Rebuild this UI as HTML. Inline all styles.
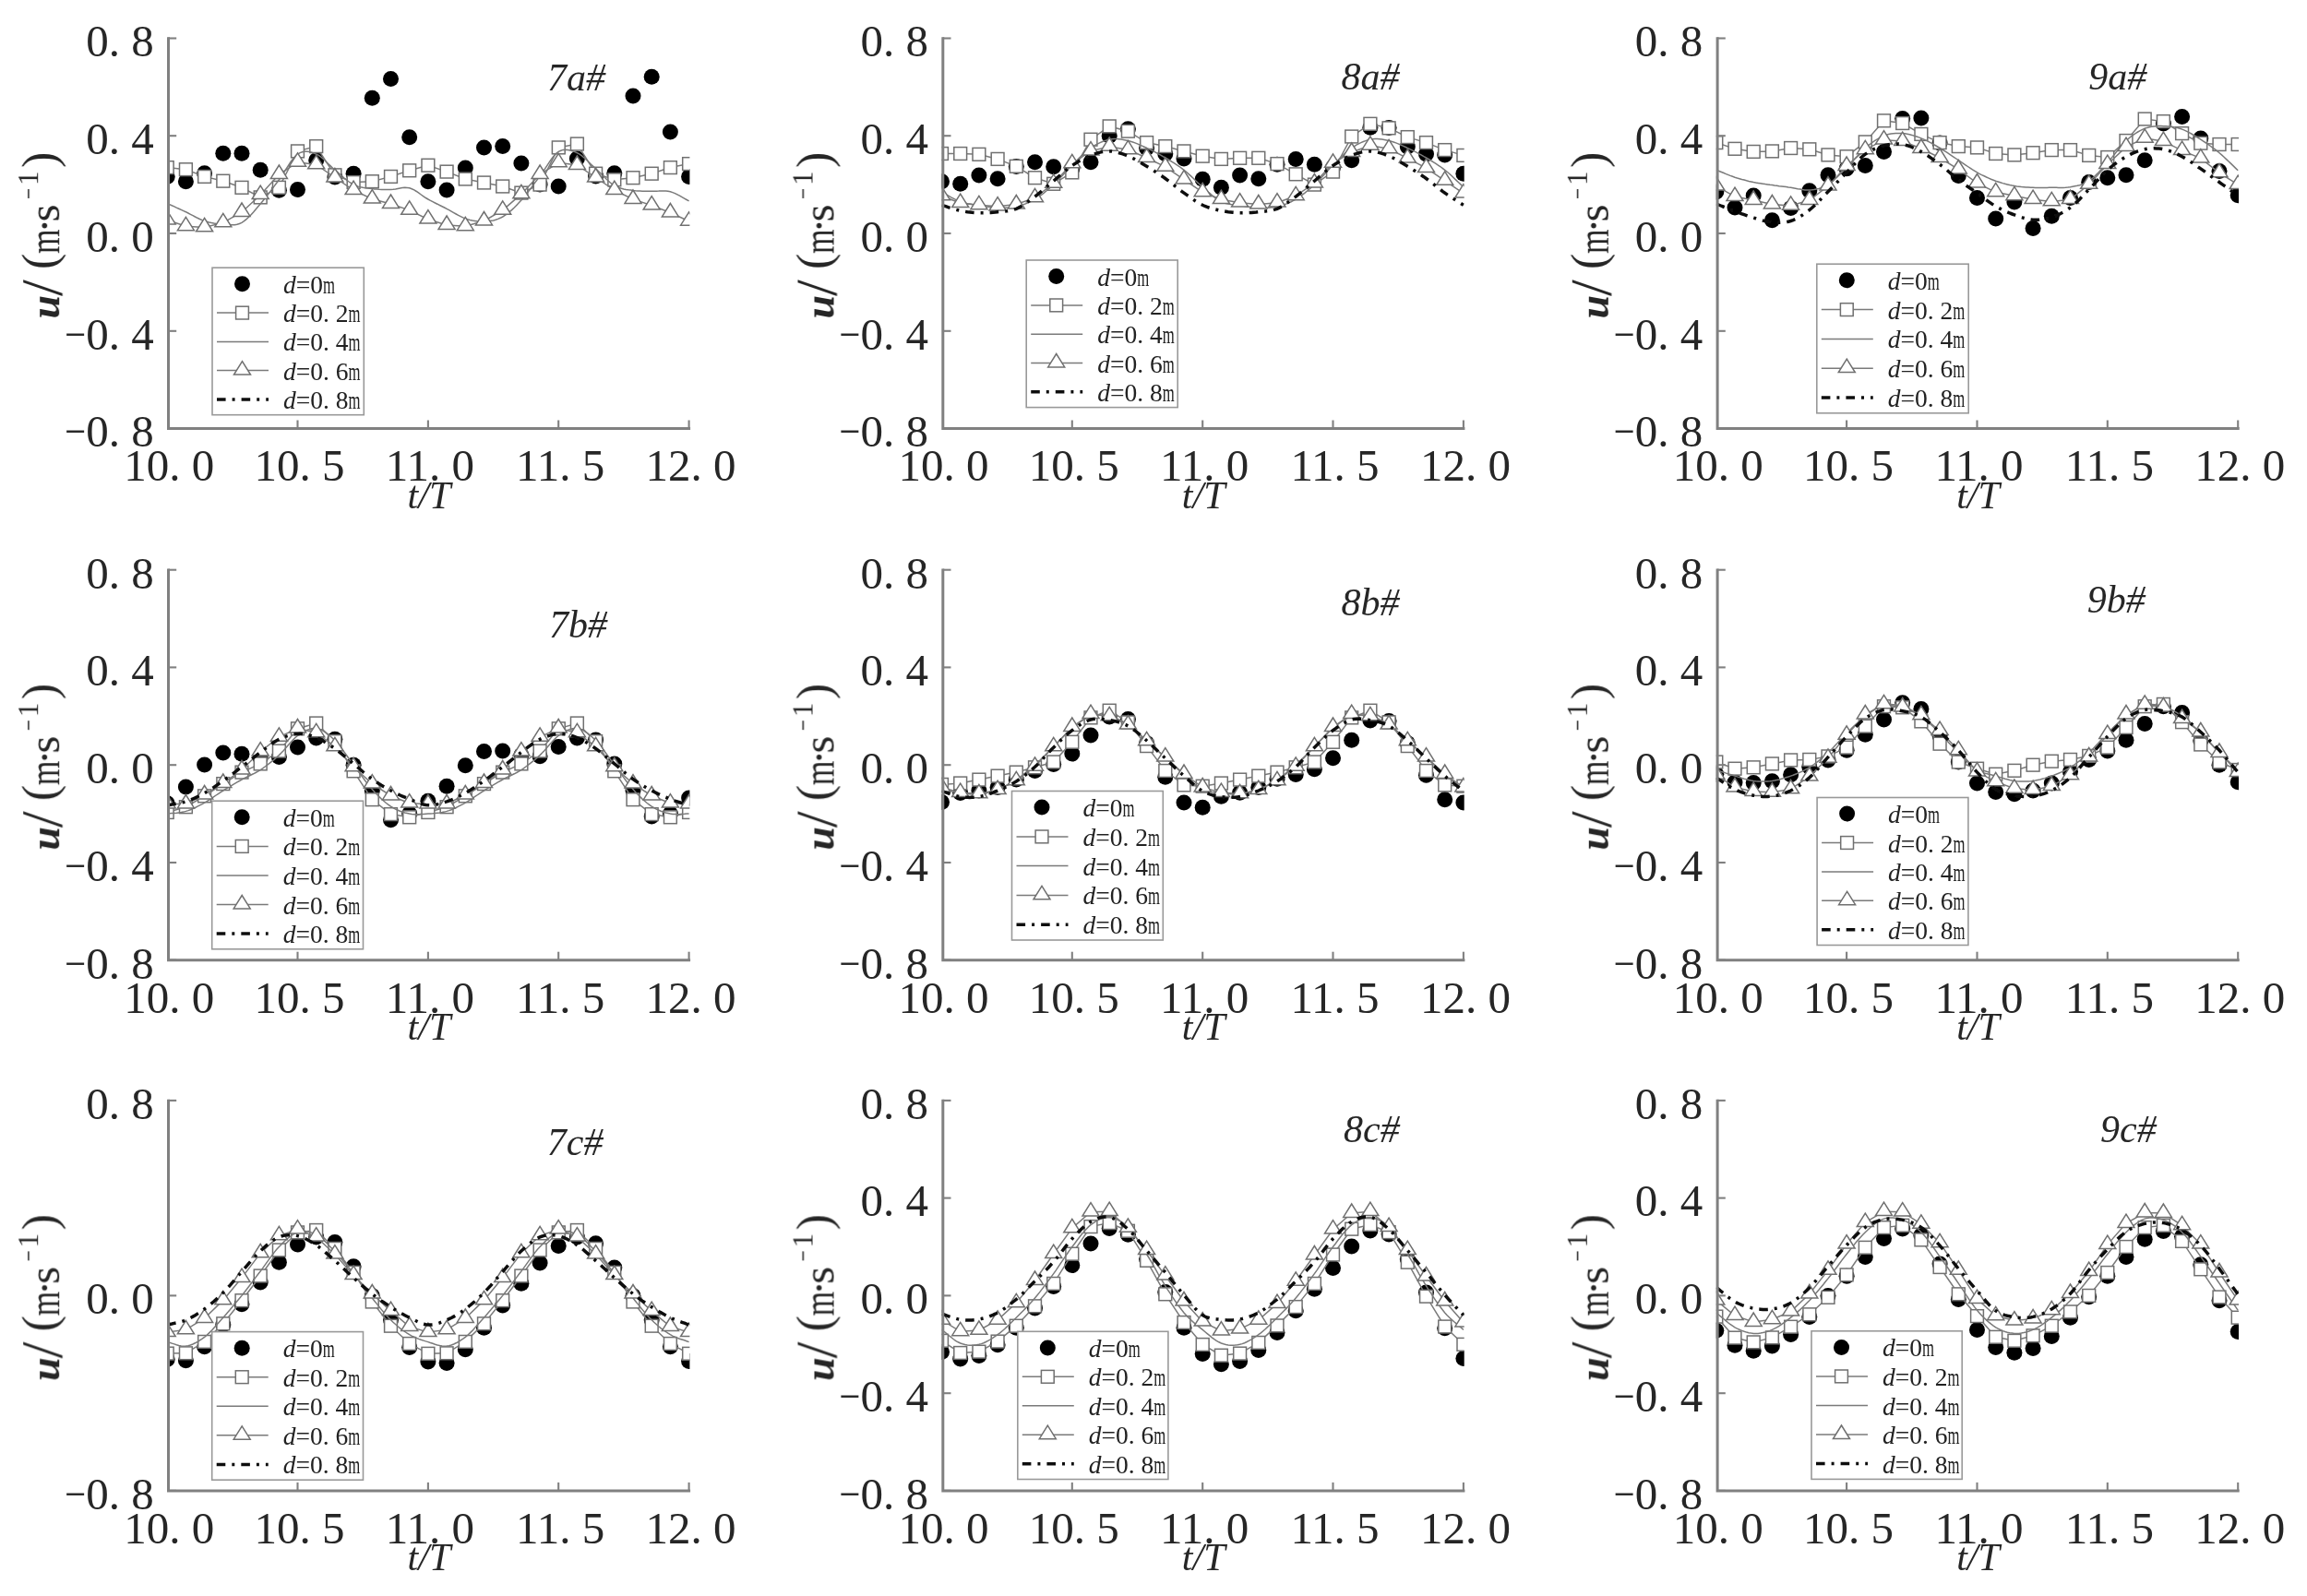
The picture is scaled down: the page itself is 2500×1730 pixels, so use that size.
<!DOCTYPE html>
<html><head><meta charset="utf-8"><title>u - t/T</title><style>
html,body{margin:0;padding:0;background:#fff}
svg{display:block}
text{font-family:"Liberation Serif",serif;fill:#272727}
.tk{font-size:49px}
.it{font-size:42px;font-style:italic}
.yl{font-size:49px}
.sup{font-size:30px}
.lg{font-size:27.5px;fill:#222}
.lm{font-size:21px}
</style></head>
<body><svg width="2500" height="1730" viewBox="0 0 2500 1730">
<defs><filter id="soft" filterUnits="userSpaceOnUse" x="0" y="0" width="2500" height="1730"><feGaussianBlur stdDeviation="0.7"/></filter></defs>
<rect width="2500" height="1730" fill="#fff"/>
<g filter="url(#soft)">
<g id="p7a"><clipPath id="clip7a"><rect x="181.2" y="31.5" width="566.2" height="433.0"/></clipPath>
<g clip-path="url(#clip7a)">
<circle cx="181.2" cy="191.4" r="8.5" fill="#000"/>
<circle cx="201.4" cy="196.7" r="8.5" fill="#000"/>
<circle cx="221.6" cy="187.7" r="8.5" fill="#000"/>
<circle cx="241.8" cy="166.3" r="8.5" fill="#000"/>
<circle cx="262.0" cy="166.3" r="8.5" fill="#000"/>
<circle cx="282.2" cy="184.3" r="8.5" fill="#000"/>
<circle cx="302.4" cy="206.2" r="8.5" fill="#000"/>
<circle cx="322.5" cy="205.4" r="8.5" fill="#000"/>
<circle cx="342.7" cy="173.7" r="8.5" fill="#000"/>
<circle cx="362.9" cy="191.9" r="8.5" fill="#000"/>
<circle cx="383.1" cy="188.2" r="8.5" fill="#000"/>
<circle cx="403.3" cy="106.3" r="8.5" fill="#000"/>
<circle cx="423.5" cy="85.6" r="8.5" fill="#000"/>
<circle cx="443.7" cy="148.8" r="8.5" fill="#000"/>
<circle cx="463.9" cy="196.7" r="8.5" fill="#000"/>
<circle cx="484.1" cy="205.9" r="8.5" fill="#000"/>
<circle cx="504.3" cy="181.9" r="8.5" fill="#000"/>
<circle cx="524.5" cy="159.9" r="8.5" fill="#000"/>
<circle cx="544.7" cy="158.6" r="8.5" fill="#000"/>
<circle cx="564.9" cy="177.1" r="8.5" fill="#000"/>
<circle cx="585.1" cy="199.9" r="8.5" fill="#000"/>
<circle cx="605.2" cy="202.0" r="8.5" fill="#000"/>
<circle cx="625.4" cy="172.1" r="8.5" fill="#000"/>
<circle cx="645.6" cy="190.9" r="8.5" fill="#000"/>
<circle cx="665.8" cy="187.7" r="8.5" fill="#000"/>
<circle cx="686.0" cy="103.9" r="8.5" fill="#000"/>
<circle cx="706.2" cy="83.3" r="8.5" fill="#000"/>
<circle cx="726.4" cy="143.0" r="8.5" fill="#000"/>
<circle cx="746.6" cy="191.4" r="8.5" fill="#000"/>
<polyline points="181.2,181.6 201.4,183.7 221.6,191.4 241.8,196.2 262.0,203.3 282.2,213.9 302.4,203.3 322.5,163.9 342.7,158.6 362.9,189.8 383.1,197.5 403.3,196.7 423.5,191.4 443.7,184.8 463.9,179.2 484.1,186.1 504.3,194.0 524.5,198.0 544.7,202.0 564.9,209.1 585.1,200.1 605.2,159.9 625.4,156.0 645.6,188.2 665.8,194.8 686.0,192.7 706.2,188.2 726.4,181.6 746.6,177.6" fill="none" stroke="#7a7a7a" stroke-width="1.5"/>
<rect x="174.3" y="174.7" width="13.8" height="13.8" fill="#fff" stroke="#707070" stroke-width="1.5"/>
<rect x="194.5" y="176.8" width="13.8" height="13.8" fill="#fff" stroke="#707070" stroke-width="1.5"/>
<rect x="214.7" y="184.5" width="13.8" height="13.8" fill="#fff" stroke="#707070" stroke-width="1.5"/>
<rect x="234.9" y="189.3" width="13.8" height="13.8" fill="#fff" stroke="#707070" stroke-width="1.5"/>
<rect x="255.1" y="196.4" width="13.8" height="13.8" fill="#fff" stroke="#707070" stroke-width="1.5"/>
<rect x="275.3" y="207.0" width="13.8" height="13.8" fill="#fff" stroke="#707070" stroke-width="1.5"/>
<rect x="295.5" y="196.4" width="13.8" height="13.8" fill="#fff" stroke="#707070" stroke-width="1.5"/>
<rect x="315.6" y="157.0" width="13.8" height="13.8" fill="#fff" stroke="#707070" stroke-width="1.5"/>
<rect x="335.8" y="151.7" width="13.8" height="13.8" fill="#fff" stroke="#707070" stroke-width="1.5"/>
<rect x="356.0" y="182.9" width="13.8" height="13.8" fill="#fff" stroke="#707070" stroke-width="1.5"/>
<rect x="376.2" y="190.6" width="13.8" height="13.8" fill="#fff" stroke="#707070" stroke-width="1.5"/>
<rect x="396.4" y="189.8" width="13.8" height="13.8" fill="#fff" stroke="#707070" stroke-width="1.5"/>
<rect x="416.6" y="184.5" width="13.8" height="13.8" fill="#fff" stroke="#707070" stroke-width="1.5"/>
<rect x="436.8" y="177.9" width="13.8" height="13.8" fill="#fff" stroke="#707070" stroke-width="1.5"/>
<rect x="457.0" y="172.3" width="13.8" height="13.8" fill="#fff" stroke="#707070" stroke-width="1.5"/>
<rect x="477.2" y="179.2" width="13.8" height="13.8" fill="#fff" stroke="#707070" stroke-width="1.5"/>
<rect x="497.4" y="187.1" width="13.8" height="13.8" fill="#fff" stroke="#707070" stroke-width="1.5"/>
<rect x="517.6" y="191.1" width="13.8" height="13.8" fill="#fff" stroke="#707070" stroke-width="1.5"/>
<rect x="537.8" y="195.1" width="13.8" height="13.8" fill="#fff" stroke="#707070" stroke-width="1.5"/>
<rect x="558.0" y="202.2" width="13.8" height="13.8" fill="#fff" stroke="#707070" stroke-width="1.5"/>
<rect x="578.2" y="193.2" width="13.8" height="13.8" fill="#fff" stroke="#707070" stroke-width="1.5"/>
<rect x="598.4" y="153.0" width="13.8" height="13.8" fill="#fff" stroke="#707070" stroke-width="1.5"/>
<rect x="618.5" y="149.1" width="13.8" height="13.8" fill="#fff" stroke="#707070" stroke-width="1.5"/>
<rect x="638.7" y="181.3" width="13.8" height="13.8" fill="#fff" stroke="#707070" stroke-width="1.5"/>
<rect x="658.9" y="187.9" width="13.8" height="13.8" fill="#fff" stroke="#707070" stroke-width="1.5"/>
<rect x="679.1" y="185.8" width="13.8" height="13.8" fill="#fff" stroke="#707070" stroke-width="1.5"/>
<rect x="699.3" y="181.3" width="13.8" height="13.8" fill="#fff" stroke="#707070" stroke-width="1.5"/>
<rect x="719.5" y="174.7" width="13.8" height="13.8" fill="#fff" stroke="#707070" stroke-width="1.5"/>
<rect x="739.7" y="170.7" width="13.8" height="13.8" fill="#fff" stroke="#707070" stroke-width="1.5"/>
<polyline points="181.2,220.5 183.7,221.6 186.2,222.8 188.8,223.9 191.3,225.1 193.8,226.2 196.3,227.4 198.9,228.6 201.4,229.7 203.9,231.0 206.4,232.3 209.0,233.6 211.5,235.0 214.0,236.3 216.5,237.5 219.1,238.6 221.6,239.5 224.1,240.3 226.6,241.0 229.2,241.6 231.7,242.1 234.2,242.5 236.7,242.8 239.3,243.1 241.8,243.2 244.3,243.4 246.8,243.6 249.4,243.7 251.9,243.8 254.4,243.7 256.9,243.3 259.4,242.5 262.0,241.4 264.5,239.7 267.0,237.7 269.5,235.3 272.1,232.7 274.6,229.9 277.1,226.9 279.6,224.0 282.2,221.0 284.7,218.0 287.2,214.9 289.7,211.7 292.3,208.4 294.8,205.0 297.3,201.6 299.8,198.2 302.4,194.8 304.9,191.2 307.4,187.4 309.9,183.3 312.5,179.3 315.0,175.5 317.5,172.1 320.0,169.2 322.5,167.1 325.1,165.6 327.6,164.7 330.1,164.3 332.6,164.3 335.2,164.6 337.7,165.2 340.2,166.1 342.7,167.1 345.3,168.4 347.8,170.2 350.3,172.3 352.8,174.7 355.4,177.2 357.9,179.6 360.4,182.1 362.9,184.3 365.5,186.4 368.0,188.6 370.5,190.8 373.0,193.0 375.6,195.1 378.1,197.0 380.6,198.7 383.1,200.1 385.7,201.3 388.2,202.1 390.7,202.8 393.2,203.3 395.7,203.7 398.3,204.0 400.8,204.3 403.3,204.6 405.8,204.9 408.4,205.1 410.9,205.3 413.4,205.4 415.9,205.4 418.5,205.5 421.0,205.4 423.5,205.4 426.0,205.2 428.6,204.9 431.1,204.4 433.6,203.9 436.1,203.5 438.7,203.3 441.2,203.4 443.7,203.8 446.2,204.7 448.8,205.9 451.3,207.5 453.8,209.2 456.3,211.0 458.9,212.8 461.4,214.5 463.9,216.0 466.4,217.4 468.9,218.7 471.5,220.0 474.0,221.2 476.5,222.5 479.0,223.7 481.6,225.0 484.1,226.3 486.6,227.7 489.1,229.1 491.7,230.6 494.2,232.0 496.7,233.4 499.2,234.7 501.8,235.9 504.3,236.9 506.8,237.7 509.3,238.4 511.9,239.0 514.4,239.4 516.9,239.8 519.4,240.0 522.0,240.1 524.5,240.0 527.0,239.9 529.5,239.7 532.1,239.3 534.6,238.9 537.1,238.2 539.6,237.4 542.1,236.3 544.7,235.0 547.2,233.4 549.7,231.6 552.2,229.6 554.8,227.4 557.3,225.0 559.8,222.4 562.3,219.8 564.9,217.0 567.4,214.2 569.9,211.1 572.4,207.8 575.0,204.5 577.5,201.1 580.0,197.6 582.5,194.2 585.1,190.9 587.6,187.4 590.1,183.6 592.6,179.8 595.2,175.9 597.7,172.3 600.2,169.1 602.7,166.4 605.2,164.4 607.8,163.2 610.3,162.4 612.8,162.2 615.3,162.4 617.9,162.9 620.4,163.7 622.9,164.6 625.4,165.7 628.0,167.1 630.5,168.9 633.0,171.0 635.5,173.3 638.1,175.7 640.6,178.2 643.1,180.6 645.6,182.9 648.2,185.3 650.7,187.7 653.2,190.3 655.7,192.8 658.3,195.2 660.8,197.5 663.3,199.5 665.8,201.2 668.4,202.5 670.9,203.5 673.4,204.3 675.9,204.9 678.4,205.4 681.0,205.8 683.5,206.1 686.0,206.5 688.5,206.8 691.1,207.0 693.6,207.1 696.1,207.2 698.6,207.2 701.2,207.2 703.7,207.2 706.2,207.3 708.7,207.3 711.3,207.2 713.8,207.1 716.3,206.9 718.8,206.9 721.4,207.0 723.9,207.3 726.4,207.8 728.9,208.6 731.5,209.6 734.0,210.9 736.5,212.2 739.0,213.6 741.6,215.1 744.1,216.5 746.6,217.8" fill="none" stroke="#7a7a7a" stroke-width="1.5"/>
<polyline points="181.2,238.5 201.4,245.3 221.6,246.4 241.8,241.4 262.0,230.0 282.2,211.2 302.4,189.0 322.5,175.8 342.7,178.4 362.9,192.5 383.1,206.2 403.3,215.7 423.5,221.0 443.7,227.9 463.9,237.7 484.1,244.0 504.3,245.3 524.5,239.5 544.7,227.9 564.9,210.4 585.1,189.0 605.2,176.3 625.4,179.0 645.6,192.5 665.8,206.2 686.0,216.0 706.2,222.6 726.4,230.5 746.6,239.8" fill="none" stroke="#7a7a7a" stroke-width="1.5"/>
<polygon points="181.2,228.5 172.2,242.9 190.2,242.9" fill="#fff" stroke="#707070" stroke-width="1.5"/>
<polygon points="201.4,235.3 192.4,249.7 210.4,249.7" fill="#fff" stroke="#707070" stroke-width="1.5"/>
<polygon points="221.6,236.4 212.6,250.8 230.6,250.8" fill="#fff" stroke="#707070" stroke-width="1.5"/>
<polygon points="241.8,231.4 232.8,245.8 250.8,245.8" fill="#fff" stroke="#707070" stroke-width="1.5"/>
<polygon points="262.0,220.0 253.0,234.4 271.0,234.4" fill="#fff" stroke="#707070" stroke-width="1.5"/>
<polygon points="282.2,201.2 273.2,215.6 291.2,215.6" fill="#fff" stroke="#707070" stroke-width="1.5"/>
<polygon points="302.4,179.0 293.4,193.4 311.4,193.4" fill="#fff" stroke="#707070" stroke-width="1.5"/>
<polygon points="322.5,165.8 313.5,180.2 331.5,180.2" fill="#fff" stroke="#707070" stroke-width="1.5"/>
<polygon points="342.7,168.4 333.7,182.8 351.7,182.8" fill="#fff" stroke="#707070" stroke-width="1.5"/>
<polygon points="362.9,182.5 353.9,196.9 371.9,196.9" fill="#fff" stroke="#707070" stroke-width="1.5"/>
<polygon points="383.1,196.2 374.1,210.6 392.1,210.6" fill="#fff" stroke="#707070" stroke-width="1.5"/>
<polygon points="403.3,205.7 394.3,220.1 412.3,220.1" fill="#fff" stroke="#707070" stroke-width="1.5"/>
<polygon points="423.5,211.0 414.5,225.4 432.5,225.4" fill="#fff" stroke="#707070" stroke-width="1.5"/>
<polygon points="443.7,217.9 434.7,232.3 452.7,232.3" fill="#fff" stroke="#707070" stroke-width="1.5"/>
<polygon points="463.9,227.7 454.9,242.1 472.9,242.1" fill="#fff" stroke="#707070" stroke-width="1.5"/>
<polygon points="484.1,234.0 475.1,248.4 493.1,248.4" fill="#fff" stroke="#707070" stroke-width="1.5"/>
<polygon points="504.3,235.3 495.3,249.7 513.3,249.7" fill="#fff" stroke="#707070" stroke-width="1.5"/>
<polygon points="524.5,229.5 515.5,243.9 533.5,243.9" fill="#fff" stroke="#707070" stroke-width="1.5"/>
<polygon points="544.7,217.9 535.7,232.3 553.7,232.3" fill="#fff" stroke="#707070" stroke-width="1.5"/>
<polygon points="564.9,200.4 555.9,214.8 573.9,214.8" fill="#fff" stroke="#707070" stroke-width="1.5"/>
<polygon points="585.1,179.0 576.1,193.4 594.1,193.4" fill="#fff" stroke="#707070" stroke-width="1.5"/>
<polygon points="605.2,166.3 596.2,180.7 614.2,180.7" fill="#fff" stroke="#707070" stroke-width="1.5"/>
<polygon points="625.4,169.0 616.4,183.4 634.4,183.4" fill="#fff" stroke="#707070" stroke-width="1.5"/>
<polygon points="645.6,182.5 636.6,196.9 654.6,196.9" fill="#fff" stroke="#707070" stroke-width="1.5"/>
<polygon points="665.8,196.2 656.8,210.6 674.8,210.6" fill="#fff" stroke="#707070" stroke-width="1.5"/>
<polygon points="686.0,206.0 677.0,220.4 695.0,220.4" fill="#fff" stroke="#707070" stroke-width="1.5"/>
<polygon points="706.2,212.6 697.2,227.0 715.2,227.0" fill="#fff" stroke="#707070" stroke-width="1.5"/>
<polygon points="726.4,220.5 717.4,234.9 735.4,234.9" fill="#fff" stroke="#707070" stroke-width="1.5"/>
<polygon points="746.6,229.8 737.6,244.2 755.6,244.2" fill="#fff" stroke="#707070" stroke-width="1.5"/>
</g>
<path d="M182.5,40.3 V464.5 H748.1" fill="none" stroke="#808080" stroke-width="3"/>
<line x1="182.2" y1="41.5" x2="191.2" y2="41.5" stroke="#808080" stroke-width="2.1"/>
<text class="tk" x="166.7" y="61.3" text-anchor="end">0. 8</text>
<line x1="182.2" y1="147.2" x2="191.2" y2="147.2" stroke="#808080" stroke-width="2.1"/>
<text class="tk" x="166.7" y="167.0" text-anchor="end">0. 4</text>
<line x1="182.2" y1="253.0" x2="191.2" y2="253.0" stroke="#808080" stroke-width="2.1"/>
<text class="tk" x="166.7" y="272.8" text-anchor="end">0. 0</text>
<line x1="182.2" y1="358.8" x2="191.2" y2="358.8" stroke="#808080" stroke-width="2.1"/>
<text class="tk" x="166.7" y="378.6" text-anchor="end"><tspan textLength="23" lengthAdjust="spacingAndGlyphs">−</tspan>0. 4</text>
<line x1="182.2" y1="464.5" x2="191.2" y2="464.5" stroke="#808080" stroke-width="2.1"/>
<text class="tk" x="166.7" y="484.3" text-anchor="end"><tspan textLength="23" lengthAdjust="spacingAndGlyphs">−</tspan>0. 8</text>
<text class="tk" x="183.2" y="521.3" text-anchor="middle">10. 0</text>
<line x1="322.5" y1="464.5" x2="322.5" y2="455.5" stroke="#808080" stroke-width="2.1"/>
<text class="tk" x="324.5" y="521.3" text-anchor="middle">10. 5</text>
<line x1="463.9" y1="464.5" x2="463.9" y2="455.5" stroke="#808080" stroke-width="2.1"/>
<text class="tk" x="465.9" y="521.3" text-anchor="middle">11. 0</text>
<line x1="605.2" y1="464.5" x2="605.2" y2="455.5" stroke="#808080" stroke-width="2.1"/>
<text class="tk" x="607.2" y="521.3" text-anchor="middle">11. 5</text>
<line x1="746.6" y1="464.5" x2="746.6" y2="455.5" stroke="#808080" stroke-width="2.1"/>
<text class="tk" x="748.6" y="521.3" text-anchor="middle">12. 0</text>
<text class="it" x="464.9" y="550.5" text-anchor="middle">t/T</text>
<text class="yl" transform="translate(64.2,345.0) rotate(-90)"><tspan x="-0.5" y="0" font-style="italic" font-weight="bold" font-size="46">u</tspan><tspan x="24" y="3" font-size="64">/</tspan><tspan x="53" y="-4" font-size="52">(</tspan><tspan x="70" y="0" textLength="26.5" lengthAdjust="spacingAndGlyphs">m</tspan><tspan x="92.2" y="0">·</tspan><tspan x="104.5" y="0">s</tspan><tspan x="129" y="-23" font-size="31" textLength="12" lengthAdjust="spacingAndGlyphs">−</tspan><tspan x="144" y="-23" font-size="31">1</tspan><tspan x="163" y="-4" font-size="52">)</tspan></text>
<text class="it" x="593.0" y="98.0">7a#</text>
<rect x="230.0" y="290.2" width="164.3" height="159.5" fill="#fff" stroke="#999" stroke-width="1.6"/>
<circle cx="262.5" cy="307.8" r="8.5" fill="#000"/>
<text class="lg" x="307.0" y="317.8"><tspan font-style="italic">d</tspan>=0<tspan textLength="13" lengthAdjust="spacingAndGlyphs">m</tspan></text>
<line x1="235.0" y1="339.1" x2="291.0" y2="339.1" stroke="#7a7a7a" stroke-width="1.5"/>
<rect x="255.6" y="332.2" width="13.8" height="13.8" fill="#fff" stroke="#707070" stroke-width="1.5"/>
<text class="lg" x="307.0" y="349.1"><tspan font-style="italic">d</tspan>=0. 2<tspan textLength="13" lengthAdjust="spacingAndGlyphs">m</tspan></text>
<line x1="235.0" y1="370.4" x2="291.0" y2="370.4" stroke="#7a7a7a" stroke-width="1.5"/>
<text class="lg" x="307.0" y="380.4"><tspan font-style="italic">d</tspan>=0. 4<tspan textLength="13" lengthAdjust="spacingAndGlyphs">m</tspan></text>
<line x1="235.0" y1="401.6" x2="291.0" y2="401.6" stroke="#7a7a7a" stroke-width="1.5"/>
<polygon points="262.5,391.6 253.5,406.0 271.5,406.0" fill="#fff" stroke="#707070" stroke-width="1.5"/>
<text class="lg" x="307.0" y="411.6"><tspan font-style="italic">d</tspan>=0. 6<tspan textLength="13" lengthAdjust="spacingAndGlyphs">m</tspan></text>
<line x1="235.0" y1="432.9" x2="291.0" y2="432.9" stroke="#111" stroke-width="3.5" stroke-dasharray="9.6 7 3 7"/>
<text class="lg" x="307.0" y="442.9"><tspan font-style="italic">d</tspan>=0. 8<tspan textLength="13" lengthAdjust="spacingAndGlyphs">m</tspan></text></g>
<g id="p8a"><clipPath id="clip8a"><rect x="1020.5" y="31.5" width="566.2" height="433.0"/></clipPath>
<g clip-path="url(#clip8a)">
<circle cx="1020.5" cy="196.7" r="8.5" fill="#000"/>
<circle cx="1040.7" cy="199.3" r="8.5" fill="#000"/>
<circle cx="1060.9" cy="190.1" r="8.5" fill="#000"/>
<circle cx="1081.1" cy="193.8" r="8.5" fill="#000"/>
<circle cx="1101.3" cy="180.6" r="8.5" fill="#000"/>
<circle cx="1121.5" cy="175.8" r="8.5" fill="#000"/>
<circle cx="1141.7" cy="180.8" r="8.5" fill="#000"/>
<circle cx="1161.8" cy="182.9" r="8.5" fill="#000"/>
<circle cx="1182.0" cy="175.8" r="8.5" fill="#000"/>
<circle cx="1202.2" cy="147.2" r="8.5" fill="#000"/>
<circle cx="1222.4" cy="139.8" r="8.5" fill="#000"/>
<circle cx="1242.6" cy="160.5" r="8.5" fill="#000"/>
<circle cx="1262.8" cy="166.8" r="8.5" fill="#000"/>
<circle cx="1283.0" cy="172.1" r="8.5" fill="#000"/>
<circle cx="1303.2" cy="194.3" r="8.5" fill="#000"/>
<circle cx="1323.4" cy="203.3" r="8.5" fill="#000"/>
<circle cx="1343.6" cy="190.1" r="8.5" fill="#000"/>
<circle cx="1363.8" cy="193.8" r="8.5" fill="#000"/>
<circle cx="1384.0" cy="178.2" r="8.5" fill="#000"/>
<circle cx="1404.2" cy="172.4" r="8.5" fill="#000"/>
<circle cx="1424.4" cy="178.2" r="8.5" fill="#000"/>
<circle cx="1444.5" cy="181.6" r="8.5" fill="#000"/>
<circle cx="1464.7" cy="173.7" r="8.5" fill="#000"/>
<circle cx="1484.9" cy="138.3" r="8.5" fill="#000"/>
<circle cx="1505.1" cy="138.5" r="8.5" fill="#000"/>
<circle cx="1525.3" cy="159.1" r="8.5" fill="#000"/>
<circle cx="1545.5" cy="167.1" r="8.5" fill="#000"/>
<circle cx="1565.7" cy="168.1" r="8.5" fill="#000"/>
<circle cx="1585.9" cy="188.2" r="8.5" fill="#000"/>
<polyline points="1020.5,166.5 1040.7,166.5 1060.9,167.3 1081.1,172.4 1101.3,180.3 1121.5,192.7 1141.7,199.3 1161.8,186.9 1182.0,151.2 1202.2,136.9 1222.4,142.2 1242.6,154.6 1262.8,158.6 1283.0,163.9 1303.2,169.2 1323.4,172.4 1343.6,171.3 1363.8,171.3 1384.0,177.6 1404.2,188.8 1424.4,200.1 1444.5,186.1 1464.7,148.0 1484.9,134.3 1505.1,138.8 1525.3,148.6 1545.5,154.6 1565.7,162.6 1585.9,168.4" fill="none" stroke="#7a7a7a" stroke-width="1.5"/>
<rect x="1013.6" y="159.6" width="13.8" height="13.8" fill="#fff" stroke="#707070" stroke-width="1.5"/>
<rect x="1033.8" y="159.6" width="13.8" height="13.8" fill="#fff" stroke="#707070" stroke-width="1.5"/>
<rect x="1054.0" y="160.4" width="13.8" height="13.8" fill="#fff" stroke="#707070" stroke-width="1.5"/>
<rect x="1074.2" y="165.5" width="13.8" height="13.8" fill="#fff" stroke="#707070" stroke-width="1.5"/>
<rect x="1094.4" y="173.4" width="13.8" height="13.8" fill="#fff" stroke="#707070" stroke-width="1.5"/>
<rect x="1114.6" y="185.8" width="13.8" height="13.8" fill="#fff" stroke="#707070" stroke-width="1.5"/>
<rect x="1134.8" y="192.4" width="13.8" height="13.8" fill="#fff" stroke="#707070" stroke-width="1.5"/>
<rect x="1154.9" y="180.0" width="13.8" height="13.8" fill="#fff" stroke="#707070" stroke-width="1.5"/>
<rect x="1175.1" y="144.3" width="13.8" height="13.8" fill="#fff" stroke="#707070" stroke-width="1.5"/>
<rect x="1195.3" y="130.0" width="13.8" height="13.8" fill="#fff" stroke="#707070" stroke-width="1.5"/>
<rect x="1215.5" y="135.3" width="13.8" height="13.8" fill="#fff" stroke="#707070" stroke-width="1.5"/>
<rect x="1235.7" y="147.7" width="13.8" height="13.8" fill="#fff" stroke="#707070" stroke-width="1.5"/>
<rect x="1255.9" y="151.7" width="13.8" height="13.8" fill="#fff" stroke="#707070" stroke-width="1.5"/>
<rect x="1276.1" y="157.0" width="13.8" height="13.8" fill="#fff" stroke="#707070" stroke-width="1.5"/>
<rect x="1296.3" y="162.3" width="13.8" height="13.8" fill="#fff" stroke="#707070" stroke-width="1.5"/>
<rect x="1316.5" y="165.5" width="13.8" height="13.8" fill="#fff" stroke="#707070" stroke-width="1.5"/>
<rect x="1336.7" y="164.4" width="13.8" height="13.8" fill="#fff" stroke="#707070" stroke-width="1.5"/>
<rect x="1356.9" y="164.4" width="13.8" height="13.8" fill="#fff" stroke="#707070" stroke-width="1.5"/>
<rect x="1377.1" y="170.7" width="13.8" height="13.8" fill="#fff" stroke="#707070" stroke-width="1.5"/>
<rect x="1397.3" y="181.9" width="13.8" height="13.8" fill="#fff" stroke="#707070" stroke-width="1.5"/>
<rect x="1417.5" y="193.2" width="13.8" height="13.8" fill="#fff" stroke="#707070" stroke-width="1.5"/>
<rect x="1437.6" y="179.2" width="13.8" height="13.8" fill="#fff" stroke="#707070" stroke-width="1.5"/>
<rect x="1457.8" y="141.1" width="13.8" height="13.8" fill="#fff" stroke="#707070" stroke-width="1.5"/>
<rect x="1478.0" y="127.4" width="13.8" height="13.8" fill="#fff" stroke="#707070" stroke-width="1.5"/>
<rect x="1498.2" y="131.9" width="13.8" height="13.8" fill="#fff" stroke="#707070" stroke-width="1.5"/>
<rect x="1518.4" y="141.7" width="13.8" height="13.8" fill="#fff" stroke="#707070" stroke-width="1.5"/>
<rect x="1538.6" y="147.7" width="13.8" height="13.8" fill="#fff" stroke="#707070" stroke-width="1.5"/>
<rect x="1558.8" y="155.7" width="13.8" height="13.8" fill="#fff" stroke="#707070" stroke-width="1.5"/>
<rect x="1579.0" y="161.5" width="13.8" height="13.8" fill="#fff" stroke="#707070" stroke-width="1.5"/>
<polyline points="1020.5,208.1 1023.0,209.4 1025.5,210.9 1028.1,212.3 1030.6,213.8 1033.1,215.1 1035.6,216.4 1038.2,217.6 1040.7,218.6 1043.2,219.4 1045.7,220.1 1048.3,220.7 1050.8,221.1 1053.3,221.5 1055.8,221.9 1058.4,222.2 1060.9,222.6 1063.4,223.0 1065.9,223.4 1068.5,223.9 1071.0,224.2 1073.5,224.6 1076.0,224.9 1078.6,225.1 1081.1,225.2 1083.6,225.3 1086.1,225.3 1088.7,225.3 1091.2,225.2 1093.7,225.1 1096.2,224.8 1098.7,224.4 1101.3,223.9 1103.8,223.3 1106.3,222.6 1108.8,221.8 1111.4,220.9 1113.9,219.8 1116.4,218.7 1118.9,217.4 1121.5,216.0 1124.0,214.4 1126.5,212.7 1129.0,210.8 1131.6,208.9 1134.1,206.8 1136.6,204.6 1139.1,202.4 1141.7,200.1 1144.2,197.7 1146.7,195.1 1149.2,192.5 1151.8,189.7 1154.3,186.9 1156.8,184.2 1159.3,181.5 1161.8,179.0 1164.4,176.5 1166.9,173.9 1169.4,171.4 1171.9,169.0 1174.5,166.6 1177.0,164.4 1179.5,162.3 1182.0,160.5 1184.6,158.8 1187.1,157.2 1189.6,155.8 1192.1,154.6 1194.7,153.5 1197.2,152.6 1199.7,151.8 1202.2,151.2 1204.8,150.8 1207.3,150.6 1209.8,150.6 1212.3,150.8 1214.9,151.1 1217.4,151.5 1219.9,152.0 1222.4,152.5 1225.0,153.2 1227.5,154.0 1230.0,154.9 1232.5,155.9 1235.0,157.0 1237.6,158.1 1240.1,159.3 1242.6,160.5 1245.1,161.6 1247.7,162.9 1250.2,164.1 1252.7,165.4 1255.2,166.8 1257.8,168.1 1260.3,169.6 1262.8,171.0 1265.3,172.5 1267.9,174.0 1270.4,175.6 1272.9,177.2 1275.4,178.8 1278.0,180.5 1280.5,182.3 1283.0,184.3 1285.5,186.3 1288.1,188.6 1290.6,190.9 1293.1,193.3 1295.6,195.8 1298.2,198.2 1300.7,200.5 1303.2,202.8 1305.7,205.0 1308.2,207.2 1310.8,209.4 1313.3,211.6 1315.8,213.7 1318.3,215.6 1320.9,217.2 1323.4,218.6 1325.9,219.7 1328.4,220.5 1331.0,221.0 1333.5,221.4 1336.0,221.7 1338.5,222.0 1341.1,222.2 1343.6,222.6 1346.1,223.0 1348.6,223.4 1351.2,223.9 1353.7,224.2 1356.2,224.6 1358.7,224.9 1361.3,225.1 1363.8,225.2 1366.3,225.3 1368.8,225.3 1371.4,225.3 1373.9,225.2 1376.4,225.1 1378.9,224.8 1381.4,224.4 1384.0,223.9 1386.5,223.3 1389.0,222.6 1391.5,221.8 1394.1,220.9 1396.6,219.8 1399.1,218.7 1401.6,217.4 1404.2,216.0 1406.7,214.4 1409.2,212.7 1411.7,210.8 1414.3,208.9 1416.8,206.8 1419.3,204.6 1421.8,202.4 1424.4,200.1 1426.9,197.7 1429.4,195.1 1431.9,192.5 1434.5,189.7 1437.0,186.9 1439.5,184.2 1442.0,181.5 1444.5,179.0 1447.1,176.5 1449.6,173.9 1452.1,171.4 1454.6,169.0 1457.2,166.6 1459.7,164.4 1462.2,162.3 1464.7,160.5 1467.3,158.8 1469.8,157.2 1472.3,155.8 1474.8,154.6 1477.4,153.5 1479.9,152.6 1482.4,151.8 1484.9,151.2 1487.5,150.8 1490.0,150.6 1492.5,150.6 1495.0,150.8 1497.6,151.1 1500.1,151.5 1502.6,152.0 1505.1,152.5 1507.7,153.2 1510.2,154.0 1512.7,154.9 1515.2,155.9 1517.7,157.0 1520.3,158.1 1522.8,159.3 1525.3,160.5 1527.8,161.6 1530.4,162.9 1532.9,164.1 1535.4,165.4 1537.9,166.8 1540.5,168.1 1543.0,169.6 1545.5,171.0 1548.0,172.5 1550.6,174.0 1553.1,175.6 1555.6,177.2 1558.1,178.8 1560.7,180.5 1563.2,182.3 1565.7,184.3 1568.2,186.3 1570.8,188.5 1573.3,190.8 1575.8,193.2 1578.3,195.6 1580.9,198.0 1583.4,200.4 1585.9,202.8" fill="none" stroke="#7a7a7a" stroke-width="1.5"/>
<polyline points="1020.5,212.3 1040.7,220.2 1060.9,222.3 1081.1,223.7 1101.3,221.5 1121.5,214.4 1141.7,198.8 1161.8,177.4 1182.0,163.6 1202.2,158.9 1222.4,162.3 1242.6,171.0 1262.8,180.8 1283.0,194.6 1303.2,208.3 1323.4,216.2 1343.6,219.7 1363.8,221.5 1384.0,219.7 1404.2,212.3 1424.4,198.5 1444.5,176.9 1464.7,165.0 1484.9,157.8 1505.1,161.3 1525.3,171.6 1545.5,182.1 1565.7,195.9 1585.9,209.6" fill="none" stroke="#7a7a7a" stroke-width="1.5"/>
<polygon points="1020.5,202.3 1011.5,216.7 1029.5,216.7" fill="#fff" stroke="#707070" stroke-width="1.5"/>
<polygon points="1040.7,210.2 1031.7,224.6 1049.7,224.6" fill="#fff" stroke="#707070" stroke-width="1.5"/>
<polygon points="1060.9,212.3 1051.9,226.7 1069.9,226.7" fill="#fff" stroke="#707070" stroke-width="1.5"/>
<polygon points="1081.1,213.7 1072.1,228.1 1090.1,228.1" fill="#fff" stroke="#707070" stroke-width="1.5"/>
<polygon points="1101.3,211.5 1092.3,225.9 1110.3,225.9" fill="#fff" stroke="#707070" stroke-width="1.5"/>
<polygon points="1121.5,204.4 1112.5,218.8 1130.5,218.8" fill="#fff" stroke="#707070" stroke-width="1.5"/>
<polygon points="1141.7,188.8 1132.7,203.2 1150.7,203.2" fill="#fff" stroke="#707070" stroke-width="1.5"/>
<polygon points="1161.8,167.4 1152.8,181.8 1170.8,181.8" fill="#fff" stroke="#707070" stroke-width="1.5"/>
<polygon points="1182.0,153.6 1173.0,168.0 1191.0,168.0" fill="#fff" stroke="#707070" stroke-width="1.5"/>
<polygon points="1202.2,148.9 1193.2,163.3 1211.2,163.3" fill="#fff" stroke="#707070" stroke-width="1.5"/>
<polygon points="1222.4,152.3 1213.4,166.7 1231.4,166.7" fill="#fff" stroke="#707070" stroke-width="1.5"/>
<polygon points="1242.6,161.0 1233.6,175.4 1251.6,175.4" fill="#fff" stroke="#707070" stroke-width="1.5"/>
<polygon points="1262.8,170.8 1253.8,185.2 1271.8,185.2" fill="#fff" stroke="#707070" stroke-width="1.5"/>
<polygon points="1283.0,184.6 1274.0,199.0 1292.0,199.0" fill="#fff" stroke="#707070" stroke-width="1.5"/>
<polygon points="1303.2,198.3 1294.2,212.7 1312.2,212.7" fill="#fff" stroke="#707070" stroke-width="1.5"/>
<polygon points="1323.4,206.2 1314.4,220.6 1332.4,220.6" fill="#fff" stroke="#707070" stroke-width="1.5"/>
<polygon points="1343.6,209.7 1334.6,224.1 1352.6,224.1" fill="#fff" stroke="#707070" stroke-width="1.5"/>
<polygon points="1363.8,211.5 1354.8,225.9 1372.8,225.9" fill="#fff" stroke="#707070" stroke-width="1.5"/>
<polygon points="1384.0,209.7 1375.0,224.1 1393.0,224.1" fill="#fff" stroke="#707070" stroke-width="1.5"/>
<polygon points="1404.2,202.3 1395.2,216.7 1413.2,216.7" fill="#fff" stroke="#707070" stroke-width="1.5"/>
<polygon points="1424.4,188.5 1415.4,202.9 1433.4,202.9" fill="#fff" stroke="#707070" stroke-width="1.5"/>
<polygon points="1444.5,166.9 1435.5,181.3 1453.5,181.3" fill="#fff" stroke="#707070" stroke-width="1.5"/>
<polygon points="1464.7,155.0 1455.7,169.4 1473.7,169.4" fill="#fff" stroke="#707070" stroke-width="1.5"/>
<polygon points="1484.9,147.8 1475.9,162.2 1493.9,162.2" fill="#fff" stroke="#707070" stroke-width="1.5"/>
<polygon points="1505.1,151.3 1496.1,165.7 1514.1,165.7" fill="#fff" stroke="#707070" stroke-width="1.5"/>
<polygon points="1525.3,161.6 1516.3,176.0 1534.3,176.0" fill="#fff" stroke="#707070" stroke-width="1.5"/>
<polygon points="1545.5,172.1 1536.5,186.5 1554.5,186.5" fill="#fff" stroke="#707070" stroke-width="1.5"/>
<polygon points="1565.7,185.9 1556.7,200.3 1574.7,200.3" fill="#fff" stroke="#707070" stroke-width="1.5"/>
<polygon points="1585.9,199.6 1576.9,214.0 1594.9,214.0" fill="#fff" stroke="#707070" stroke-width="1.5"/>
<polyline points="1020.5,222.3 1023.0,223.1 1025.5,223.9 1028.1,224.8 1030.6,225.6 1033.1,226.4 1035.6,227.2 1038.2,227.8 1040.7,228.4 1043.2,228.9 1045.7,229.3 1048.3,229.7 1050.8,230.0 1053.3,230.3 1055.8,230.5 1058.4,230.7 1060.9,230.8 1063.4,230.8 1065.9,230.8 1068.5,230.8 1071.0,230.6 1073.5,230.5 1076.0,230.2 1078.6,230.0 1081.1,229.7 1083.6,229.5 1086.1,229.3 1088.7,229.0 1091.2,228.8 1093.7,228.4 1096.2,227.9 1098.7,227.2 1101.3,226.3 1103.8,225.1 1106.3,223.8 1108.8,222.2 1111.4,220.5 1113.9,218.7 1116.4,216.9 1118.9,215.0 1121.5,213.1 1124.0,211.1 1126.5,209.1 1129.0,207.0 1131.6,204.8 1134.1,202.6 1136.6,200.5 1139.1,198.3 1141.7,196.2 1144.2,194.0 1146.7,191.8 1149.2,189.6 1151.8,187.5 1154.3,185.3 1156.8,183.3 1159.3,181.3 1161.8,179.5 1164.4,177.8 1166.9,176.2 1169.4,174.6 1171.9,173.2 1174.5,171.8 1177.0,170.6 1179.5,169.4 1182.0,168.4 1184.6,167.4 1187.1,166.6 1189.6,165.8 1192.1,165.1 1194.7,164.6 1197.2,164.2 1199.7,163.9 1202.2,163.9 1204.8,164.1 1207.3,164.4 1209.8,164.9 1212.3,165.6 1214.9,166.3 1217.4,167.2 1219.9,168.2 1222.4,169.2 1225.0,170.3 1227.5,171.5 1230.0,172.8 1232.5,174.2 1235.0,175.7 1237.6,177.2 1240.1,178.8 1242.6,180.3 1245.1,181.8 1247.7,183.4 1250.2,185.0 1252.7,186.6 1255.2,188.3 1257.8,190.0 1260.3,191.7 1262.8,193.5 1265.3,195.4 1267.9,197.3 1270.4,199.3 1272.9,201.3 1275.4,203.3 1278.0,205.3 1280.5,207.3 1283.0,209.1 1285.5,210.9 1288.1,212.7 1290.6,214.6 1293.1,216.3 1295.6,218.0 1298.2,219.6 1300.7,221.0 1303.2,222.3 1305.7,223.5 1308.2,224.4 1310.8,225.3 1313.3,226.0 1315.8,226.7 1318.3,227.3 1320.9,227.9 1323.4,228.4 1325.9,228.9 1328.4,229.3 1331.0,229.7 1333.5,230.0 1336.0,230.3 1338.5,230.5 1341.1,230.7 1343.6,230.8 1346.1,230.8 1348.6,230.8 1351.2,230.8 1353.7,230.6 1356.2,230.5 1358.7,230.2 1361.3,230.0 1363.8,229.7 1366.3,229.5 1368.8,229.3 1371.4,229.0 1373.9,228.8 1376.4,228.4 1378.9,227.9 1381.4,227.2 1384.0,226.3 1386.5,225.1 1389.0,223.8 1391.5,222.2 1394.1,220.5 1396.6,218.7 1399.1,216.9 1401.6,215.0 1404.2,213.1 1406.7,211.1 1409.2,209.1 1411.7,207.0 1414.3,204.8 1416.8,202.6 1419.3,200.5 1421.8,198.3 1424.4,196.2 1426.9,194.0 1429.4,191.8 1431.9,189.6 1434.5,187.5 1437.0,185.3 1439.5,183.3 1442.0,181.3 1444.5,179.5 1447.1,177.8 1449.6,176.2 1452.1,174.6 1454.6,173.2 1457.2,171.8 1459.7,170.6 1462.2,169.4 1464.7,168.4 1467.3,167.4 1469.8,166.6 1472.3,165.8 1474.8,165.1 1477.4,164.6 1479.9,164.2 1482.4,163.9 1484.9,163.9 1487.5,164.1 1490.0,164.4 1492.5,164.9 1495.0,165.6 1497.6,166.3 1500.1,167.2 1502.6,168.2 1505.1,169.2 1507.7,170.3 1510.2,171.5 1512.7,172.8 1515.2,174.2 1517.7,175.7 1520.3,177.2 1522.8,178.8 1525.3,180.3 1527.8,181.8 1530.4,183.4 1532.9,185.0 1535.4,186.6 1537.9,188.3 1540.5,190.0 1543.0,191.7 1545.5,193.5 1548.0,195.4 1550.6,197.3 1553.1,199.3 1555.6,201.3 1558.1,203.3 1560.7,205.3 1563.2,207.3 1565.7,209.1 1568.2,210.9 1570.8,212.6 1573.3,214.2 1575.8,215.9 1578.3,217.5 1580.9,219.1 1583.4,220.7 1585.9,222.3" fill="none" stroke="#111" stroke-width="3.5" stroke-dasharray="9.6 7 3 7"/>
</g>
<path d="M1021.8,40.3 V464.5 H1587.4" fill="none" stroke="#808080" stroke-width="3"/>
<line x1="1021.5" y1="41.5" x2="1030.5" y2="41.5" stroke="#808080" stroke-width="2.1"/>
<text class="tk" x="1006.0" y="61.3" text-anchor="end">0. 8</text>
<line x1="1021.5" y1="147.2" x2="1030.5" y2="147.2" stroke="#808080" stroke-width="2.1"/>
<text class="tk" x="1006.0" y="167.0" text-anchor="end">0. 4</text>
<line x1="1021.5" y1="253.0" x2="1030.5" y2="253.0" stroke="#808080" stroke-width="2.1"/>
<text class="tk" x="1006.0" y="272.8" text-anchor="end">0. 0</text>
<line x1="1021.5" y1="358.8" x2="1030.5" y2="358.8" stroke="#808080" stroke-width="2.1"/>
<text class="tk" x="1006.0" y="378.6" text-anchor="end"><tspan textLength="23" lengthAdjust="spacingAndGlyphs">−</tspan>0. 4</text>
<line x1="1021.5" y1="464.5" x2="1030.5" y2="464.5" stroke="#808080" stroke-width="2.1"/>
<text class="tk" x="1006.0" y="484.3" text-anchor="end"><tspan textLength="23" lengthAdjust="spacingAndGlyphs">−</tspan>0. 8</text>
<text class="tk" x="1022.5" y="521.3" text-anchor="middle">10. 0</text>
<line x1="1161.8" y1="464.5" x2="1161.8" y2="455.5" stroke="#808080" stroke-width="2.1"/>
<text class="tk" x="1163.8" y="521.3" text-anchor="middle">10. 5</text>
<line x1="1303.2" y1="464.5" x2="1303.2" y2="455.5" stroke="#808080" stroke-width="2.1"/>
<text class="tk" x="1305.2" y="521.3" text-anchor="middle">11. 0</text>
<line x1="1444.5" y1="464.5" x2="1444.5" y2="455.5" stroke="#808080" stroke-width="2.1"/>
<text class="tk" x="1446.5" y="521.3" text-anchor="middle">11. 5</text>
<line x1="1585.9" y1="464.5" x2="1585.9" y2="455.5" stroke="#808080" stroke-width="2.1"/>
<text class="tk" x="1587.9" y="521.3" text-anchor="middle">12. 0</text>
<text class="it" x="1304.2" y="550.5" text-anchor="middle">t/T</text>
<text class="yl" transform="translate(903.5,345.0) rotate(-90)"><tspan x="-0.5" y="0" font-style="italic" font-weight="bold" font-size="46">u</tspan><tspan x="24" y="3" font-size="64">/</tspan><tspan x="53" y="-4" font-size="52">(</tspan><tspan x="70" y="0" textLength="26.5" lengthAdjust="spacingAndGlyphs">m</tspan><tspan x="92.2" y="0">·</tspan><tspan x="104.5" y="0">s</tspan><tspan x="129" y="-23" font-size="31" textLength="12" lengthAdjust="spacingAndGlyphs">−</tspan><tspan x="144" y="-23" font-size="31">1</tspan><tspan x="163" y="-4" font-size="52">)</tspan></text>
<text class="it" x="1453.5" y="97.0">8a#</text>
<rect x="1112.2" y="282.0" width="164.0" height="159.6" fill="#fff" stroke="#999" stroke-width="1.6"/>
<circle cx="1144.7" cy="299.6" r="8.5" fill="#000"/>
<text class="lg" x="1189.2" y="309.6"><tspan font-style="italic">d</tspan>=0<tspan textLength="13" lengthAdjust="spacingAndGlyphs">m</tspan></text>
<line x1="1117.2" y1="330.9" x2="1173.2" y2="330.9" stroke="#7a7a7a" stroke-width="1.5"/>
<rect x="1137.8" y="324.0" width="13.8" height="13.8" fill="#fff" stroke="#707070" stroke-width="1.5"/>
<text class="lg" x="1189.2" y="340.9"><tspan font-style="italic">d</tspan>=0. 2<tspan textLength="13" lengthAdjust="spacingAndGlyphs">m</tspan></text>
<line x1="1117.2" y1="362.2" x2="1173.2" y2="362.2" stroke="#7a7a7a" stroke-width="1.5"/>
<text class="lg" x="1189.2" y="372.2"><tspan font-style="italic">d</tspan>=0. 4<tspan textLength="13" lengthAdjust="spacingAndGlyphs">m</tspan></text>
<line x1="1117.2" y1="393.5" x2="1173.2" y2="393.5" stroke="#7a7a7a" stroke-width="1.5"/>
<polygon points="1144.7,383.5 1135.7,397.9 1153.7,397.9" fill="#fff" stroke="#707070" stroke-width="1.5"/>
<text class="lg" x="1189.2" y="403.5"><tspan font-style="italic">d</tspan>=0. 6<tspan textLength="13" lengthAdjust="spacingAndGlyphs">m</tspan></text>
<line x1="1117.2" y1="424.8" x2="1173.2" y2="424.8" stroke="#111" stroke-width="3.5" stroke-dasharray="9.6 7 3 7"/>
<text class="lg" x="1189.2" y="434.8"><tspan font-style="italic">d</tspan>=0. 8<tspan textLength="13" lengthAdjust="spacingAndGlyphs">m</tspan></text></g>
<g id="p9a"><clipPath id="clip9a"><rect x="1859.8" y="31.5" width="566.2" height="433.0"/></clipPath>
<g clip-path="url(#clip9a)">
<circle cx="1859.8" cy="208.1" r="8.5" fill="#000"/>
<circle cx="1880.0" cy="225.0" r="8.5" fill="#000"/>
<circle cx="1900.2" cy="212.0" r="8.5" fill="#000"/>
<circle cx="1920.4" cy="238.7" r="8.5" fill="#000"/>
<circle cx="1940.6" cy="225.5" r="8.5" fill="#000"/>
<circle cx="1960.8" cy="206.7" r="8.5" fill="#000"/>
<circle cx="1981.0" cy="189.8" r="8.5" fill="#000"/>
<circle cx="2001.1" cy="182.7" r="8.5" fill="#000"/>
<circle cx="2021.3" cy="179.5" r="8.5" fill="#000"/>
<circle cx="2041.5" cy="164.4" r="8.5" fill="#000"/>
<circle cx="2061.7" cy="128.5" r="8.5" fill="#000"/>
<circle cx="2081.9" cy="127.9" r="8.5" fill="#000"/>
<circle cx="2102.1" cy="154.9" r="8.5" fill="#000"/>
<circle cx="2122.3" cy="190.6" r="8.5" fill="#000"/>
<circle cx="2142.5" cy="214.4" r="8.5" fill="#000"/>
<circle cx="2162.7" cy="236.9" r="8.5" fill="#000"/>
<circle cx="2182.9" cy="218.9" r="8.5" fill="#000"/>
<circle cx="2203.1" cy="247.4" r="8.5" fill="#000"/>
<circle cx="2223.3" cy="234.2" r="8.5" fill="#000"/>
<circle cx="2243.5" cy="214.4" r="8.5" fill="#000"/>
<circle cx="2263.7" cy="197.5" r="8.5" fill="#000"/>
<circle cx="2283.8" cy="192.7" r="8.5" fill="#000"/>
<circle cx="2304.0" cy="189.8" r="8.5" fill="#000"/>
<circle cx="2324.2" cy="173.7" r="8.5" fill="#000"/>
<circle cx="2344.4" cy="134.0" r="8.5" fill="#000"/>
<circle cx="2364.6" cy="126.6" r="8.5" fill="#000"/>
<circle cx="2384.8" cy="150.1" r="8.5" fill="#000"/>
<circle cx="2405.0" cy="185.6" r="8.5" fill="#000"/>
<circle cx="2425.2" cy="211.8" r="8.5" fill="#000"/>
<polyline points="1859.8,154.6 1880.0,161.3 1900.2,164.4 1920.4,163.9 1940.6,160.5 1960.8,161.8 1981.0,167.9 2001.1,169.7 2021.3,153.9 2041.5,130.8 2061.7,133.5 2081.9,145.4 2102.1,154.6 2122.3,158.6 2142.5,159.9 2162.7,166.5 2182.9,167.9 2203.1,165.7 2223.3,162.6 2243.5,162.6 2263.7,168.4 2283.8,170.5 2304.0,152.5 2324.2,129.0 2344.4,131.6 2364.6,144.6 2384.8,155.2 2405.0,156.5 2425.2,156.5" fill="none" stroke="#7a7a7a" stroke-width="1.5"/>
<rect x="1852.9" y="147.7" width="13.8" height="13.8" fill="#fff" stroke="#707070" stroke-width="1.5"/>
<rect x="1873.1" y="154.4" width="13.8" height="13.8" fill="#fff" stroke="#707070" stroke-width="1.5"/>
<rect x="1893.3" y="157.5" width="13.8" height="13.8" fill="#fff" stroke="#707070" stroke-width="1.5"/>
<rect x="1913.5" y="157.0" width="13.8" height="13.8" fill="#fff" stroke="#707070" stroke-width="1.5"/>
<rect x="1933.7" y="153.6" width="13.8" height="13.8" fill="#fff" stroke="#707070" stroke-width="1.5"/>
<rect x="1953.9" y="154.9" width="13.8" height="13.8" fill="#fff" stroke="#707070" stroke-width="1.5"/>
<rect x="1974.1" y="161.0" width="13.8" height="13.8" fill="#fff" stroke="#707070" stroke-width="1.5"/>
<rect x="1994.2" y="162.8" width="13.8" height="13.8" fill="#fff" stroke="#707070" stroke-width="1.5"/>
<rect x="2014.4" y="147.0" width="13.8" height="13.8" fill="#fff" stroke="#707070" stroke-width="1.5"/>
<rect x="2034.6" y="123.9" width="13.8" height="13.8" fill="#fff" stroke="#707070" stroke-width="1.5"/>
<rect x="2054.8" y="126.6" width="13.8" height="13.8" fill="#fff" stroke="#707070" stroke-width="1.5"/>
<rect x="2075.0" y="138.5" width="13.8" height="13.8" fill="#fff" stroke="#707070" stroke-width="1.5"/>
<rect x="2095.2" y="147.7" width="13.8" height="13.8" fill="#fff" stroke="#707070" stroke-width="1.5"/>
<rect x="2115.4" y="151.7" width="13.8" height="13.8" fill="#fff" stroke="#707070" stroke-width="1.5"/>
<rect x="2135.6" y="153.0" width="13.8" height="13.8" fill="#fff" stroke="#707070" stroke-width="1.5"/>
<rect x="2155.8" y="159.6" width="13.8" height="13.8" fill="#fff" stroke="#707070" stroke-width="1.5"/>
<rect x="2176.0" y="161.0" width="13.8" height="13.8" fill="#fff" stroke="#707070" stroke-width="1.5"/>
<rect x="2196.2" y="158.8" width="13.8" height="13.8" fill="#fff" stroke="#707070" stroke-width="1.5"/>
<rect x="2216.4" y="155.7" width="13.8" height="13.8" fill="#fff" stroke="#707070" stroke-width="1.5"/>
<rect x="2236.6" y="155.7" width="13.8" height="13.8" fill="#fff" stroke="#707070" stroke-width="1.5"/>
<rect x="2256.8" y="161.5" width="13.8" height="13.8" fill="#fff" stroke="#707070" stroke-width="1.5"/>
<rect x="2276.9" y="163.6" width="13.8" height="13.8" fill="#fff" stroke="#707070" stroke-width="1.5"/>
<rect x="2297.1" y="145.6" width="13.8" height="13.8" fill="#fff" stroke="#707070" stroke-width="1.5"/>
<rect x="2317.3" y="122.1" width="13.8" height="13.8" fill="#fff" stroke="#707070" stroke-width="1.5"/>
<rect x="2337.5" y="124.7" width="13.8" height="13.8" fill="#fff" stroke="#707070" stroke-width="1.5"/>
<rect x="2357.7" y="137.7" width="13.8" height="13.8" fill="#fff" stroke="#707070" stroke-width="1.5"/>
<rect x="2377.9" y="148.3" width="13.8" height="13.8" fill="#fff" stroke="#707070" stroke-width="1.5"/>
<rect x="2398.1" y="149.6" width="13.8" height="13.8" fill="#fff" stroke="#707070" stroke-width="1.5"/>
<rect x="2418.3" y="149.6" width="13.8" height="13.8" fill="#fff" stroke="#707070" stroke-width="1.5"/>
<polyline points="1859.8,184.3 1862.3,185.3 1864.8,186.3 1867.4,187.3 1869.9,188.4 1872.4,189.4 1874.9,190.4 1877.5,191.3 1880.0,192.2 1882.5,193.0 1885.0,193.7 1887.6,194.5 1890.1,195.1 1892.6,195.8 1895.1,196.4 1897.7,196.9 1900.2,197.5 1902.7,198.0 1905.2,198.4 1907.8,198.8 1910.3,199.2 1912.8,199.6 1915.3,199.9 1917.9,200.3 1920.4,200.6 1922.9,201.0 1925.4,201.3 1928.0,201.7 1930.5,202.0 1933.0,202.3 1935.5,202.6 1938.0,203.0 1940.6,203.3 1943.1,203.7 1945.6,204.2 1948.1,204.7 1950.7,205.1 1953.2,205.6 1955.7,205.9 1958.2,206.0 1960.8,205.9 1963.3,205.7 1965.8,205.4 1968.3,204.9 1970.9,204.4 1973.4,203.6 1975.9,202.7 1978.4,201.5 1981.0,200.1 1983.5,198.4 1986.0,196.4 1988.5,194.2 1991.1,191.8 1993.6,189.3 1996.1,186.7 1998.6,184.1 2001.1,181.6 2003.7,179.0 2006.2,176.3 2008.7,173.5 2011.2,170.7 2013.8,167.9 2016.3,165.3 2018.8,162.7 2021.3,160.5 2023.9,158.4 2026.4,156.3 2028.9,154.5 2031.4,152.7 2034.0,151.1 2036.5,149.6 2039.0,148.3 2041.5,147.2 2044.1,146.3 2046.6,145.6 2049.1,145.1 2051.6,144.8 2054.2,144.5 2056.7,144.5 2059.2,144.5 2061.7,144.6 2064.3,144.8 2066.8,145.2 2069.3,145.8 2071.8,146.4 2074.3,147.2 2076.9,148.0 2079.4,148.9 2081.9,149.9 2084.4,150.9 2087.0,152.1 2089.5,153.3 2092.0,154.7 2094.5,156.1 2097.1,157.5 2099.6,159.0 2102.1,160.5 2104.6,162.0 2107.2,163.6 2109.7,165.2 2112.2,166.9 2114.7,168.6 2117.3,170.3 2119.8,172.0 2122.3,173.7 2124.8,175.4 2127.4,177.1 2129.9,178.8 2132.4,180.5 2134.9,182.2 2137.5,183.9 2140.0,185.4 2142.5,186.9 2145.0,188.3 2147.5,189.6 2150.1,190.8 2152.6,192.0 2155.1,193.1 2157.6,194.2 2160.2,195.2 2162.7,196.2 2165.2,197.0 2167.7,197.8 2170.3,198.6 2172.8,199.3 2175.3,199.9 2177.8,200.5 2180.4,201.0 2182.9,201.4 2185.4,201.9 2187.9,202.2 2190.5,202.5 2193.0,202.7 2195.5,202.9 2198.0,203.0 2200.6,203.2 2203.1,203.3 2205.6,203.4 2208.1,203.4 2210.7,203.5 2213.2,203.4 2215.7,203.4 2218.2,203.4 2220.7,203.3 2223.3,203.3 2225.8,203.3 2228.3,203.3 2230.8,203.4 2233.4,203.4 2235.9,203.4 2238.4,203.3 2240.9,203.1 2243.5,202.8 2246.0,202.3 2248.5,201.8 2251.0,201.3 2253.6,200.7 2256.1,199.9 2258.6,198.9 2261.1,197.7 2263.7,196.2 2266.2,194.3 2268.7,192.2 2271.2,189.9 2273.8,187.3 2276.3,184.6 2278.8,181.9 2281.3,179.1 2283.8,176.3 2286.4,173.5 2288.9,170.4 2291.4,167.2 2293.9,164.0 2296.5,160.9 2299.0,157.8 2301.5,155.0 2304.0,152.5 2306.6,150.3 2309.1,148.2 2311.6,146.3 2314.1,144.6 2316.7,143.0 2319.2,141.6 2321.7,140.4 2324.2,139.3 2326.8,138.4 2329.3,137.8 2331.8,137.3 2334.3,136.9 2336.9,136.7 2339.4,136.6 2341.9,136.6 2344.4,136.7 2347.0,136.8 2349.5,136.9 2352.0,137.2 2354.5,137.5 2357.0,138.0 2359.6,138.6 2362.1,139.3 2364.6,140.1 2367.1,141.1 2369.7,142.3 2372.2,143.6 2374.7,145.0 2377.2,146.5 2379.8,148.0 2382.3,149.6 2384.8,151.2 2387.3,152.8 2389.9,154.5 2392.4,156.2 2394.9,158.0 2397.4,159.8 2400.0,161.7 2402.5,163.7 2405.0,165.7 2407.5,167.9 2410.1,170.2 2412.6,172.6 2415.1,175.0 2417.6,177.4 2420.2,179.9 2422.7,182.4 2425.2,184.8" fill="none" stroke="#7a7a7a" stroke-width="1.5"/>
<polyline points="1859.8,201.7 1880.0,213.1 1900.2,217.0 1920.4,221.5 1940.6,222.9 1960.8,217.0 1981.0,201.7 2001.1,180.0 2021.3,162.3 2041.5,151.7 2061.7,153.1 2081.9,161.0 2102.1,171.0 2122.3,183.5 2142.5,198.5 2162.7,208.3 2182.9,212.3 2203.1,216.2 2223.3,218.4 2243.5,216.2 2263.7,199.9 2283.8,178.2 2304.0,159.1 2324.2,149.9 2344.4,153.1 2364.6,163.1 2384.8,171.6 2405.0,187.4 2425.2,200.1" fill="none" stroke="#7a7a7a" stroke-width="1.5"/>
<polygon points="1859.8,191.7 1850.8,206.1 1868.8,206.1" fill="#fff" stroke="#707070" stroke-width="1.5"/>
<polygon points="1880.0,203.1 1871.0,217.5 1889.0,217.5" fill="#fff" stroke="#707070" stroke-width="1.5"/>
<polygon points="1900.2,207.0 1891.2,221.4 1909.2,221.4" fill="#fff" stroke="#707070" stroke-width="1.5"/>
<polygon points="1920.4,211.5 1911.4,225.9 1929.4,225.9" fill="#fff" stroke="#707070" stroke-width="1.5"/>
<polygon points="1940.6,212.9 1931.6,227.3 1949.6,227.3" fill="#fff" stroke="#707070" stroke-width="1.5"/>
<polygon points="1960.8,207.0 1951.8,221.4 1969.8,221.4" fill="#fff" stroke="#707070" stroke-width="1.5"/>
<polygon points="1981.0,191.7 1972.0,206.1 1990.0,206.1" fill="#fff" stroke="#707070" stroke-width="1.5"/>
<polygon points="2001.1,170.0 1992.1,184.4 2010.1,184.4" fill="#fff" stroke="#707070" stroke-width="1.5"/>
<polygon points="2021.3,152.3 2012.3,166.7 2030.3,166.7" fill="#fff" stroke="#707070" stroke-width="1.5"/>
<polygon points="2041.5,141.7 2032.5,156.1 2050.5,156.1" fill="#fff" stroke="#707070" stroke-width="1.5"/>
<polygon points="2061.7,143.1 2052.7,157.5 2070.7,157.5" fill="#fff" stroke="#707070" stroke-width="1.5"/>
<polygon points="2081.9,151.0 2072.9,165.4 2090.9,165.4" fill="#fff" stroke="#707070" stroke-width="1.5"/>
<polygon points="2102.1,161.0 2093.1,175.4 2111.1,175.4" fill="#fff" stroke="#707070" stroke-width="1.5"/>
<polygon points="2122.3,173.5 2113.3,187.9 2131.3,187.9" fill="#fff" stroke="#707070" stroke-width="1.5"/>
<polygon points="2142.5,188.5 2133.5,202.9 2151.5,202.9" fill="#fff" stroke="#707070" stroke-width="1.5"/>
<polygon points="2162.7,198.3 2153.7,212.7 2171.7,212.7" fill="#fff" stroke="#707070" stroke-width="1.5"/>
<polygon points="2182.9,202.3 2173.9,216.7 2191.9,216.7" fill="#fff" stroke="#707070" stroke-width="1.5"/>
<polygon points="2203.1,206.2 2194.1,220.6 2212.1,220.6" fill="#fff" stroke="#707070" stroke-width="1.5"/>
<polygon points="2223.3,208.4 2214.3,222.8 2232.3,222.8" fill="#fff" stroke="#707070" stroke-width="1.5"/>
<polygon points="2243.5,206.2 2234.5,220.6 2252.5,220.6" fill="#fff" stroke="#707070" stroke-width="1.5"/>
<polygon points="2263.7,189.9 2254.7,204.3 2272.7,204.3" fill="#fff" stroke="#707070" stroke-width="1.5"/>
<polygon points="2283.8,168.2 2274.8,182.6 2292.8,182.6" fill="#fff" stroke="#707070" stroke-width="1.5"/>
<polygon points="2304.0,149.1 2295.0,163.5 2313.0,163.5" fill="#fff" stroke="#707070" stroke-width="1.5"/>
<polygon points="2324.2,139.9 2315.2,154.3 2333.2,154.3" fill="#fff" stroke="#707070" stroke-width="1.5"/>
<polygon points="2344.4,143.1 2335.4,157.5 2353.4,157.5" fill="#fff" stroke="#707070" stroke-width="1.5"/>
<polygon points="2364.6,153.1 2355.6,167.5 2373.6,167.5" fill="#fff" stroke="#707070" stroke-width="1.5"/>
<polygon points="2384.8,161.6 2375.8,176.0 2393.8,176.0" fill="#fff" stroke="#707070" stroke-width="1.5"/>
<polygon points="2405.0,177.4 2396.0,191.8 2414.0,191.8" fill="#fff" stroke="#707070" stroke-width="1.5"/>
<polygon points="2425.2,190.1 2416.2,204.5 2434.2,204.5" fill="#fff" stroke="#707070" stroke-width="1.5"/>
<polyline points="1859.8,221.0 1862.3,222.0 1864.8,223.0 1867.4,224.0 1869.9,225.0 1872.4,226.0 1874.9,227.0 1877.5,228.0 1880.0,228.9 1882.5,229.9 1885.0,230.8 1887.6,231.8 1890.1,232.7 1892.6,233.6 1895.1,234.5 1897.7,235.3 1900.2,236.1 1902.7,236.8 1905.2,237.6 1907.8,238.3 1910.3,239.0 1912.8,239.6 1915.3,240.1 1917.9,240.5 1920.4,240.8 1922.9,241.0 1925.4,241.2 1928.0,241.3 1930.5,241.2 1933.0,241.1 1935.5,240.7 1938.0,240.2 1940.6,239.5 1943.1,238.6 1945.6,237.5 1948.1,236.2 1950.7,234.7 1953.2,233.1 1955.7,231.4 1958.2,229.6 1960.8,227.6 1963.3,225.5 1965.8,223.2 1968.3,220.8 1970.9,218.3 1973.4,215.6 1975.9,213.0 1978.4,210.4 1981.0,207.8 1983.5,205.2 1986.0,202.6 1988.5,200.0 1991.1,197.3 1993.6,194.7 1996.1,192.1 1998.6,189.5 2001.1,186.9 2003.7,184.3 2006.2,181.6 2008.7,178.9 2011.2,176.3 2013.8,173.7 2016.3,171.3 2018.8,169.0 2021.3,167.1 2023.9,165.4 2026.4,163.8 2028.9,162.5 2031.4,161.3 2034.0,160.2 2036.5,159.3 2039.0,158.5 2041.5,157.8 2044.1,157.2 2046.6,156.7 2049.1,156.3 2051.6,156.1 2054.2,156.0 2056.7,156.0 2059.2,156.2 2061.7,156.5 2064.3,157.0 2066.8,157.7 2069.3,158.5 2071.8,159.5 2074.3,160.6 2076.9,161.8 2079.4,163.1 2081.9,164.4 2084.4,165.8 2087.0,167.4 2089.5,169.0 2092.0,170.8 2094.5,172.6 2097.1,174.4 2099.6,176.3 2102.1,178.2 2104.6,180.1 2107.2,182.2 2109.7,184.3 2112.2,186.5 2114.7,188.6 2117.3,190.7 2119.8,192.8 2122.3,194.8 2124.8,196.8 2127.4,198.6 2129.9,200.5 2132.4,202.3 2134.9,204.0 2137.5,205.8 2140.0,207.6 2142.5,209.4 2145.0,211.2 2147.5,213.1 2150.1,215.0 2152.6,216.8 2155.1,218.7 2157.6,220.4 2160.2,222.1 2162.7,223.7 2165.2,225.1 2167.7,226.4 2170.3,227.7 2172.8,228.8 2175.3,229.9 2177.8,231.0 2180.4,232.0 2182.9,232.9 2185.4,233.8 2187.9,234.7 2190.5,235.5 2193.0,236.3 2195.5,237.0 2198.0,237.5 2200.6,237.9 2203.1,238.2 2205.6,238.3 2208.1,238.3 2210.7,238.1 2213.2,237.9 2215.7,237.5 2218.2,237.0 2220.7,236.3 2223.3,235.5 2225.8,234.7 2228.3,233.7 2230.8,232.6 2233.4,231.3 2235.9,229.9 2238.4,228.4 2240.9,226.8 2243.5,225.0 2246.0,223.0 2248.5,220.8 2251.0,218.4 2253.6,215.9 2256.1,213.3 2258.6,210.6 2261.1,208.0 2263.7,205.4 2266.2,202.8 2268.7,200.1 2271.2,197.3 2273.8,194.5 2276.3,191.8 2278.8,189.1 2281.3,186.6 2283.8,184.3 2286.4,182.1 2288.9,180.0 2291.4,178.0 2293.9,176.2 2296.5,174.4 2299.0,172.7 2301.5,171.2 2304.0,169.7 2306.6,168.4 2309.1,167.1 2311.6,165.9 2314.1,164.8 2316.7,163.9 2319.2,163.1 2321.7,162.3 2324.2,161.8 2326.8,161.3 2329.3,161.0 2331.8,160.9 2334.3,160.8 2336.9,160.9 2339.4,161.0 2341.9,161.3 2344.4,161.8 2347.0,162.4 2349.5,163.1 2352.0,163.9 2354.5,164.9 2357.0,166.0 2359.6,167.2 2362.1,168.4 2364.6,169.7 2367.1,171.1 2369.7,172.6 2372.2,174.2 2374.7,175.9 2377.2,177.6 2379.8,179.4 2382.3,181.2 2384.8,182.9 2387.3,184.7 2389.9,186.5 2392.4,188.3 2394.9,190.1 2397.4,192.0 2400.0,193.8 2402.5,195.6 2405.0,197.5 2407.5,199.3 2410.1,201.1 2412.6,202.9 2415.1,204.7 2417.6,206.6 2420.2,208.4 2422.7,210.2 2425.2,212.0" fill="none" stroke="#111" stroke-width="3.5" stroke-dasharray="9.6 7 3 7"/>
</g>
<path d="M1861.1,40.3 V464.5 H2426.7" fill="none" stroke="#808080" stroke-width="3"/>
<line x1="1860.8" y1="41.5" x2="1869.8" y2="41.5" stroke="#808080" stroke-width="2.1"/>
<text class="tk" x="1845.3" y="61.3" text-anchor="end">0. 8</text>
<line x1="1860.8" y1="147.2" x2="1869.8" y2="147.2" stroke="#808080" stroke-width="2.1"/>
<text class="tk" x="1845.3" y="167.0" text-anchor="end">0. 4</text>
<line x1="1860.8" y1="253.0" x2="1869.8" y2="253.0" stroke="#808080" stroke-width="2.1"/>
<text class="tk" x="1845.3" y="272.8" text-anchor="end">0. 0</text>
<line x1="1860.8" y1="358.8" x2="1869.8" y2="358.8" stroke="#808080" stroke-width="2.1"/>
<text class="tk" x="1845.3" y="378.6" text-anchor="end"><tspan textLength="23" lengthAdjust="spacingAndGlyphs">−</tspan>0. 4</text>
<line x1="1860.8" y1="464.5" x2="1869.8" y2="464.5" stroke="#808080" stroke-width="2.1"/>
<text class="tk" x="1845.3" y="484.3" text-anchor="end"><tspan textLength="23" lengthAdjust="spacingAndGlyphs">−</tspan>0. 8</text>
<text class="tk" x="1861.8" y="521.3" text-anchor="middle">10. 0</text>
<line x1="2001.1" y1="464.5" x2="2001.1" y2="455.5" stroke="#808080" stroke-width="2.1"/>
<text class="tk" x="2003.1" y="521.3" text-anchor="middle">10. 5</text>
<line x1="2142.5" y1="464.5" x2="2142.5" y2="455.5" stroke="#808080" stroke-width="2.1"/>
<text class="tk" x="2144.5" y="521.3" text-anchor="middle">11. 0</text>
<line x1="2283.8" y1="464.5" x2="2283.8" y2="455.5" stroke="#808080" stroke-width="2.1"/>
<text class="tk" x="2285.8" y="521.3" text-anchor="middle">11. 5</text>
<line x1="2425.2" y1="464.5" x2="2425.2" y2="455.5" stroke="#808080" stroke-width="2.1"/>
<text class="tk" x="2427.2" y="521.3" text-anchor="middle">12. 0</text>
<text class="it" x="2143.5" y="550.5" text-anchor="middle">t/T</text>
<text class="yl" transform="translate(1742.8,345.0) rotate(-90)"><tspan x="-0.5" y="0" font-style="italic" font-weight="bold" font-size="46">u</tspan><tspan x="24" y="3" font-size="64">/</tspan><tspan x="53" y="-4" font-size="52">(</tspan><tspan x="70" y="0" textLength="26.5" lengthAdjust="spacingAndGlyphs">m</tspan><tspan x="92.2" y="0">·</tspan><tspan x="104.5" y="0">s</tspan><tspan x="129" y="-23" font-size="31" textLength="12" lengthAdjust="spacingAndGlyphs">−</tspan><tspan x="144" y="-23" font-size="31">1</tspan><tspan x="163" y="-4" font-size="52">)</tspan></text>
<text class="it" x="2263.3" y="96.5">9a#</text>
<rect x="1968.8" y="286.2" width="164.4" height="161.6" fill="#fff" stroke="#999" stroke-width="1.6"/>
<circle cx="2001.3" cy="303.8" r="8.5" fill="#000"/>
<text class="lg" x="2045.8" y="313.8"><tspan font-style="italic">d</tspan>=0<tspan textLength="13" lengthAdjust="spacingAndGlyphs">m</tspan></text>
<line x1="1973.8" y1="335.6" x2="2029.8" y2="335.6" stroke="#7a7a7a" stroke-width="1.5"/>
<rect x="1994.4" y="328.7" width="13.8" height="13.8" fill="#fff" stroke="#707070" stroke-width="1.5"/>
<text class="lg" x="2045.8" y="345.6"><tspan font-style="italic">d</tspan>=0. 2<tspan textLength="13" lengthAdjust="spacingAndGlyphs">m</tspan></text>
<line x1="1973.8" y1="367.4" x2="2029.8" y2="367.4" stroke="#7a7a7a" stroke-width="1.5"/>
<text class="lg" x="2045.8" y="377.4"><tspan font-style="italic">d</tspan>=0. 4<tspan textLength="13" lengthAdjust="spacingAndGlyphs">m</tspan></text>
<line x1="1973.8" y1="399.2" x2="2029.8" y2="399.2" stroke="#7a7a7a" stroke-width="1.5"/>
<polygon points="2001.3,389.2 1992.3,403.6 2010.3,403.6" fill="#fff" stroke="#707070" stroke-width="1.5"/>
<text class="lg" x="2045.8" y="409.2"><tspan font-style="italic">d</tspan>=0. 6<tspan textLength="13" lengthAdjust="spacingAndGlyphs">m</tspan></text>
<line x1="1973.8" y1="431.0" x2="2029.8" y2="431.0" stroke="#111" stroke-width="3.5" stroke-dasharray="9.6 7 3 7"/>
<text class="lg" x="2045.8" y="441.0"><tspan font-style="italic">d</tspan>=0. 8<tspan textLength="13" lengthAdjust="spacingAndGlyphs">m</tspan></text></g>
<g id="p7b"><clipPath id="clip7b"><rect x="181.2" y="607.7" width="566.2" height="433.0"/></clipPath>
<g clip-path="url(#clip7b)">
<circle cx="181.2" cy="870.7" r="8.5" fill="#000"/>
<circle cx="201.4" cy="853.0" r="8.5" fill="#000"/>
<circle cx="221.6" cy="828.9" r="8.5" fill="#000"/>
<circle cx="241.8" cy="816.0" r="8.5" fill="#000"/>
<circle cx="262.0" cy="817.3" r="8.5" fill="#000"/>
<circle cx="282.2" cy="821.3" r="8.5" fill="#000"/>
<circle cx="302.4" cy="820.5" r="8.5" fill="#000"/>
<circle cx="322.5" cy="809.9" r="8.5" fill="#000"/>
<circle cx="342.7" cy="800.1" r="8.5" fill="#000"/>
<circle cx="362.9" cy="801.2" r="8.5" fill="#000"/>
<circle cx="383.1" cy="829.2" r="8.5" fill="#000"/>
<circle cx="403.3" cy="857.0" r="8.5" fill="#000"/>
<circle cx="423.5" cy="888.7" r="8.5" fill="#000"/>
<circle cx="443.7" cy="882.1" r="8.5" fill="#000"/>
<circle cx="463.9" cy="868.3" r="8.5" fill="#000"/>
<circle cx="484.1" cy="852.2" r="8.5" fill="#000"/>
<circle cx="504.3" cy="829.7" r="8.5" fill="#000"/>
<circle cx="524.5" cy="814.4" r="8.5" fill="#000"/>
<circle cx="544.7" cy="814.1" r="8.5" fill="#000"/>
<circle cx="564.9" cy="818.6" r="8.5" fill="#000"/>
<circle cx="585.1" cy="819.7" r="8.5" fill="#000"/>
<circle cx="605.2" cy="809.6" r="8.5" fill="#000"/>
<circle cx="625.4" cy="800.1" r="8.5" fill="#000"/>
<circle cx="645.6" cy="802.0" r="8.5" fill="#000"/>
<circle cx="665.8" cy="827.9" r="8.5" fill="#000"/>
<circle cx="686.0" cy="857.0" r="8.5" fill="#000"/>
<circle cx="706.2" cy="885.0" r="8.5" fill="#000"/>
<circle cx="726.4" cy="882.1" r="8.5" fill="#000"/>
<circle cx="746.6" cy="864.9" r="8.5" fill="#000"/>
<polyline points="181.2,880.5 201.4,874.7 221.6,862.8 241.8,849.6 262.0,837.1 282.2,827.9 302.4,814.1 322.5,789.8 342.7,784.0 362.9,803.6 383.1,835.8 403.3,866.7 423.5,882.6 443.7,885.8 463.9,880.5 484.1,874.7 504.3,862.8 524.5,849.6 544.7,837.1 564.9,827.9 585.1,814.1 605.2,789.8 625.4,784.0 645.6,803.6 665.8,835.8 686.0,866.7 706.2,882.6 726.4,885.8 746.6,880.5" fill="none" stroke="#7a7a7a" stroke-width="1.5"/>
<rect x="174.3" y="873.6" width="13.8" height="13.8" fill="#fff" stroke="#707070" stroke-width="1.5"/>
<rect x="194.5" y="867.8" width="13.8" height="13.8" fill="#fff" stroke="#707070" stroke-width="1.5"/>
<rect x="214.7" y="855.9" width="13.8" height="13.8" fill="#fff" stroke="#707070" stroke-width="1.5"/>
<rect x="234.9" y="842.7" width="13.8" height="13.8" fill="#fff" stroke="#707070" stroke-width="1.5"/>
<rect x="255.1" y="830.2" width="13.8" height="13.8" fill="#fff" stroke="#707070" stroke-width="1.5"/>
<rect x="275.3" y="821.0" width="13.8" height="13.8" fill="#fff" stroke="#707070" stroke-width="1.5"/>
<rect x="295.5" y="807.2" width="13.8" height="13.8" fill="#fff" stroke="#707070" stroke-width="1.5"/>
<rect x="315.6" y="782.9" width="13.8" height="13.8" fill="#fff" stroke="#707070" stroke-width="1.5"/>
<rect x="335.8" y="777.1" width="13.8" height="13.8" fill="#fff" stroke="#707070" stroke-width="1.5"/>
<rect x="356.0" y="796.7" width="13.8" height="13.8" fill="#fff" stroke="#707070" stroke-width="1.5"/>
<rect x="376.2" y="828.9" width="13.8" height="13.8" fill="#fff" stroke="#707070" stroke-width="1.5"/>
<rect x="396.4" y="859.8" width="13.8" height="13.8" fill="#fff" stroke="#707070" stroke-width="1.5"/>
<rect x="416.6" y="875.7" width="13.8" height="13.8" fill="#fff" stroke="#707070" stroke-width="1.5"/>
<rect x="436.8" y="878.9" width="13.8" height="13.8" fill="#fff" stroke="#707070" stroke-width="1.5"/>
<rect x="457.0" y="873.6" width="13.8" height="13.8" fill="#fff" stroke="#707070" stroke-width="1.5"/>
<rect x="477.2" y="867.8" width="13.8" height="13.8" fill="#fff" stroke="#707070" stroke-width="1.5"/>
<rect x="497.4" y="855.9" width="13.8" height="13.8" fill="#fff" stroke="#707070" stroke-width="1.5"/>
<rect x="517.6" y="842.7" width="13.8" height="13.8" fill="#fff" stroke="#707070" stroke-width="1.5"/>
<rect x="537.8" y="830.2" width="13.8" height="13.8" fill="#fff" stroke="#707070" stroke-width="1.5"/>
<rect x="558.0" y="821.0" width="13.8" height="13.8" fill="#fff" stroke="#707070" stroke-width="1.5"/>
<rect x="578.2" y="807.2" width="13.8" height="13.8" fill="#fff" stroke="#707070" stroke-width="1.5"/>
<rect x="598.4" y="782.9" width="13.8" height="13.8" fill="#fff" stroke="#707070" stroke-width="1.5"/>
<rect x="618.5" y="777.1" width="13.8" height="13.8" fill="#fff" stroke="#707070" stroke-width="1.5"/>
<rect x="638.7" y="796.7" width="13.8" height="13.8" fill="#fff" stroke="#707070" stroke-width="1.5"/>
<rect x="658.9" y="828.9" width="13.8" height="13.8" fill="#fff" stroke="#707070" stroke-width="1.5"/>
<rect x="679.1" y="859.8" width="13.8" height="13.8" fill="#fff" stroke="#707070" stroke-width="1.5"/>
<rect x="699.3" y="875.7" width="13.8" height="13.8" fill="#fff" stroke="#707070" stroke-width="1.5"/>
<rect x="719.5" y="878.9" width="13.8" height="13.8" fill="#fff" stroke="#707070" stroke-width="1.5"/>
<rect x="739.7" y="873.6" width="13.8" height="13.8" fill="#fff" stroke="#707070" stroke-width="1.5"/>
<polyline points="181.2,882.1 183.7,881.8 186.2,881.6 188.8,881.4 191.3,881.2 193.8,880.9 196.3,880.6 198.9,880.1 201.4,879.4 203.9,878.6 206.4,877.7 209.0,876.6 211.5,875.5 214.0,874.2 216.5,872.9 219.1,871.6 221.6,870.2 224.1,868.7 226.6,867.1 229.2,865.5 231.7,863.7 234.2,862.0 236.7,860.3 239.3,858.6 241.8,857.0 244.3,855.4 246.8,853.9 249.4,852.3 251.9,850.8 254.4,849.4 256.9,847.9 259.4,846.5 262.0,845.1 264.5,843.7 267.0,842.5 269.5,841.2 272.1,840.0 274.6,838.8 277.1,837.5 279.6,836.1 282.2,834.5 284.7,832.8 287.2,831.0 289.7,829.2 292.3,827.2 294.8,825.2 297.3,823.1 299.8,820.9 302.4,818.6 304.9,816.1 307.4,813.4 309.9,810.5 312.5,807.6 315.0,804.7 317.5,802.0 320.0,799.5 322.5,797.5 325.1,795.7 327.6,794.1 330.1,792.6 332.6,791.4 335.2,790.4 337.7,789.7 340.2,789.4 342.7,789.5 345.3,790.1 347.8,791.0 350.3,792.4 352.8,794.0 355.4,795.9 357.9,798.0 360.4,800.3 362.9,802.8 365.5,805.4 368.0,808.4 370.5,811.7 373.0,815.2 375.6,818.7 378.1,822.3 380.6,825.8 383.1,829.2 385.7,832.6 388.2,836.0 390.7,839.5 393.2,842.9 395.7,846.3 398.3,849.6 400.8,852.7 403.3,855.6 405.8,858.4 408.4,861.1 410.9,863.6 413.4,866.1 415.9,868.3 418.5,870.5 421.0,872.4 423.5,874.1 426.0,875.7 428.6,877.1 431.1,878.2 433.6,879.3 436.1,880.2 438.7,880.9 441.2,881.5 443.7,882.1 446.2,882.5 448.8,882.7 451.3,882.8 453.8,882.7 456.3,882.6 458.9,882.5 461.4,882.3 463.9,882.1 466.4,881.9 468.9,881.8 471.5,881.6 474.0,881.3 476.5,881.0 479.0,880.6 481.6,880.1 484.1,879.4 486.6,878.6 489.1,877.7 491.7,876.6 494.2,875.5 496.7,874.2 499.2,872.9 501.8,871.6 504.3,870.2 506.8,868.7 509.3,867.1 511.9,865.5 514.4,863.7 516.9,862.0 519.4,860.3 522.0,858.6 524.5,857.0 527.0,855.4 529.5,853.9 532.1,852.3 534.6,850.8 537.1,849.4 539.6,847.9 542.1,846.5 544.7,845.1 547.2,843.7 549.7,842.5 552.2,841.2 554.8,840.0 557.3,838.8 559.8,837.5 562.3,836.1 564.9,834.5 567.4,832.8 569.9,831.0 572.4,829.2 575.0,827.2 577.5,825.2 580.0,823.1 582.5,820.9 585.1,818.6 587.6,816.1 590.1,813.4 592.6,810.5 595.2,807.6 597.7,804.7 600.2,802.0 602.7,799.5 605.2,797.5 607.8,795.7 610.3,794.1 612.8,792.6 615.3,791.4 617.9,790.4 620.4,789.7 622.9,789.4 625.4,789.5 628.0,790.1 630.5,791.0 633.0,792.4 635.5,794.0 638.1,795.9 640.6,798.0 643.1,800.3 645.6,802.8 648.2,805.4 650.7,808.4 653.2,811.7 655.7,815.2 658.3,818.7 660.8,822.3 663.3,825.8 665.8,829.2 668.4,832.6 670.9,836.0 673.4,839.5 675.9,842.9 678.4,846.3 681.0,849.6 683.5,852.7 686.0,855.6 688.5,858.4 691.1,861.1 693.6,863.6 696.1,866.1 698.6,868.3 701.2,870.5 703.7,872.4 706.2,874.1 708.7,875.7 711.3,877.1 713.8,878.2 716.3,879.3 718.8,880.2 721.4,880.9 723.9,881.5 726.4,882.1 728.9,882.5 731.5,882.6 734.0,882.7 736.5,882.6 739.0,882.4 741.6,882.3 744.1,882.1 746.6,882.1" fill="none" stroke="#7a7a7a" stroke-width="1.5"/>
<polyline points="181.2,871.5 201.4,871.5 221.6,861.5 241.8,849.0 262.0,834.5 282.2,814.7 302.4,798.8 322.5,789.5 342.7,794.3 362.9,809.4 383.1,831.3 403.3,849.6 423.5,862.5 443.7,870.7 463.9,871.5 484.1,871.5 504.3,861.5 524.5,849.0 544.7,834.5 564.9,814.7 585.1,798.8 605.2,789.5 625.4,794.3 645.6,809.4 665.8,831.3 686.0,849.6 706.2,862.5 726.4,870.7 746.6,871.5" fill="none" stroke="#7a7a7a" stroke-width="1.5"/>
<polygon points="181.2,861.5 172.2,875.9 190.2,875.9" fill="#fff" stroke="#707070" stroke-width="1.5"/>
<polygon points="201.4,861.5 192.4,875.9 210.4,875.9" fill="#fff" stroke="#707070" stroke-width="1.5"/>
<polygon points="221.6,851.5 212.6,865.9 230.6,865.9" fill="#fff" stroke="#707070" stroke-width="1.5"/>
<polygon points="241.8,839.0 232.8,853.4 250.8,853.4" fill="#fff" stroke="#707070" stroke-width="1.5"/>
<polygon points="262.0,824.5 253.0,838.9 271.0,838.9" fill="#fff" stroke="#707070" stroke-width="1.5"/>
<polygon points="282.2,804.7 273.2,819.1 291.2,819.1" fill="#fff" stroke="#707070" stroke-width="1.5"/>
<polygon points="302.4,788.8 293.4,803.2 311.4,803.2" fill="#fff" stroke="#707070" stroke-width="1.5"/>
<polygon points="322.5,779.5 313.5,793.9 331.5,793.9" fill="#fff" stroke="#707070" stroke-width="1.5"/>
<polygon points="342.7,784.3 333.7,798.7 351.7,798.7" fill="#fff" stroke="#707070" stroke-width="1.5"/>
<polygon points="362.9,799.4 353.9,813.8 371.9,813.8" fill="#fff" stroke="#707070" stroke-width="1.5"/>
<polygon points="383.1,821.3 374.1,835.7 392.1,835.7" fill="#fff" stroke="#707070" stroke-width="1.5"/>
<polygon points="403.3,839.6 394.3,854.0 412.3,854.0" fill="#fff" stroke="#707070" stroke-width="1.5"/>
<polygon points="423.5,852.5 414.5,866.9 432.5,866.9" fill="#fff" stroke="#707070" stroke-width="1.5"/>
<polygon points="443.7,860.7 434.7,875.1 452.7,875.1" fill="#fff" stroke="#707070" stroke-width="1.5"/>
<polygon points="463.9,861.5 454.9,875.9 472.9,875.9" fill="#fff" stroke="#707070" stroke-width="1.5"/>
<polygon points="484.1,861.5 475.1,875.9 493.1,875.9" fill="#fff" stroke="#707070" stroke-width="1.5"/>
<polygon points="504.3,851.5 495.3,865.9 513.3,865.9" fill="#fff" stroke="#707070" stroke-width="1.5"/>
<polygon points="524.5,839.0 515.5,853.4 533.5,853.4" fill="#fff" stroke="#707070" stroke-width="1.5"/>
<polygon points="544.7,824.5 535.7,838.9 553.7,838.9" fill="#fff" stroke="#707070" stroke-width="1.5"/>
<polygon points="564.9,804.7 555.9,819.1 573.9,819.1" fill="#fff" stroke="#707070" stroke-width="1.5"/>
<polygon points="585.1,788.8 576.1,803.2 594.1,803.2" fill="#fff" stroke="#707070" stroke-width="1.5"/>
<polygon points="605.2,779.5 596.2,793.9 614.2,793.9" fill="#fff" stroke="#707070" stroke-width="1.5"/>
<polygon points="625.4,784.3 616.4,798.7 634.4,798.7" fill="#fff" stroke="#707070" stroke-width="1.5"/>
<polygon points="645.6,799.4 636.6,813.8 654.6,813.8" fill="#fff" stroke="#707070" stroke-width="1.5"/>
<polygon points="665.8,821.3 656.8,835.7 674.8,835.7" fill="#fff" stroke="#707070" stroke-width="1.5"/>
<polygon points="686.0,839.6 677.0,854.0 695.0,854.0" fill="#fff" stroke="#707070" stroke-width="1.5"/>
<polygon points="706.2,852.5 697.2,866.9 715.2,866.9" fill="#fff" stroke="#707070" stroke-width="1.5"/>
<polygon points="726.4,860.7 717.4,875.1 735.4,875.1" fill="#fff" stroke="#707070" stroke-width="1.5"/>
<polygon points="746.6,861.5 737.6,875.9 755.6,875.9" fill="#fff" stroke="#707070" stroke-width="1.5"/>
<polyline points="181.2,872.8 183.7,872.4 186.2,872.0 188.8,871.6 191.3,871.2 193.8,870.7 196.3,870.2 198.9,869.6 201.4,868.9 203.9,868.0 206.4,867.0 209.0,866.0 211.5,864.8 214.0,863.6 216.5,862.3 219.1,861.0 221.6,859.6 224.1,858.2 226.6,856.6 229.2,855.0 231.7,853.4 234.2,851.7 236.7,849.9 239.3,848.2 241.8,846.4 244.3,844.6 246.8,842.8 249.4,840.9 251.9,839.0 254.4,837.1 256.9,835.2 259.4,833.2 262.0,831.3 264.5,829.4 267.0,827.4 269.5,825.3 272.1,823.3 274.6,821.3 277.1,819.3 279.6,817.4 282.2,815.5 284.7,813.6 287.2,811.6 289.7,809.7 292.3,807.8 294.8,806.0 297.3,804.3 299.8,802.8 302.4,801.4 304.9,800.2 307.4,799.1 309.9,798.1 312.5,797.3 315.0,796.5 317.5,796.0 320.0,795.6 322.5,795.4 325.1,795.3 327.6,795.5 330.1,795.9 332.6,796.3 335.2,797.0 337.7,797.7 340.2,798.6 342.7,799.6 345.3,800.7 347.8,801.9 350.3,803.3 352.8,804.8 355.4,806.4 357.9,808.0 360.4,809.7 362.9,811.5 365.5,813.3 368.0,815.3 370.5,817.3 373.0,819.4 375.6,821.5 378.1,823.7 380.6,825.8 383.1,827.9 385.7,830.0 388.2,832.1 390.7,834.3 393.2,836.5 395.7,838.6 398.3,840.7 400.8,842.7 403.3,844.5 405.8,846.3 408.4,848.0 410.9,849.6 413.4,851.2 415.9,852.7 418.5,854.2 421.0,855.6 423.5,857.0 426.0,858.3 428.6,859.6 431.1,860.8 433.6,862.0 436.1,863.1 438.7,864.2 441.2,865.2 443.7,866.2 446.2,867.2 448.8,868.3 451.3,869.4 453.8,870.3 456.3,871.2 458.9,872.0 461.4,872.5 463.9,872.8 466.4,872.9 468.9,872.7 471.5,872.3 474.0,871.8 476.5,871.2 479.0,870.5 481.6,869.7 484.1,868.9 486.6,868.0 489.1,867.0 491.7,866.0 494.2,864.8 496.7,863.6 499.2,862.3 501.8,861.0 504.3,859.6 506.8,858.2 509.3,856.6 511.9,855.0 514.4,853.4 516.9,851.7 519.4,849.9 522.0,848.2 524.5,846.4 527.0,844.6 529.5,842.8 532.1,840.9 534.6,839.0 537.1,837.1 539.6,835.2 542.1,833.2 544.7,831.3 547.2,829.4 549.7,827.4 552.2,825.3 554.8,823.3 557.3,821.3 559.8,819.3 562.3,817.4 564.9,815.5 567.4,813.6 569.9,811.6 572.4,809.7 575.0,807.8 577.5,806.0 580.0,804.3 582.5,802.8 585.1,801.4 587.6,800.2 590.1,799.1 592.6,798.1 595.2,797.3 597.7,796.5 600.2,796.0 602.7,795.6 605.2,795.4 607.8,795.3 610.3,795.5 612.8,795.9 615.3,796.3 617.9,797.0 620.4,797.7 622.9,798.6 625.4,799.6 628.0,800.7 630.5,801.9 633.0,803.3 635.5,804.8 638.1,806.4 640.6,808.0 643.1,809.7 645.6,811.5 648.2,813.3 650.7,815.3 653.2,817.3 655.7,819.4 658.3,821.5 660.8,823.7 663.3,825.8 665.8,827.9 668.4,830.0 670.9,832.1 673.4,834.3 675.9,836.5 678.4,838.6 681.0,840.7 683.5,842.7 686.0,844.5 688.5,846.3 691.1,848.0 693.6,849.6 696.1,851.2 698.6,852.7 701.2,854.2 703.7,855.6 706.2,857.0 708.7,858.3 711.3,859.6 713.8,860.8 716.3,862.0 718.8,863.1 721.4,864.2 723.9,865.2 726.4,866.2 728.9,867.2 731.5,868.1 734.0,868.9 736.5,869.7 739.0,870.5 741.6,871.2 744.1,872.0 746.6,872.8" fill="none" stroke="#111" stroke-width="3.5" stroke-dasharray="9.6 7 3 7"/>
</g>
<path d="M182.5,616.5 V1040.7 H748.1" fill="none" stroke="#808080" stroke-width="3"/>
<line x1="182.2" y1="617.7" x2="191.2" y2="617.7" stroke="#808080" stroke-width="2.1"/>
<text class="tk" x="166.7" y="637.5" text-anchor="end">0. 8</text>
<line x1="182.2" y1="723.4" x2="191.2" y2="723.4" stroke="#808080" stroke-width="2.1"/>
<text class="tk" x="166.7" y="743.2" text-anchor="end">0. 4</text>
<line x1="182.2" y1="829.2" x2="191.2" y2="829.2" stroke="#808080" stroke-width="2.1"/>
<text class="tk" x="166.7" y="849.0" text-anchor="end">0. 0</text>
<line x1="182.2" y1="935.0" x2="191.2" y2="935.0" stroke="#808080" stroke-width="2.1"/>
<text class="tk" x="166.7" y="954.8" text-anchor="end"><tspan textLength="23" lengthAdjust="spacingAndGlyphs">−</tspan>0. 4</text>
<line x1="182.2" y1="1040.7" x2="191.2" y2="1040.7" stroke="#808080" stroke-width="2.1"/>
<text class="tk" x="166.7" y="1060.5" text-anchor="end"><tspan textLength="23" lengthAdjust="spacingAndGlyphs">−</tspan>0. 8</text>
<text class="tk" x="183.2" y="1097.5" text-anchor="middle">10. 0</text>
<line x1="322.5" y1="1040.7" x2="322.5" y2="1031.7" stroke="#808080" stroke-width="2.1"/>
<text class="tk" x="324.5" y="1097.5" text-anchor="middle">10. 5</text>
<line x1="463.9" y1="1040.7" x2="463.9" y2="1031.7" stroke="#808080" stroke-width="2.1"/>
<text class="tk" x="465.9" y="1097.5" text-anchor="middle">11. 0</text>
<line x1="605.2" y1="1040.7" x2="605.2" y2="1031.7" stroke="#808080" stroke-width="2.1"/>
<text class="tk" x="607.2" y="1097.5" text-anchor="middle">11. 5</text>
<line x1="746.6" y1="1040.7" x2="746.6" y2="1031.7" stroke="#808080" stroke-width="2.1"/>
<text class="tk" x="748.6" y="1097.5" text-anchor="middle">12. 0</text>
<text class="it" x="464.9" y="1126.7" text-anchor="middle">t/T</text>
<text class="yl" transform="translate(64.2,921.2) rotate(-90)"><tspan x="-0.5" y="0" font-style="italic" font-weight="bold" font-size="46">u</tspan><tspan x="24" y="3" font-size="64">/</tspan><tspan x="53" y="-4" font-size="52">(</tspan><tspan x="70" y="0" textLength="26.5" lengthAdjust="spacingAndGlyphs">m</tspan><tspan x="92.2" y="0">·</tspan><tspan x="104.5" y="0">s</tspan><tspan x="129" y="-23" font-size="31" textLength="12" lengthAdjust="spacingAndGlyphs">−</tspan><tspan x="144" y="-23" font-size="31">1</tspan><tspan x="163" y="-4" font-size="52">)</tspan></text>
<text class="it" x="595.0" y="690.5">7b#</text>
<rect x="229.7" y="868.2" width="163.8" height="160.6" fill="#fff" stroke="#999" stroke-width="1.6"/>
<circle cx="262.2" cy="885.8" r="8.5" fill="#000"/>
<text class="lg" x="306.7" y="895.8"><tspan font-style="italic">d</tspan>=0<tspan textLength="13" lengthAdjust="spacingAndGlyphs">m</tspan></text>
<line x1="234.7" y1="917.4" x2="290.7" y2="917.4" stroke="#7a7a7a" stroke-width="1.5"/>
<rect x="255.3" y="910.5" width="13.8" height="13.8" fill="#fff" stroke="#707070" stroke-width="1.5"/>
<text class="lg" x="306.7" y="927.4"><tspan font-style="italic">d</tspan>=0. 2<tspan textLength="13" lengthAdjust="spacingAndGlyphs">m</tspan></text>
<line x1="234.7" y1="948.9" x2="290.7" y2="948.9" stroke="#7a7a7a" stroke-width="1.5"/>
<text class="lg" x="306.7" y="958.9"><tspan font-style="italic">d</tspan>=0. 4<tspan textLength="13" lengthAdjust="spacingAndGlyphs">m</tspan></text>
<line x1="234.7" y1="980.5" x2="290.7" y2="980.5" stroke="#7a7a7a" stroke-width="1.5"/>
<polygon points="262.2,970.5 253.2,984.9 271.2,984.9" fill="#fff" stroke="#707070" stroke-width="1.5"/>
<text class="lg" x="306.7" y="990.5"><tspan font-style="italic">d</tspan>=0. 6<tspan textLength="13" lengthAdjust="spacingAndGlyphs">m</tspan></text>
<line x1="234.7" y1="1012.0" x2="290.7" y2="1012.0" stroke="#111" stroke-width="3.5" stroke-dasharray="9.6 7 3 7"/>
<text class="lg" x="306.7" y="1022.0"><tspan font-style="italic">d</tspan>=0. 8<tspan textLength="13" lengthAdjust="spacingAndGlyphs">m</tspan></text></g>
<g id="p8b"><clipPath id="clip8b"><rect x="1020.5" y="607.7" width="566.2" height="433.0"/></clipPath>
<g clip-path="url(#clip8b)">
<circle cx="1020.5" cy="869.4" r="8.5" fill="#000"/>
<circle cx="1040.7" cy="859.6" r="8.5" fill="#000"/>
<circle cx="1060.9" cy="857.0" r="8.5" fill="#000"/>
<circle cx="1081.1" cy="853.5" r="8.5" fill="#000"/>
<circle cx="1101.3" cy="845.1" r="8.5" fill="#000"/>
<circle cx="1121.5" cy="835.5" r="8.5" fill="#000"/>
<circle cx="1141.7" cy="828.4" r="8.5" fill="#000"/>
<circle cx="1161.8" cy="817.0" r="8.5" fill="#000"/>
<circle cx="1182.0" cy="796.9" r="8.5" fill="#000"/>
<circle cx="1202.2" cy="777.1" r="8.5" fill="#000"/>
<circle cx="1222.4" cy="779.5" r="8.5" fill="#000"/>
<circle cx="1242.6" cy="805.4" r="8.5" fill="#000"/>
<circle cx="1262.8" cy="842.2" r="8.5" fill="#000"/>
<circle cx="1283.0" cy="869.9" r="8.5" fill="#000"/>
<circle cx="1303.2" cy="875.2" r="8.5" fill="#000"/>
<circle cx="1323.4" cy="863.3" r="8.5" fill="#000"/>
<circle cx="1343.6" cy="859.3" r="8.5" fill="#000"/>
<circle cx="1363.8" cy="853.5" r="8.5" fill="#000"/>
<circle cx="1384.0" cy="844.3" r="8.5" fill="#000"/>
<circle cx="1404.2" cy="839.5" r="8.5" fill="#000"/>
<circle cx="1424.4" cy="833.7" r="8.5" fill="#000"/>
<circle cx="1444.5" cy="821.8" r="8.5" fill="#000"/>
<circle cx="1464.7" cy="802.2" r="8.5" fill="#000"/>
<circle cx="1484.9" cy="781.1" r="8.5" fill="#000"/>
<circle cx="1505.1" cy="781.6" r="8.5" fill="#000"/>
<circle cx="1525.3" cy="805.4" r="8.5" fill="#000"/>
<circle cx="1545.5" cy="840.3" r="8.5" fill="#000"/>
<circle cx="1565.7" cy="866.7" r="8.5" fill="#000"/>
<circle cx="1585.9" cy="869.9" r="8.5" fill="#000"/>
<polyline points="1020.5,850.4 1040.7,849.0 1060.9,845.1 1081.1,841.1 1101.3,837.1 1121.5,831.8 1141.7,826.0 1161.8,804.3 1182.0,777.9 1202.2,770.2 1222.4,782.9 1242.6,808.6 1262.8,835.5 1283.0,850.9 1303.2,852.2 1323.4,849.0 1343.6,845.1 1363.8,841.1 1384.0,837.1 1404.2,831.8 1424.4,826.0 1444.5,804.3 1464.7,777.9 1484.9,770.2 1505.1,782.9 1525.3,808.6 1545.5,835.5 1565.7,850.9 1585.9,852.2" fill="none" stroke="#7a7a7a" stroke-width="1.5"/>
<rect x="1013.6" y="843.5" width="13.8" height="13.8" fill="#fff" stroke="#707070" stroke-width="1.5"/>
<rect x="1033.8" y="842.1" width="13.8" height="13.8" fill="#fff" stroke="#707070" stroke-width="1.5"/>
<rect x="1054.0" y="838.2" width="13.8" height="13.8" fill="#fff" stroke="#707070" stroke-width="1.5"/>
<rect x="1074.2" y="834.2" width="13.8" height="13.8" fill="#fff" stroke="#707070" stroke-width="1.5"/>
<rect x="1094.4" y="830.2" width="13.8" height="13.8" fill="#fff" stroke="#707070" stroke-width="1.5"/>
<rect x="1114.6" y="824.9" width="13.8" height="13.8" fill="#fff" stroke="#707070" stroke-width="1.5"/>
<rect x="1134.8" y="819.1" width="13.8" height="13.8" fill="#fff" stroke="#707070" stroke-width="1.5"/>
<rect x="1154.9" y="797.4" width="13.8" height="13.8" fill="#fff" stroke="#707070" stroke-width="1.5"/>
<rect x="1175.1" y="771.0" width="13.8" height="13.8" fill="#fff" stroke="#707070" stroke-width="1.5"/>
<rect x="1195.3" y="763.3" width="13.8" height="13.8" fill="#fff" stroke="#707070" stroke-width="1.5"/>
<rect x="1215.5" y="776.0" width="13.8" height="13.8" fill="#fff" stroke="#707070" stroke-width="1.5"/>
<rect x="1235.7" y="801.7" width="13.8" height="13.8" fill="#fff" stroke="#707070" stroke-width="1.5"/>
<rect x="1255.9" y="828.6" width="13.8" height="13.8" fill="#fff" stroke="#707070" stroke-width="1.5"/>
<rect x="1276.1" y="844.0" width="13.8" height="13.8" fill="#fff" stroke="#707070" stroke-width="1.5"/>
<rect x="1296.3" y="845.3" width="13.8" height="13.8" fill="#fff" stroke="#707070" stroke-width="1.5"/>
<rect x="1316.5" y="842.1" width="13.8" height="13.8" fill="#fff" stroke="#707070" stroke-width="1.5"/>
<rect x="1336.7" y="838.2" width="13.8" height="13.8" fill="#fff" stroke="#707070" stroke-width="1.5"/>
<rect x="1356.9" y="834.2" width="13.8" height="13.8" fill="#fff" stroke="#707070" stroke-width="1.5"/>
<rect x="1377.1" y="830.2" width="13.8" height="13.8" fill="#fff" stroke="#707070" stroke-width="1.5"/>
<rect x="1397.3" y="824.9" width="13.8" height="13.8" fill="#fff" stroke="#707070" stroke-width="1.5"/>
<rect x="1417.5" y="819.1" width="13.8" height="13.8" fill="#fff" stroke="#707070" stroke-width="1.5"/>
<rect x="1437.6" y="797.4" width="13.8" height="13.8" fill="#fff" stroke="#707070" stroke-width="1.5"/>
<rect x="1457.8" y="771.0" width="13.8" height="13.8" fill="#fff" stroke="#707070" stroke-width="1.5"/>
<rect x="1478.0" y="763.3" width="13.8" height="13.8" fill="#fff" stroke="#707070" stroke-width="1.5"/>
<rect x="1498.2" y="776.0" width="13.8" height="13.8" fill="#fff" stroke="#707070" stroke-width="1.5"/>
<rect x="1518.4" y="801.7" width="13.8" height="13.8" fill="#fff" stroke="#707070" stroke-width="1.5"/>
<rect x="1538.6" y="828.6" width="13.8" height="13.8" fill="#fff" stroke="#707070" stroke-width="1.5"/>
<rect x="1558.8" y="844.0" width="13.8" height="13.8" fill="#fff" stroke="#707070" stroke-width="1.5"/>
<rect x="1579.0" y="845.3" width="13.8" height="13.8" fill="#fff" stroke="#707070" stroke-width="1.5"/>
<polyline points="1020.5,855.6 1023.0,856.2 1025.5,856.7 1028.1,857.2 1030.6,857.8 1033.1,858.3 1035.6,858.8 1038.2,859.2 1040.7,859.6 1043.2,859.9 1045.7,860.3 1048.3,860.6 1050.8,860.8 1053.3,861.0 1055.8,861.1 1058.4,861.1 1060.9,860.9 1063.4,860.6 1065.9,860.2 1068.5,859.7 1071.0,859.0 1073.5,858.3 1076.0,857.5 1078.6,856.6 1081.1,855.6 1083.6,854.6 1086.1,853.5 1088.7,852.3 1091.2,851.0 1093.7,849.6 1096.2,848.2 1098.7,846.7 1101.3,845.1 1103.8,843.4 1106.3,841.6 1108.8,839.7 1111.4,837.7 1113.9,835.7 1116.4,833.6 1118.9,831.4 1121.5,829.2 1124.0,826.9 1126.5,824.5 1129.0,822.1 1131.6,819.5 1134.1,817.0 1136.6,814.4 1139.1,811.9 1141.7,809.4 1144.2,806.8 1146.7,804.3 1149.2,801.6 1151.8,799.0 1154.3,796.5 1156.8,794.0 1159.3,791.7 1161.8,789.5 1164.4,787.5 1166.9,785.5 1169.4,783.5 1171.9,781.7 1174.5,780.0 1177.0,778.5 1179.5,777.3 1182.0,776.3 1184.6,775.6 1187.1,775.2 1189.6,774.9 1192.1,774.9 1194.7,775.1 1197.2,775.4 1199.7,775.8 1202.2,776.3 1204.8,777.0 1207.3,777.8 1209.8,778.8 1212.3,779.9 1214.9,781.1 1217.4,782.5 1219.9,784.0 1222.4,785.6 1225.0,787.3 1227.5,789.3 1230.0,791.4 1232.5,793.6 1235.0,795.9 1237.6,798.2 1240.1,800.5 1242.6,802.8 1245.1,805.0 1247.7,807.3 1250.2,809.6 1252.7,811.9 1255.2,814.3 1257.8,816.6 1260.3,818.9 1262.8,821.3 1265.3,823.6 1267.9,826.0 1270.4,828.3 1272.9,830.7 1275.4,833.0 1278.0,835.3 1280.5,837.6 1283.0,839.8 1285.5,842.0 1288.1,844.2 1290.6,846.4 1293.1,848.6 1295.6,850.7 1298.2,852.6 1300.7,854.2 1303.2,855.6 1305.7,856.7 1308.2,857.5 1310.8,858.1 1313.3,858.5 1315.8,858.8 1318.3,859.1 1320.9,859.3 1323.4,859.6 1325.9,859.9 1328.4,860.3 1331.0,860.6 1333.5,860.8 1336.0,861.0 1338.5,861.1 1341.1,861.1 1343.6,860.9 1346.1,860.6 1348.6,860.2 1351.2,859.7 1353.7,859.0 1356.2,858.3 1358.7,857.5 1361.3,856.6 1363.8,855.6 1366.3,854.6 1368.8,853.5 1371.4,852.3 1373.9,851.0 1376.4,849.6 1378.9,848.2 1381.4,846.7 1384.0,845.1 1386.5,843.4 1389.0,841.6 1391.5,839.7 1394.1,837.7 1396.6,835.7 1399.1,833.6 1401.6,831.4 1404.2,829.2 1406.7,826.9 1409.2,824.5 1411.7,822.1 1414.3,819.5 1416.8,817.0 1419.3,814.4 1421.8,811.9 1424.4,809.4 1426.9,806.8 1429.4,804.3 1431.9,801.6 1434.5,799.0 1437.0,796.5 1439.5,794.0 1442.0,791.7 1444.5,789.5 1447.1,787.5 1449.6,785.5 1452.1,783.5 1454.6,781.7 1457.2,780.0 1459.7,778.5 1462.2,777.3 1464.7,776.3 1467.3,775.6 1469.8,775.2 1472.3,774.9 1474.8,774.9 1477.4,775.1 1479.9,775.4 1482.4,775.8 1484.9,776.3 1487.5,777.0 1490.0,777.8 1492.5,778.8 1495.0,779.9 1497.6,781.1 1500.1,782.5 1502.6,784.0 1505.1,785.6 1507.7,787.3 1510.2,789.3 1512.7,791.4 1515.2,793.6 1517.7,795.9 1520.3,798.2 1522.8,800.5 1525.3,802.8 1527.8,805.0 1530.4,807.3 1532.9,809.6 1535.4,811.9 1537.9,814.3 1540.5,816.6 1543.0,818.9 1545.5,821.3 1548.0,823.6 1550.6,826.0 1553.1,828.3 1555.6,830.7 1558.1,833.0 1560.7,835.3 1563.2,837.6 1565.7,839.8 1568.2,841.9 1570.8,843.9 1573.3,845.9 1575.8,847.9 1578.3,849.8 1580.9,851.7 1583.4,853.7 1585.9,855.6" fill="none" stroke="#7a7a7a" stroke-width="1.5"/>
<polyline points="1020.5,853.5 1040.7,859.1 1060.9,860.4 1081.1,856.2 1101.3,846.4 1121.5,830.8 1141.7,809.4 1161.8,788.0 1182.0,774.2 1202.2,776.3 1222.4,785.6 1242.6,803.3 1262.8,820.7 1283.0,839.0 1303.2,853.5 1323.4,859.1 1343.6,860.4 1363.8,856.2 1384.0,846.4 1404.2,830.8 1424.4,809.4 1444.5,788.0 1464.7,774.2 1484.9,776.3 1505.1,785.6 1525.3,803.3 1545.5,820.7 1565.7,839.0 1585.9,853.5" fill="none" stroke="#7a7a7a" stroke-width="1.5"/>
<polygon points="1020.5,843.5 1011.5,857.9 1029.5,857.9" fill="#fff" stroke="#707070" stroke-width="1.5"/>
<polygon points="1040.7,849.1 1031.7,863.5 1049.7,863.5" fill="#fff" stroke="#707070" stroke-width="1.5"/>
<polygon points="1060.9,850.4 1051.9,864.8 1069.9,864.8" fill="#fff" stroke="#707070" stroke-width="1.5"/>
<polygon points="1081.1,846.2 1072.1,860.6 1090.1,860.6" fill="#fff" stroke="#707070" stroke-width="1.5"/>
<polygon points="1101.3,836.4 1092.3,850.8 1110.3,850.8" fill="#fff" stroke="#707070" stroke-width="1.5"/>
<polygon points="1121.5,820.8 1112.5,835.2 1130.5,835.2" fill="#fff" stroke="#707070" stroke-width="1.5"/>
<polygon points="1141.7,799.4 1132.7,813.8 1150.7,813.8" fill="#fff" stroke="#707070" stroke-width="1.5"/>
<polygon points="1161.8,778.0 1152.8,792.4 1170.8,792.4" fill="#fff" stroke="#707070" stroke-width="1.5"/>
<polygon points="1182.0,764.2 1173.0,778.6 1191.0,778.6" fill="#fff" stroke="#707070" stroke-width="1.5"/>
<polygon points="1202.2,766.3 1193.2,780.7 1211.2,780.7" fill="#fff" stroke="#707070" stroke-width="1.5"/>
<polygon points="1222.4,775.6 1213.4,790.0 1231.4,790.0" fill="#fff" stroke="#707070" stroke-width="1.5"/>
<polygon points="1242.6,793.3 1233.6,807.7 1251.6,807.7" fill="#fff" stroke="#707070" stroke-width="1.5"/>
<polygon points="1262.8,810.7 1253.8,825.1 1271.8,825.1" fill="#fff" stroke="#707070" stroke-width="1.5"/>
<polygon points="1283.0,829.0 1274.0,843.4 1292.0,843.4" fill="#fff" stroke="#707070" stroke-width="1.5"/>
<polygon points="1303.2,843.5 1294.2,857.9 1312.2,857.9" fill="#fff" stroke="#707070" stroke-width="1.5"/>
<polygon points="1323.4,849.1 1314.4,863.5 1332.4,863.5" fill="#fff" stroke="#707070" stroke-width="1.5"/>
<polygon points="1343.6,850.4 1334.6,864.8 1352.6,864.8" fill="#fff" stroke="#707070" stroke-width="1.5"/>
<polygon points="1363.8,846.2 1354.8,860.6 1372.8,860.6" fill="#fff" stroke="#707070" stroke-width="1.5"/>
<polygon points="1384.0,836.4 1375.0,850.8 1393.0,850.8" fill="#fff" stroke="#707070" stroke-width="1.5"/>
<polygon points="1404.2,820.8 1395.2,835.2 1413.2,835.2" fill="#fff" stroke="#707070" stroke-width="1.5"/>
<polygon points="1424.4,799.4 1415.4,813.8 1433.4,813.8" fill="#fff" stroke="#707070" stroke-width="1.5"/>
<polygon points="1444.5,778.0 1435.5,792.4 1453.5,792.4" fill="#fff" stroke="#707070" stroke-width="1.5"/>
<polygon points="1464.7,764.2 1455.7,778.6 1473.7,778.6" fill="#fff" stroke="#707070" stroke-width="1.5"/>
<polygon points="1484.9,766.3 1475.9,780.7 1493.9,780.7" fill="#fff" stroke="#707070" stroke-width="1.5"/>
<polygon points="1505.1,775.6 1496.1,790.0 1514.1,790.0" fill="#fff" stroke="#707070" stroke-width="1.5"/>
<polygon points="1525.3,793.3 1516.3,807.7 1534.3,807.7" fill="#fff" stroke="#707070" stroke-width="1.5"/>
<polygon points="1545.5,810.7 1536.5,825.1 1554.5,825.1" fill="#fff" stroke="#707070" stroke-width="1.5"/>
<polygon points="1565.7,829.0 1556.7,843.4 1574.7,843.4" fill="#fff" stroke="#707070" stroke-width="1.5"/>
<polygon points="1585.9,843.5 1576.9,857.9 1594.9,857.9" fill="#fff" stroke="#707070" stroke-width="1.5"/>
<polyline points="1020.5,857.5 1023.0,858.3 1025.5,859.2 1028.1,860.0 1030.6,860.9 1033.1,861.7 1035.6,862.5 1038.2,863.1 1040.7,863.6 1043.2,863.9 1045.7,864.2 1048.3,864.3 1050.8,864.4 1053.3,864.3 1055.8,864.2 1058.4,863.9 1060.9,863.6 1063.4,863.1 1065.9,862.5 1068.5,861.7 1071.0,860.9 1073.5,860.0 1076.0,859.0 1078.6,858.0 1081.1,857.0 1083.6,855.9 1086.1,854.8 1088.7,853.7 1091.2,852.5 1093.7,851.2 1096.2,849.9 1098.7,848.5 1101.3,846.9 1103.8,845.3 1106.3,843.5 1108.8,841.7 1111.4,839.8 1113.9,837.8 1116.4,835.7 1118.9,833.6 1121.5,831.3 1124.0,828.9 1126.5,826.4 1129.0,823.7 1131.6,820.9 1134.1,818.1 1136.6,815.4 1139.1,812.7 1141.7,810.2 1144.2,807.7 1146.7,805.2 1149.2,802.7 1151.8,800.3 1154.3,798.0 1156.8,795.7 1159.3,793.6 1161.8,791.7 1164.4,789.8 1166.9,788.0 1169.4,786.3 1171.9,784.6 1174.5,783.2 1177.0,781.9 1179.5,780.8 1182.0,780.0 1184.6,779.5 1187.1,779.2 1189.6,779.1 1192.1,779.2 1194.7,779.4 1197.2,779.7 1199.7,780.1 1202.2,780.6 1204.8,781.0 1207.3,781.5 1209.8,782.1 1212.3,782.8 1214.9,783.6 1217.4,784.5 1219.9,785.6 1222.4,786.9 1225.0,788.4 1227.5,790.1 1230.0,792.0 1232.5,794.0 1235.0,796.1 1237.6,798.3 1240.1,800.5 1242.6,802.8 1245.1,805.0 1247.7,807.3 1250.2,809.8 1252.7,812.2 1255.2,814.7 1257.8,817.2 1260.3,819.6 1262.8,822.1 1265.3,824.5 1267.9,826.9 1270.4,829.3 1272.9,831.8 1275.4,834.2 1278.0,836.5 1280.5,838.8 1283.0,841.1 1285.5,843.3 1288.1,845.6 1290.6,847.9 1293.1,850.1 1295.6,852.2 1298.2,854.2 1300.7,856.0 1303.2,857.5 1305.7,858.8 1308.2,859.9 1310.8,860.8 1313.3,861.6 1315.8,862.2 1318.3,862.7 1320.9,863.2 1323.4,863.6 1325.9,863.9 1328.4,864.2 1331.0,864.3 1333.5,864.4 1336.0,864.3 1338.5,864.2 1341.1,863.9 1343.6,863.6 1346.1,863.1 1348.6,862.5 1351.2,861.7 1353.7,860.9 1356.2,860.0 1358.7,859.0 1361.3,858.0 1363.8,857.0 1366.3,855.9 1368.8,854.8 1371.4,853.7 1373.9,852.5 1376.4,851.2 1378.9,849.9 1381.4,848.5 1384.0,846.9 1386.5,845.3 1389.0,843.5 1391.5,841.7 1394.1,839.8 1396.6,837.8 1399.1,835.7 1401.6,833.6 1404.2,831.3 1406.7,828.9 1409.2,826.4 1411.7,823.7 1414.3,820.9 1416.8,818.1 1419.3,815.4 1421.8,812.7 1424.4,810.2 1426.9,807.7 1429.4,805.2 1431.9,802.7 1434.5,800.3 1437.0,798.0 1439.5,795.7 1442.0,793.6 1444.5,791.7 1447.1,789.8 1449.6,788.0 1452.1,786.3 1454.6,784.6 1457.2,783.2 1459.7,781.9 1462.2,780.8 1464.7,780.0 1467.3,779.5 1469.8,779.2 1472.3,779.1 1474.8,779.2 1477.4,779.4 1479.9,779.7 1482.4,780.1 1484.9,780.6 1487.5,781.0 1490.0,781.5 1492.5,782.1 1495.0,782.8 1497.6,783.6 1500.1,784.5 1502.6,785.6 1505.1,786.9 1507.7,788.4 1510.2,790.1 1512.7,792.0 1515.2,794.0 1517.7,796.1 1520.3,798.3 1522.8,800.5 1525.3,802.8 1527.8,805.0 1530.4,807.3 1532.9,809.8 1535.4,812.2 1537.9,814.7 1540.5,817.2 1543.0,819.6 1545.5,822.1 1548.0,824.5 1550.6,826.9 1553.1,829.3 1555.6,831.8 1558.1,834.2 1560.7,836.5 1563.2,838.8 1565.7,841.1 1568.2,843.3 1570.8,845.4 1573.3,847.4 1575.8,849.5 1578.3,851.5 1580.9,853.5 1583.4,855.5 1585.9,857.5" fill="none" stroke="#111" stroke-width="3.5" stroke-dasharray="9.6 7 3 7"/>
</g>
<path d="M1021.8,616.5 V1040.7 H1587.4" fill="none" stroke="#808080" stroke-width="3"/>
<line x1="1021.5" y1="617.7" x2="1030.5" y2="617.7" stroke="#808080" stroke-width="2.1"/>
<text class="tk" x="1006.0" y="637.5" text-anchor="end">0. 8</text>
<line x1="1021.5" y1="723.4" x2="1030.5" y2="723.4" stroke="#808080" stroke-width="2.1"/>
<text class="tk" x="1006.0" y="743.2" text-anchor="end">0. 4</text>
<line x1="1021.5" y1="829.2" x2="1030.5" y2="829.2" stroke="#808080" stroke-width="2.1"/>
<text class="tk" x="1006.0" y="849.0" text-anchor="end">0. 0</text>
<line x1="1021.5" y1="935.0" x2="1030.5" y2="935.0" stroke="#808080" stroke-width="2.1"/>
<text class="tk" x="1006.0" y="954.8" text-anchor="end"><tspan textLength="23" lengthAdjust="spacingAndGlyphs">−</tspan>0. 4</text>
<line x1="1021.5" y1="1040.7" x2="1030.5" y2="1040.7" stroke="#808080" stroke-width="2.1"/>
<text class="tk" x="1006.0" y="1060.5" text-anchor="end"><tspan textLength="23" lengthAdjust="spacingAndGlyphs">−</tspan>0. 8</text>
<text class="tk" x="1022.5" y="1097.5" text-anchor="middle">10. 0</text>
<line x1="1161.8" y1="1040.7" x2="1161.8" y2="1031.7" stroke="#808080" stroke-width="2.1"/>
<text class="tk" x="1163.8" y="1097.5" text-anchor="middle">10. 5</text>
<line x1="1303.2" y1="1040.7" x2="1303.2" y2="1031.7" stroke="#808080" stroke-width="2.1"/>
<text class="tk" x="1305.2" y="1097.5" text-anchor="middle">11. 0</text>
<line x1="1444.5" y1="1040.7" x2="1444.5" y2="1031.7" stroke="#808080" stroke-width="2.1"/>
<text class="tk" x="1446.5" y="1097.5" text-anchor="middle">11. 5</text>
<line x1="1585.9" y1="1040.7" x2="1585.9" y2="1031.7" stroke="#808080" stroke-width="2.1"/>
<text class="tk" x="1587.9" y="1097.5" text-anchor="middle">12. 0</text>
<text class="it" x="1304.2" y="1126.7" text-anchor="middle">t/T</text>
<text class="yl" transform="translate(903.5,921.2) rotate(-90)"><tspan x="-0.5" y="0" font-style="italic" font-weight="bold" font-size="46">u</tspan><tspan x="24" y="3" font-size="64">/</tspan><tspan x="53" y="-4" font-size="52">(</tspan><tspan x="70" y="0" textLength="26.5" lengthAdjust="spacingAndGlyphs">m</tspan><tspan x="92.2" y="0">·</tspan><tspan x="104.5" y="0">s</tspan><tspan x="129" y="-23" font-size="31" textLength="12" lengthAdjust="spacingAndGlyphs">−</tspan><tspan x="144" y="-23" font-size="31">1</tspan><tspan x="163" y="-4" font-size="52">)</tspan></text>
<text class="it" x="1453.6" y="666.5">8b#</text>
<rect x="1096.5" y="857.5" width="163.8" height="161.5" fill="#fff" stroke="#999" stroke-width="1.6"/>
<circle cx="1129.0" cy="875.1" r="8.5" fill="#000"/>
<text class="lg" x="1173.5" y="885.1"><tspan font-style="italic">d</tspan>=0<tspan textLength="13" lengthAdjust="spacingAndGlyphs">m</tspan></text>
<line x1="1101.5" y1="906.9" x2="1157.5" y2="906.9" stroke="#7a7a7a" stroke-width="1.5"/>
<rect x="1122.1" y="900.0" width="13.8" height="13.8" fill="#fff" stroke="#707070" stroke-width="1.5"/>
<text class="lg" x="1173.5" y="916.9"><tspan font-style="italic">d</tspan>=0. 2<tspan textLength="13" lengthAdjust="spacingAndGlyphs">m</tspan></text>
<line x1="1101.5" y1="938.6" x2="1157.5" y2="938.6" stroke="#7a7a7a" stroke-width="1.5"/>
<text class="lg" x="1173.5" y="948.6"><tspan font-style="italic">d</tspan>=0. 4<tspan textLength="13" lengthAdjust="spacingAndGlyphs">m</tspan></text>
<line x1="1101.5" y1="970.4" x2="1157.5" y2="970.4" stroke="#7a7a7a" stroke-width="1.5"/>
<polygon points="1129.0,960.4 1120.0,974.8 1138.0,974.8" fill="#fff" stroke="#707070" stroke-width="1.5"/>
<text class="lg" x="1173.5" y="980.4"><tspan font-style="italic">d</tspan>=0. 6<tspan textLength="13" lengthAdjust="spacingAndGlyphs">m</tspan></text>
<line x1="1101.5" y1="1002.2" x2="1157.5" y2="1002.2" stroke="#111" stroke-width="3.5" stroke-dasharray="9.6 7 3 7"/>
<text class="lg" x="1173.5" y="1012.2"><tspan font-style="italic">d</tspan>=0. 8<tspan textLength="13" lengthAdjust="spacingAndGlyphs">m</tspan></text></g>
<g id="p9b"><clipPath id="clip9b"><rect x="1859.8" y="607.7" width="566.2" height="433.0"/></clipPath>
<g clip-path="url(#clip9b)">
<circle cx="1859.8" cy="839.2" r="8.5" fill="#000"/>
<circle cx="1880.0" cy="848.0" r="8.5" fill="#000"/>
<circle cx="1900.2" cy="848.5" r="8.5" fill="#000"/>
<circle cx="1920.4" cy="846.7" r="8.5" fill="#000"/>
<circle cx="1940.6" cy="839.8" r="8.5" fill="#000"/>
<circle cx="1960.8" cy="831.3" r="8.5" fill="#000"/>
<circle cx="1981.0" cy="823.9" r="8.5" fill="#000"/>
<circle cx="2001.1" cy="813.3" r="8.5" fill="#000"/>
<circle cx="2021.3" cy="796.2" r="8.5" fill="#000"/>
<circle cx="2041.5" cy="780.0" r="8.5" fill="#000"/>
<circle cx="2061.7" cy="761.8" r="8.5" fill="#000"/>
<circle cx="2081.9" cy="768.4" r="8.5" fill="#000"/>
<circle cx="2102.1" cy="797.5" r="8.5" fill="#000"/>
<circle cx="2122.3" cy="826.0" r="8.5" fill="#000"/>
<circle cx="2142.5" cy="849.0" r="8.5" fill="#000"/>
<circle cx="2162.7" cy="858.5" r="8.5" fill="#000"/>
<circle cx="2182.9" cy="860.7" r="8.5" fill="#000"/>
<circle cx="2203.1" cy="857.0" r="8.5" fill="#000"/>
<circle cx="2223.3" cy="849.0" r="8.5" fill="#000"/>
<circle cx="2243.5" cy="836.6" r="8.5" fill="#000"/>
<circle cx="2263.7" cy="823.6" r="8.5" fill="#000"/>
<circle cx="2283.8" cy="813.9" r="8.5" fill="#000"/>
<circle cx="2304.0" cy="802.2" r="8.5" fill="#000"/>
<circle cx="2324.2" cy="784.5" r="8.5" fill="#000"/>
<circle cx="2344.4" cy="765.7" r="8.5" fill="#000"/>
<circle cx="2364.6" cy="772.4" r="8.5" fill="#000"/>
<circle cx="2384.8" cy="802.8" r="8.5" fill="#000"/>
<circle cx="2405.0" cy="829.2" r="8.5" fill="#000"/>
<circle cx="2425.2" cy="847.7" r="8.5" fill="#000"/>
<polyline points="1859.8,826.0 1880.0,833.2 1900.2,831.8 1920.4,827.9 1940.6,823.9 1960.8,823.4 1981.0,819.9 2001.1,810.2 2021.3,787.2 2041.5,765.7 2061.7,766.8 2081.9,781.9 2102.1,806.2 2122.3,826.0 2142.5,833.2 2162.7,839.2 2182.9,835.3 2203.1,829.2 2223.3,825.2 2243.5,823.4 2263.7,819.4 2283.8,810.2 2304.0,788.5 2324.2,765.7 2344.4,763.4 2364.6,782.7 2384.8,807.0 2405.0,826.0 2425.2,834.5" fill="none" stroke="#7a7a7a" stroke-width="1.5"/>
<rect x="1852.9" y="819.1" width="13.8" height="13.8" fill="#fff" stroke="#707070" stroke-width="1.5"/>
<rect x="1873.1" y="826.3" width="13.8" height="13.8" fill="#fff" stroke="#707070" stroke-width="1.5"/>
<rect x="1893.3" y="824.9" width="13.8" height="13.8" fill="#fff" stroke="#707070" stroke-width="1.5"/>
<rect x="1913.5" y="821.0" width="13.8" height="13.8" fill="#fff" stroke="#707070" stroke-width="1.5"/>
<rect x="1933.7" y="817.0" width="13.8" height="13.8" fill="#fff" stroke="#707070" stroke-width="1.5"/>
<rect x="1953.9" y="816.5" width="13.8" height="13.8" fill="#fff" stroke="#707070" stroke-width="1.5"/>
<rect x="1974.1" y="813.0" width="13.8" height="13.8" fill="#fff" stroke="#707070" stroke-width="1.5"/>
<rect x="1994.2" y="803.3" width="13.8" height="13.8" fill="#fff" stroke="#707070" stroke-width="1.5"/>
<rect x="2014.4" y="780.3" width="13.8" height="13.8" fill="#fff" stroke="#707070" stroke-width="1.5"/>
<rect x="2034.6" y="758.8" width="13.8" height="13.8" fill="#fff" stroke="#707070" stroke-width="1.5"/>
<rect x="2054.8" y="759.9" width="13.8" height="13.8" fill="#fff" stroke="#707070" stroke-width="1.5"/>
<rect x="2075.0" y="775.0" width="13.8" height="13.8" fill="#fff" stroke="#707070" stroke-width="1.5"/>
<rect x="2095.2" y="799.3" width="13.8" height="13.8" fill="#fff" stroke="#707070" stroke-width="1.5"/>
<rect x="2115.4" y="819.1" width="13.8" height="13.8" fill="#fff" stroke="#707070" stroke-width="1.5"/>
<rect x="2135.6" y="826.3" width="13.8" height="13.8" fill="#fff" stroke="#707070" stroke-width="1.5"/>
<rect x="2155.8" y="832.3" width="13.8" height="13.8" fill="#fff" stroke="#707070" stroke-width="1.5"/>
<rect x="2176.0" y="828.4" width="13.8" height="13.8" fill="#fff" stroke="#707070" stroke-width="1.5"/>
<rect x="2196.2" y="822.3" width="13.8" height="13.8" fill="#fff" stroke="#707070" stroke-width="1.5"/>
<rect x="2216.4" y="818.3" width="13.8" height="13.8" fill="#fff" stroke="#707070" stroke-width="1.5"/>
<rect x="2236.6" y="816.5" width="13.8" height="13.8" fill="#fff" stroke="#707070" stroke-width="1.5"/>
<rect x="2256.8" y="812.5" width="13.8" height="13.8" fill="#fff" stroke="#707070" stroke-width="1.5"/>
<rect x="2276.9" y="803.3" width="13.8" height="13.8" fill="#fff" stroke="#707070" stroke-width="1.5"/>
<rect x="2297.1" y="781.6" width="13.8" height="13.8" fill="#fff" stroke="#707070" stroke-width="1.5"/>
<rect x="2317.3" y="758.8" width="13.8" height="13.8" fill="#fff" stroke="#707070" stroke-width="1.5"/>
<rect x="2337.5" y="756.5" width="13.8" height="13.8" fill="#fff" stroke="#707070" stroke-width="1.5"/>
<rect x="2357.7" y="775.8" width="13.8" height="13.8" fill="#fff" stroke="#707070" stroke-width="1.5"/>
<rect x="2377.9" y="800.1" width="13.8" height="13.8" fill="#fff" stroke="#707070" stroke-width="1.5"/>
<rect x="2398.1" y="819.1" width="13.8" height="13.8" fill="#fff" stroke="#707070" stroke-width="1.5"/>
<rect x="2418.3" y="827.6" width="13.8" height="13.8" fill="#fff" stroke="#707070" stroke-width="1.5"/>
<polyline points="1859.8,834.5 1862.3,835.3 1864.8,836.2 1867.4,837.0 1869.9,837.9 1872.4,838.7 1874.9,839.5 1877.5,840.3 1880.0,841.1 1882.5,841.9 1885.0,842.6 1887.6,843.4 1890.1,844.2 1892.6,844.8 1895.1,845.5 1897.7,846.0 1900.2,846.4 1902.7,846.7 1905.2,846.9 1907.8,847.0 1910.3,847.0 1912.8,847.0 1915.3,846.9 1917.9,846.7 1920.4,846.4 1922.9,846.0 1925.4,845.5 1928.0,845.0 1930.5,844.3 1933.0,843.6 1935.5,842.8 1938.0,842.0 1940.6,841.1 1943.1,840.2 1945.6,839.2 1948.1,838.2 1950.7,837.1 1953.2,836.0 1955.7,834.7 1958.2,833.3 1960.8,831.8 1963.3,830.2 1965.8,828.5 1968.3,826.6 1970.9,824.7 1973.4,822.6 1975.9,820.5 1978.4,818.3 1981.0,816.0 1983.5,813.6 1986.0,811.0 1988.5,808.3 1991.1,805.6 1993.6,802.8 1996.1,800.1 1998.6,797.4 2001.1,794.8 2003.7,792.3 2006.2,789.9 2008.7,787.4 2011.2,785.0 2013.8,782.7 2016.3,780.4 2018.8,778.3 2021.3,776.3 2023.9,774.4 2026.4,772.6 2028.9,770.8 2031.4,769.1 2034.0,767.6 2036.5,766.3 2039.0,765.2 2041.5,764.4 2044.1,763.9 2046.6,763.6 2049.1,763.5 2051.6,763.7 2054.2,764.0 2056.7,764.5 2059.2,765.0 2061.7,765.7 2064.3,766.6 2066.8,767.6 2069.3,768.7 2071.8,770.0 2074.3,771.4 2076.9,772.9 2079.4,774.6 2081.9,776.3 2084.4,778.2 2087.0,780.3 2089.5,782.6 2092.0,784.9 2094.5,787.3 2097.1,789.8 2099.6,792.3 2102.1,794.8 2104.6,797.4 2107.2,800.0 2109.7,802.7 2112.2,805.4 2114.7,808.1 2117.3,810.8 2119.8,813.4 2122.3,816.0 2124.8,818.5 2127.4,821.1 2129.9,823.6 2132.4,826.1 2134.9,828.5 2137.5,830.8 2140.0,832.8 2142.5,834.5 2145.0,835.9 2147.5,837.0 2150.1,837.9 2152.6,838.6 2155.1,839.2 2157.6,839.8 2160.2,840.4 2162.7,841.1 2165.2,841.9 2167.7,842.6 2170.3,843.4 2172.8,844.2 2175.3,844.8 2177.8,845.5 2180.4,846.0 2182.9,846.4 2185.4,846.7 2187.9,846.9 2190.5,847.0 2193.0,847.0 2195.5,847.0 2198.0,846.9 2200.6,846.7 2203.1,846.4 2205.6,846.0 2208.1,845.5 2210.7,845.0 2213.2,844.3 2215.7,843.6 2218.2,842.8 2220.7,842.0 2223.3,841.1 2225.8,840.2 2228.3,839.2 2230.8,838.2 2233.4,837.1 2235.9,836.0 2238.4,834.7 2240.9,833.3 2243.5,831.8 2246.0,830.2 2248.5,828.5 2251.0,826.6 2253.6,824.7 2256.1,822.6 2258.6,820.5 2261.1,818.3 2263.7,816.0 2266.2,813.6 2268.7,811.0 2271.2,808.3 2273.8,805.6 2276.3,802.8 2278.8,800.1 2281.3,797.4 2283.8,794.8 2286.4,792.3 2288.9,789.9 2291.4,787.4 2293.9,785.0 2296.5,782.7 2299.0,780.4 2301.5,778.3 2304.0,776.3 2306.6,774.4 2309.1,772.6 2311.6,770.8 2314.1,769.1 2316.7,767.6 2319.2,766.3 2321.7,765.2 2324.2,764.4 2326.8,763.9 2329.3,763.6 2331.8,763.5 2334.3,763.7 2336.9,764.0 2339.4,764.5 2341.9,765.0 2344.4,765.7 2347.0,766.6 2349.5,767.6 2352.0,768.7 2354.5,770.0 2357.0,771.4 2359.6,772.9 2362.1,774.6 2364.6,776.3 2367.1,778.2 2369.7,780.3 2372.2,782.6 2374.7,784.9 2377.2,787.3 2379.8,789.8 2382.3,792.3 2384.8,794.8 2387.3,797.4 2389.9,800.0 2392.4,802.7 2394.9,805.4 2397.4,808.1 2400.0,810.8 2402.5,813.4 2405.0,816.0 2407.5,818.4 2410.1,820.8 2412.6,823.1 2415.1,825.4 2417.6,827.7 2420.2,829.9 2422.7,832.2 2425.2,834.5" fill="none" stroke="#7a7a7a" stroke-width="1.5"/>
<polyline points="1859.8,839.8 1880.0,853.5 1900.2,858.0 1920.4,858.8 1940.6,855.4 1960.8,841.6 1981.0,821.8 2001.1,796.9 2021.3,774.5 2041.5,763.4 2061.7,766.5 2081.9,775.3 2102.1,792.2 2122.3,813.3 2142.5,836.6 2162.7,847.4 2182.9,854.8 2203.1,856.2 2223.3,852.2 2243.5,840.3 2263.7,820.5 2283.8,796.2 2304.0,774.5 2324.2,763.9 2344.4,766.5 2364.6,779.2 2384.8,793.5 2405.0,816.0 2425.2,837.1" fill="none" stroke="#7a7a7a" stroke-width="1.5"/>
<polygon points="1859.8,829.8 1850.8,844.2 1868.8,844.2" fill="#fff" stroke="#707070" stroke-width="1.5"/>
<polygon points="1880.0,843.5 1871.0,857.9 1889.0,857.9" fill="#fff" stroke="#707070" stroke-width="1.5"/>
<polygon points="1900.2,848.0 1891.2,862.4 1909.2,862.4" fill="#fff" stroke="#707070" stroke-width="1.5"/>
<polygon points="1920.4,848.8 1911.4,863.2 1929.4,863.2" fill="#fff" stroke="#707070" stroke-width="1.5"/>
<polygon points="1940.6,845.4 1931.6,859.8 1949.6,859.8" fill="#fff" stroke="#707070" stroke-width="1.5"/>
<polygon points="1960.8,831.6 1951.8,846.0 1969.8,846.0" fill="#fff" stroke="#707070" stroke-width="1.5"/>
<polygon points="1981.0,811.8 1972.0,826.2 1990.0,826.2" fill="#fff" stroke="#707070" stroke-width="1.5"/>
<polygon points="2001.1,786.9 1992.1,801.3 2010.1,801.3" fill="#fff" stroke="#707070" stroke-width="1.5"/>
<polygon points="2021.3,764.5 2012.3,778.9 2030.3,778.9" fill="#fff" stroke="#707070" stroke-width="1.5"/>
<polygon points="2041.5,753.4 2032.5,767.8 2050.5,767.8" fill="#fff" stroke="#707070" stroke-width="1.5"/>
<polygon points="2061.7,756.5 2052.7,770.9 2070.7,770.9" fill="#fff" stroke="#707070" stroke-width="1.5"/>
<polygon points="2081.9,765.3 2072.9,779.7 2090.9,779.7" fill="#fff" stroke="#707070" stroke-width="1.5"/>
<polygon points="2102.1,782.2 2093.1,796.6 2111.1,796.6" fill="#fff" stroke="#707070" stroke-width="1.5"/>
<polygon points="2122.3,803.3 2113.3,817.7 2131.3,817.7" fill="#fff" stroke="#707070" stroke-width="1.5"/>
<polygon points="2142.5,826.6 2133.5,841.0 2151.5,841.0" fill="#fff" stroke="#707070" stroke-width="1.5"/>
<polygon points="2162.7,837.4 2153.7,851.8 2171.7,851.8" fill="#fff" stroke="#707070" stroke-width="1.5"/>
<polygon points="2182.9,844.8 2173.9,859.2 2191.9,859.2" fill="#fff" stroke="#707070" stroke-width="1.5"/>
<polygon points="2203.1,846.2 2194.1,860.6 2212.1,860.6" fill="#fff" stroke="#707070" stroke-width="1.5"/>
<polygon points="2223.3,842.2 2214.3,856.6 2232.3,856.6" fill="#fff" stroke="#707070" stroke-width="1.5"/>
<polygon points="2243.5,830.3 2234.5,844.7 2252.5,844.7" fill="#fff" stroke="#707070" stroke-width="1.5"/>
<polygon points="2263.7,810.5 2254.7,824.9 2272.7,824.9" fill="#fff" stroke="#707070" stroke-width="1.5"/>
<polygon points="2283.8,786.2 2274.8,800.6 2292.8,800.6" fill="#fff" stroke="#707070" stroke-width="1.5"/>
<polygon points="2304.0,764.5 2295.0,778.9 2313.0,778.9" fill="#fff" stroke="#707070" stroke-width="1.5"/>
<polygon points="2324.2,753.9 2315.2,768.3 2333.2,768.3" fill="#fff" stroke="#707070" stroke-width="1.5"/>
<polygon points="2344.4,756.5 2335.4,770.9 2353.4,770.9" fill="#fff" stroke="#707070" stroke-width="1.5"/>
<polygon points="2364.6,769.2 2355.6,783.6 2373.6,783.6" fill="#fff" stroke="#707070" stroke-width="1.5"/>
<polygon points="2384.8,783.5 2375.8,797.9 2393.8,797.9" fill="#fff" stroke="#707070" stroke-width="1.5"/>
<polygon points="2405.0,806.0 2396.0,820.4 2414.0,820.4" fill="#fff" stroke="#707070" stroke-width="1.5"/>
<polygon points="2425.2,827.1 2416.2,841.5 2434.2,841.5" fill="#fff" stroke="#707070" stroke-width="1.5"/>
<polyline points="1859.8,842.9 1862.3,844.6 1864.8,846.3 1867.4,848.0 1869.9,849.7 1872.4,851.3 1874.9,852.9 1877.5,854.3 1880.0,855.6 1882.5,856.8 1885.0,857.9 1887.6,858.8 1890.1,859.7 1892.6,860.5 1895.1,861.1 1897.7,861.7 1900.2,862.2 1902.7,862.7 1905.2,863.0 1907.8,863.3 1910.3,863.4 1912.8,863.5 1915.3,863.5 1917.9,863.3 1920.4,863.0 1922.9,862.7 1925.4,862.2 1928.0,861.6 1930.5,860.9 1933.0,860.1 1935.5,859.2 1938.0,858.1 1940.6,857.0 1943.1,855.6 1945.6,854.2 1948.1,852.6 1950.7,851.0 1953.2,849.2 1955.7,847.2 1958.2,845.1 1960.8,842.9 1963.3,840.6 1965.8,838.0 1968.3,835.2 1970.9,832.4 1973.4,829.4 1975.9,826.5 1978.4,823.6 1981.0,820.7 1983.5,817.9 1986.0,815.1 1988.5,812.2 1991.1,809.3 1993.6,806.5 1996.1,803.7 1998.6,800.9 2001.1,798.3 2003.7,795.6 2006.2,792.9 2008.7,790.3 2011.2,787.7 2013.8,785.2 2016.3,782.8 2018.8,780.6 2021.3,778.7 2023.9,777.0 2026.4,775.4 2028.9,774.0 2031.4,772.8 2034.0,771.7 2036.5,770.8 2039.0,770.0 2041.5,769.4 2044.1,769.1 2046.6,768.9 2049.1,768.9 2051.6,769.1 2054.2,769.4 2056.7,769.8 2059.2,770.3 2061.7,770.8 2064.3,771.3 2066.8,771.8 2069.3,772.3 2071.8,773.0 2074.3,773.8 2076.9,774.7 2079.4,775.8 2081.9,777.1 2084.4,778.7 2087.0,780.4 2089.5,782.4 2092.0,784.5 2094.5,786.7 2097.1,788.9 2099.6,791.2 2102.1,793.5 2104.6,795.8 2107.2,798.1 2109.7,800.5 2112.2,803.0 2114.7,805.5 2117.3,808.0 2119.8,810.6 2122.3,813.3 2124.8,816.2 2127.4,819.1 2129.9,822.2 2132.4,825.3 2134.9,828.4 2137.5,831.5 2140.0,834.4 2142.5,837.1 2145.0,839.8 2147.5,842.4 2150.1,845.0 2152.6,847.5 2155.1,849.8 2157.6,852.0 2160.2,853.9 2162.7,855.6 2165.2,857.1 2167.7,858.3 2170.3,859.2 2172.8,860.1 2175.3,860.7 2177.8,861.3 2180.4,861.8 2182.9,862.2 2185.4,862.7 2187.9,863.0 2190.5,863.3 2193.0,863.4 2195.5,863.5 2198.0,863.5 2200.6,863.3 2203.1,863.0 2205.6,862.7 2208.1,862.2 2210.7,861.6 2213.2,860.9 2215.7,860.1 2218.2,859.2 2220.7,858.1 2223.3,857.0 2225.8,855.6 2228.3,854.2 2230.8,852.6 2233.4,851.0 2235.9,849.2 2238.4,847.2 2240.9,845.1 2243.5,842.9 2246.0,840.6 2248.5,838.0 2251.0,835.2 2253.6,832.4 2256.1,829.4 2258.6,826.5 2261.1,823.6 2263.7,820.7 2266.2,817.9 2268.7,815.1 2271.2,812.2 2273.8,809.3 2276.3,806.5 2278.8,803.7 2281.3,800.9 2283.8,798.3 2286.4,795.6 2288.9,792.9 2291.4,790.3 2293.9,787.7 2296.5,785.2 2299.0,782.8 2301.5,780.6 2304.0,778.7 2306.6,777.0 2309.1,775.4 2311.6,774.0 2314.1,772.8 2316.7,771.7 2319.2,770.8 2321.7,770.0 2324.2,769.4 2326.8,769.1 2329.3,768.9 2331.8,768.9 2334.3,769.1 2336.9,769.4 2339.4,769.8 2341.9,770.3 2344.4,770.8 2347.0,771.3 2349.5,771.8 2352.0,772.3 2354.5,773.0 2357.0,773.8 2359.6,774.7 2362.1,775.8 2364.6,777.1 2367.1,778.7 2369.7,780.4 2372.2,782.4 2374.7,784.5 2377.2,786.7 2379.8,788.9 2382.3,791.2 2384.8,793.5 2387.3,795.8 2389.9,798.1 2392.4,800.5 2394.9,803.0 2397.4,805.5 2400.0,808.0 2402.5,810.6 2405.0,813.3 2407.5,816.1 2410.1,819.0 2412.6,822.0 2415.1,825.0 2417.6,828.0 2420.2,831.1 2422.7,834.1 2425.2,837.1" fill="none" stroke="#111" stroke-width="3.5" stroke-dasharray="9.6 7 3 7"/>
</g>
<path d="M1861.1,616.5 V1040.7 H2426.7" fill="none" stroke="#808080" stroke-width="3"/>
<line x1="1860.8" y1="617.7" x2="1869.8" y2="617.7" stroke="#808080" stroke-width="2.1"/>
<text class="tk" x="1845.3" y="637.5" text-anchor="end">0. 8</text>
<line x1="1860.8" y1="723.4" x2="1869.8" y2="723.4" stroke="#808080" stroke-width="2.1"/>
<text class="tk" x="1845.3" y="743.2" text-anchor="end">0. 4</text>
<line x1="1860.8" y1="829.2" x2="1869.8" y2="829.2" stroke="#808080" stroke-width="2.1"/>
<text class="tk" x="1845.3" y="849.0" text-anchor="end">0. 0</text>
<line x1="1860.8" y1="935.0" x2="1869.8" y2="935.0" stroke="#808080" stroke-width="2.1"/>
<text class="tk" x="1845.3" y="954.8" text-anchor="end"><tspan textLength="23" lengthAdjust="spacingAndGlyphs">−</tspan>0. 4</text>
<line x1="1860.8" y1="1040.7" x2="1869.8" y2="1040.7" stroke="#808080" stroke-width="2.1"/>
<text class="tk" x="1845.3" y="1060.5" text-anchor="end"><tspan textLength="23" lengthAdjust="spacingAndGlyphs">−</tspan>0. 8</text>
<text class="tk" x="1861.8" y="1097.5" text-anchor="middle">10. 0</text>
<line x1="2001.1" y1="1040.7" x2="2001.1" y2="1031.7" stroke="#808080" stroke-width="2.1"/>
<text class="tk" x="2003.1" y="1097.5" text-anchor="middle">10. 5</text>
<line x1="2142.5" y1="1040.7" x2="2142.5" y2="1031.7" stroke="#808080" stroke-width="2.1"/>
<text class="tk" x="2144.5" y="1097.5" text-anchor="middle">11. 0</text>
<line x1="2283.8" y1="1040.7" x2="2283.8" y2="1031.7" stroke="#808080" stroke-width="2.1"/>
<text class="tk" x="2285.8" y="1097.5" text-anchor="middle">11. 5</text>
<line x1="2425.2" y1="1040.7" x2="2425.2" y2="1031.7" stroke="#808080" stroke-width="2.1"/>
<text class="tk" x="2427.2" y="1097.5" text-anchor="middle">12. 0</text>
<text class="it" x="2143.5" y="1126.7" text-anchor="middle">t/T</text>
<text class="yl" transform="translate(1742.8,921.2) rotate(-90)"><tspan x="-0.5" y="0" font-style="italic" font-weight="bold" font-size="46">u</tspan><tspan x="24" y="3" font-size="64">/</tspan><tspan x="53" y="-4" font-size="52">(</tspan><tspan x="70" y="0" textLength="26.5" lengthAdjust="spacingAndGlyphs">m</tspan><tspan x="92.2" y="0">·</tspan><tspan x="104.5" y="0">s</tspan><tspan x="129" y="-23" font-size="31" textLength="12" lengthAdjust="spacingAndGlyphs">−</tspan><tspan x="144" y="-23" font-size="31">1</tspan><tspan x="163" y="-4" font-size="52">)</tspan></text>
<text class="it" x="2261.7" y="664.3">9b#</text>
<rect x="1969.1" y="864.5" width="163.8" height="160.0" fill="#fff" stroke="#999" stroke-width="1.6"/>
<circle cx="2001.6" cy="882.1" r="8.5" fill="#000"/>
<text class="lg" x="2046.1" y="892.1"><tspan font-style="italic">d</tspan>=0<tspan textLength="13" lengthAdjust="spacingAndGlyphs">m</tspan></text>
<line x1="1974.1" y1="913.5" x2="2030.1" y2="913.5" stroke="#7a7a7a" stroke-width="1.5"/>
<rect x="1994.7" y="906.6" width="13.8" height="13.8" fill="#fff" stroke="#707070" stroke-width="1.5"/>
<text class="lg" x="2046.1" y="923.5"><tspan font-style="italic">d</tspan>=0. 2<tspan textLength="13" lengthAdjust="spacingAndGlyphs">m</tspan></text>
<line x1="1974.1" y1="944.9" x2="2030.1" y2="944.9" stroke="#7a7a7a" stroke-width="1.5"/>
<text class="lg" x="2046.1" y="954.9"><tspan font-style="italic">d</tspan>=0. 4<tspan textLength="13" lengthAdjust="spacingAndGlyphs">m</tspan></text>
<line x1="1974.1" y1="976.3" x2="2030.1" y2="976.3" stroke="#7a7a7a" stroke-width="1.5"/>
<polygon points="2001.6,966.3 1992.6,980.7 2010.6,980.7" fill="#fff" stroke="#707070" stroke-width="1.5"/>
<text class="lg" x="2046.1" y="986.3"><tspan font-style="italic">d</tspan>=0. 6<tspan textLength="13" lengthAdjust="spacingAndGlyphs">m</tspan></text>
<line x1="1974.1" y1="1007.7" x2="2030.1" y2="1007.7" stroke="#111" stroke-width="3.5" stroke-dasharray="9.6 7 3 7"/>
<text class="lg" x="2046.1" y="1017.7"><tspan font-style="italic">d</tspan>=0. 8<tspan textLength="13" lengthAdjust="spacingAndGlyphs">m</tspan></text></g>
<g id="p7c"><clipPath id="clip7c"><rect x="181.2" y="1182.9" width="566.2" height="433.0"/></clipPath>
<g clip-path="url(#clip7c)">
<circle cx="181.2" cy="1473.4" r="8.5" fill="#000"/>
<circle cx="201.4" cy="1474.7" r="8.5" fill="#000"/>
<circle cx="221.6" cy="1459.7" r="8.5" fill="#000"/>
<circle cx="241.8" cy="1436.1" r="8.5" fill="#000"/>
<circle cx="262.0" cy="1413.7" r="8.5" fill="#000"/>
<circle cx="282.2" cy="1389.9" r="8.5" fill="#000"/>
<circle cx="302.4" cy="1368.2" r="8.5" fill="#000"/>
<circle cx="322.5" cy="1349.1" r="8.5" fill="#000"/>
<circle cx="342.7" cy="1340.9" r="8.5" fill="#000"/>
<circle cx="362.9" cy="1346.5" r="8.5" fill="#000"/>
<circle cx="383.1" cy="1372.7" r="8.5" fill="#000"/>
<circle cx="403.3" cy="1404.4" r="8.5" fill="#000"/>
<circle cx="423.5" cy="1430.8" r="8.5" fill="#000"/>
<circle cx="443.7" cy="1460.5" r="8.5" fill="#000"/>
<circle cx="463.9" cy="1476.1" r="8.5" fill="#000"/>
<circle cx="484.1" cy="1477.4" r="8.5" fill="#000"/>
<circle cx="504.3" cy="1462.8" r="8.5" fill="#000"/>
<circle cx="524.5" cy="1439.3" r="8.5" fill="#000"/>
<circle cx="544.7" cy="1415.0" r="8.5" fill="#000"/>
<circle cx="564.9" cy="1391.2" r="8.5" fill="#000"/>
<circle cx="585.1" cy="1369.0" r="8.5" fill="#000"/>
<circle cx="605.2" cy="1350.5" r="8.5" fill="#000"/>
<circle cx="625.4" cy="1340.9" r="8.5" fill="#000"/>
<circle cx="645.6" cy="1347.8" r="8.5" fill="#000"/>
<circle cx="665.8" cy="1374.0" r="8.5" fill="#000"/>
<circle cx="686.0" cy="1404.4" r="8.5" fill="#000"/>
<circle cx="706.2" cy="1430.8" r="8.5" fill="#000"/>
<circle cx="726.4" cy="1459.7" r="8.5" fill="#000"/>
<circle cx="746.6" cy="1475.5" r="8.5" fill="#000"/>
<polyline points="181.2,1467.1 201.4,1466.8 221.6,1454.4 241.8,1434.8 262.0,1409.7 282.2,1383.0 302.4,1355.0 322.5,1335.9 342.7,1333.5 362.9,1353.4 383.1,1379.3 403.3,1411.0 423.5,1437.2 443.7,1456.5 463.9,1467.3 484.1,1466.8 504.3,1454.4 524.5,1434.8 544.7,1409.7 564.9,1383.0 585.1,1355.0 605.2,1335.9 625.4,1333.5 645.6,1353.4 665.8,1379.3 686.0,1411.0 706.2,1437.2 726.4,1456.5 746.6,1467.3" fill="none" stroke="#7a7a7a" stroke-width="1.5"/>
<rect x="174.3" y="1460.2" width="13.8" height="13.8" fill="#fff" stroke="#707070" stroke-width="1.5"/>
<rect x="194.5" y="1459.9" width="13.8" height="13.8" fill="#fff" stroke="#707070" stroke-width="1.5"/>
<rect x="214.7" y="1447.5" width="13.8" height="13.8" fill="#fff" stroke="#707070" stroke-width="1.5"/>
<rect x="234.9" y="1427.9" width="13.8" height="13.8" fill="#fff" stroke="#707070" stroke-width="1.5"/>
<rect x="255.1" y="1402.8" width="13.8" height="13.8" fill="#fff" stroke="#707070" stroke-width="1.5"/>
<rect x="275.3" y="1376.1" width="13.8" height="13.8" fill="#fff" stroke="#707070" stroke-width="1.5"/>
<rect x="295.5" y="1348.1" width="13.8" height="13.8" fill="#fff" stroke="#707070" stroke-width="1.5"/>
<rect x="315.6" y="1329.0" width="13.8" height="13.8" fill="#fff" stroke="#707070" stroke-width="1.5"/>
<rect x="335.8" y="1326.6" width="13.8" height="13.8" fill="#fff" stroke="#707070" stroke-width="1.5"/>
<rect x="356.0" y="1346.5" width="13.8" height="13.8" fill="#fff" stroke="#707070" stroke-width="1.5"/>
<rect x="376.2" y="1372.4" width="13.8" height="13.8" fill="#fff" stroke="#707070" stroke-width="1.5"/>
<rect x="396.4" y="1404.1" width="13.8" height="13.8" fill="#fff" stroke="#707070" stroke-width="1.5"/>
<rect x="416.6" y="1430.3" width="13.8" height="13.8" fill="#fff" stroke="#707070" stroke-width="1.5"/>
<rect x="436.8" y="1449.6" width="13.8" height="13.8" fill="#fff" stroke="#707070" stroke-width="1.5"/>
<rect x="457.0" y="1460.4" width="13.8" height="13.8" fill="#fff" stroke="#707070" stroke-width="1.5"/>
<rect x="477.2" y="1459.9" width="13.8" height="13.8" fill="#fff" stroke="#707070" stroke-width="1.5"/>
<rect x="497.4" y="1447.5" width="13.8" height="13.8" fill="#fff" stroke="#707070" stroke-width="1.5"/>
<rect x="517.6" y="1427.9" width="13.8" height="13.8" fill="#fff" stroke="#707070" stroke-width="1.5"/>
<rect x="537.8" y="1402.8" width="13.8" height="13.8" fill="#fff" stroke="#707070" stroke-width="1.5"/>
<rect x="558.0" y="1376.1" width="13.8" height="13.8" fill="#fff" stroke="#707070" stroke-width="1.5"/>
<rect x="578.2" y="1348.1" width="13.8" height="13.8" fill="#fff" stroke="#707070" stroke-width="1.5"/>
<rect x="598.4" y="1329.0" width="13.8" height="13.8" fill="#fff" stroke="#707070" stroke-width="1.5"/>
<rect x="618.5" y="1326.6" width="13.8" height="13.8" fill="#fff" stroke="#707070" stroke-width="1.5"/>
<rect x="638.7" y="1346.5" width="13.8" height="13.8" fill="#fff" stroke="#707070" stroke-width="1.5"/>
<rect x="658.9" y="1372.4" width="13.8" height="13.8" fill="#fff" stroke="#707070" stroke-width="1.5"/>
<rect x="679.1" y="1404.1" width="13.8" height="13.8" fill="#fff" stroke="#707070" stroke-width="1.5"/>
<rect x="699.3" y="1430.3" width="13.8" height="13.8" fill="#fff" stroke="#707070" stroke-width="1.5"/>
<rect x="719.5" y="1449.6" width="13.8" height="13.8" fill="#fff" stroke="#707070" stroke-width="1.5"/>
<rect x="739.7" y="1460.4" width="13.8" height="13.8" fill="#fff" stroke="#707070" stroke-width="1.5"/>
<polyline points="181.2,1454.6 183.7,1455.3 186.2,1456.1 188.8,1456.9 191.3,1457.8 193.8,1458.5 196.3,1459.0 198.9,1459.3 201.4,1459.1 203.9,1458.7 206.4,1458.0 209.0,1457.0 211.5,1455.8 214.0,1454.5 216.5,1452.9 219.1,1451.2 221.6,1449.3 224.1,1447.3 226.6,1444.9 229.2,1442.4 231.7,1439.6 234.2,1436.8 236.7,1433.9 239.3,1431.0 241.8,1428.2 244.3,1425.4 246.8,1422.5 249.4,1419.6 251.9,1416.6 254.4,1413.6 256.9,1410.6 259.4,1407.5 262.0,1404.4 264.5,1401.2 267.0,1398.0 269.5,1394.7 272.1,1391.3 274.6,1388.0 277.1,1384.6 279.6,1381.3 282.2,1378.0 284.7,1374.6 287.2,1371.1 289.7,1367.6 292.3,1364.1 294.8,1360.7 297.3,1357.4 299.8,1354.3 302.4,1351.5 304.9,1348.9 307.4,1346.4 309.9,1344.0 312.5,1341.8 315.0,1339.8 317.5,1338.1 320.0,1336.7 322.5,1335.7 325.1,1335.0 327.6,1334.6 330.1,1334.6 332.6,1334.8 335.2,1335.3 337.7,1336.1 340.2,1337.1 342.7,1338.3 345.3,1339.8 347.8,1341.7 350.3,1343.8 352.8,1346.2 355.4,1348.8 357.9,1351.4 360.4,1354.1 362.9,1356.8 365.5,1359.5 368.0,1362.3 370.5,1365.2 373.0,1368.2 375.6,1371.3 378.1,1374.3 380.6,1377.5 383.1,1380.6 385.7,1383.8 388.2,1387.1 390.7,1390.4 393.2,1393.8 395.7,1397.2 398.3,1400.6 400.8,1403.8 403.3,1407.0 405.8,1410.2 408.4,1413.4 410.9,1416.5 413.4,1419.6 415.9,1422.6 418.5,1425.5 421.0,1428.3 423.5,1430.8 426.0,1433.3 428.6,1435.5 431.1,1437.7 433.6,1439.8 436.1,1441.7 438.7,1443.5 441.2,1445.2 443.7,1446.7 446.2,1448.1 448.8,1449.3 451.3,1450.4 453.8,1451.4 456.3,1452.3 458.9,1453.1 461.4,1453.9 463.9,1454.6 466.4,1455.5 468.9,1456.3 471.5,1457.2 474.0,1458.0 476.5,1458.6 479.0,1459.1 481.6,1459.3 484.1,1459.1 486.6,1458.7 489.1,1458.0 491.7,1457.0 494.2,1455.8 496.7,1454.5 499.2,1452.9 501.8,1451.2 504.3,1449.3 506.8,1447.3 509.3,1444.9 511.9,1442.4 514.4,1439.6 516.9,1436.8 519.4,1433.9 522.0,1431.0 524.5,1428.2 527.0,1425.4 529.5,1422.5 532.1,1419.6 534.6,1416.6 537.1,1413.6 539.6,1410.6 542.1,1407.5 544.7,1404.4 547.2,1401.2 549.7,1398.0 552.2,1394.7 554.8,1391.3 557.3,1388.0 559.8,1384.6 562.3,1381.3 564.9,1378.0 567.4,1374.6 569.9,1371.1 572.4,1367.6 575.0,1364.1 577.5,1360.7 580.0,1357.4 582.5,1354.3 585.1,1351.5 587.6,1348.9 590.1,1346.4 592.6,1344.0 595.2,1341.8 597.7,1339.8 600.2,1338.1 602.7,1336.7 605.2,1335.7 607.8,1335.0 610.3,1334.6 612.8,1334.6 615.3,1334.8 617.9,1335.3 620.4,1336.1 622.9,1337.1 625.4,1338.3 628.0,1339.8 630.5,1341.7 633.0,1343.8 635.5,1346.2 638.1,1348.8 640.6,1351.4 643.1,1354.1 645.6,1356.8 648.2,1359.5 650.7,1362.3 653.2,1365.2 655.7,1368.2 658.3,1371.3 660.8,1374.3 663.3,1377.5 665.8,1380.6 668.4,1383.8 670.9,1387.1 673.4,1390.4 675.9,1393.8 678.4,1397.2 681.0,1400.6 683.5,1403.8 686.0,1407.0 688.5,1410.2 691.1,1413.4 693.6,1416.5 696.1,1419.6 698.6,1422.6 701.2,1425.5 703.7,1428.3 706.2,1430.8 708.7,1433.3 711.3,1435.5 713.8,1437.7 716.3,1439.8 718.8,1441.7 721.4,1443.5 723.9,1445.2 726.4,1446.7 728.9,1448.1 731.5,1449.2 734.0,1450.3 736.5,1451.2 739.0,1452.0 741.6,1452.8 744.1,1453.7 746.6,1454.6" fill="none" stroke="#7a7a7a" stroke-width="1.5"/>
<polyline points="181.2,1444.1 201.4,1441.4 221.6,1429.0 241.8,1409.4 262.0,1385.1 282.2,1358.4 302.4,1339.4 322.5,1332.7 342.7,1340.7 362.9,1359.7 383.1,1382.2 403.3,1402.5 423.5,1421.1 443.7,1438.0 463.9,1444.1 484.1,1441.4 504.3,1429.0 524.5,1409.4 544.7,1385.1 564.9,1358.4 585.1,1339.4 605.2,1332.7 625.4,1340.7 645.6,1359.7 665.8,1382.2 686.0,1402.5 706.2,1421.1 726.4,1438.0 746.6,1444.1" fill="none" stroke="#7a7a7a" stroke-width="1.5"/>
<polygon points="181.2,1434.1 172.2,1448.5 190.2,1448.5" fill="#fff" stroke="#707070" stroke-width="1.5"/>
<polygon points="201.4,1431.4 192.4,1445.8 210.4,1445.8" fill="#fff" stroke="#707070" stroke-width="1.5"/>
<polygon points="221.6,1419.0 212.6,1433.4 230.6,1433.4" fill="#fff" stroke="#707070" stroke-width="1.5"/>
<polygon points="241.8,1399.4 232.8,1413.8 250.8,1413.8" fill="#fff" stroke="#707070" stroke-width="1.5"/>
<polygon points="262.0,1375.1 253.0,1389.5 271.0,1389.5" fill="#fff" stroke="#707070" stroke-width="1.5"/>
<polygon points="282.2,1348.4 273.2,1362.8 291.2,1362.8" fill="#fff" stroke="#707070" stroke-width="1.5"/>
<polygon points="302.4,1329.4 293.4,1343.8 311.4,1343.8" fill="#fff" stroke="#707070" stroke-width="1.5"/>
<polygon points="322.5,1322.7 313.5,1337.1 331.5,1337.1" fill="#fff" stroke="#707070" stroke-width="1.5"/>
<polygon points="342.7,1330.7 333.7,1345.1 351.7,1345.1" fill="#fff" stroke="#707070" stroke-width="1.5"/>
<polygon points="362.9,1349.7 353.9,1364.1 371.9,1364.1" fill="#fff" stroke="#707070" stroke-width="1.5"/>
<polygon points="383.1,1372.2 374.1,1386.6 392.1,1386.6" fill="#fff" stroke="#707070" stroke-width="1.5"/>
<polygon points="403.3,1392.5 394.3,1406.9 412.3,1406.9" fill="#fff" stroke="#707070" stroke-width="1.5"/>
<polygon points="423.5,1411.1 414.5,1425.5 432.5,1425.5" fill="#fff" stroke="#707070" stroke-width="1.5"/>
<polygon points="443.7,1428.0 434.7,1442.4 452.7,1442.4" fill="#fff" stroke="#707070" stroke-width="1.5"/>
<polygon points="463.9,1434.1 454.9,1448.5 472.9,1448.5" fill="#fff" stroke="#707070" stroke-width="1.5"/>
<polygon points="484.1,1431.4 475.1,1445.8 493.1,1445.8" fill="#fff" stroke="#707070" stroke-width="1.5"/>
<polygon points="504.3,1419.0 495.3,1433.4 513.3,1433.4" fill="#fff" stroke="#707070" stroke-width="1.5"/>
<polygon points="524.5,1399.4 515.5,1413.8 533.5,1413.8" fill="#fff" stroke="#707070" stroke-width="1.5"/>
<polygon points="544.7,1375.1 535.7,1389.5 553.7,1389.5" fill="#fff" stroke="#707070" stroke-width="1.5"/>
<polygon points="564.9,1348.4 555.9,1362.8 573.9,1362.8" fill="#fff" stroke="#707070" stroke-width="1.5"/>
<polygon points="585.1,1329.4 576.1,1343.8 594.1,1343.8" fill="#fff" stroke="#707070" stroke-width="1.5"/>
<polygon points="605.2,1322.7 596.2,1337.1 614.2,1337.1" fill="#fff" stroke="#707070" stroke-width="1.5"/>
<polygon points="625.4,1330.7 616.4,1345.1 634.4,1345.1" fill="#fff" stroke="#707070" stroke-width="1.5"/>
<polygon points="645.6,1349.7 636.6,1364.1 654.6,1364.1" fill="#fff" stroke="#707070" stroke-width="1.5"/>
<polygon points="665.8,1372.2 656.8,1386.6 674.8,1386.6" fill="#fff" stroke="#707070" stroke-width="1.5"/>
<polygon points="686.0,1392.5 677.0,1406.9 695.0,1406.9" fill="#fff" stroke="#707070" stroke-width="1.5"/>
<polygon points="706.2,1411.1 697.2,1425.5 715.2,1425.5" fill="#fff" stroke="#707070" stroke-width="1.5"/>
<polygon points="726.4,1428.0 717.4,1442.4 735.4,1442.4" fill="#fff" stroke="#707070" stroke-width="1.5"/>
<polygon points="746.6,1434.1 737.6,1448.5 755.6,1448.5" fill="#fff" stroke="#707070" stroke-width="1.5"/>
<polyline points="181.2,1436.1 183.7,1435.5 186.2,1435.0 188.8,1434.4 191.3,1433.9 193.8,1433.3 196.3,1432.6 198.9,1431.8 201.4,1430.8 203.9,1429.7 206.4,1428.5 209.0,1427.1 211.5,1425.7 214.0,1424.1 216.5,1422.5 219.1,1420.8 221.6,1418.9 224.1,1417.0 226.6,1415.0 229.2,1412.9 231.7,1410.8 234.2,1408.5 236.7,1406.1 239.3,1403.7 241.8,1401.2 244.3,1398.6 246.8,1395.9 249.4,1393.1 251.9,1390.2 254.4,1387.2 256.9,1384.3 259.4,1381.4 262.0,1378.5 264.5,1375.6 267.0,1372.7 269.5,1369.7 272.1,1366.8 274.6,1363.9 277.1,1361.1 279.6,1358.5 282.2,1356.0 284.7,1353.7 287.2,1351.4 289.7,1349.2 292.3,1347.2 294.8,1345.3 297.3,1343.6 299.8,1342.1 302.4,1340.9 304.9,1340.0 307.4,1339.4 309.9,1338.9 312.5,1338.7 315.0,1338.7 317.5,1338.8 320.0,1339.1 322.5,1339.6 325.1,1340.3 327.6,1341.2 330.1,1342.3 332.6,1343.5 335.2,1344.9 337.7,1346.4 340.2,1348.0 342.7,1349.7 345.3,1351.4 347.8,1353.4 350.3,1355.4 352.8,1357.6 355.4,1359.8 357.9,1362.1 360.4,1364.4 362.9,1366.6 365.5,1368.8 368.0,1371.1 370.5,1373.5 373.0,1375.8 375.6,1378.2 378.1,1380.5 380.6,1382.8 383.1,1385.1 385.7,1387.4 388.2,1389.6 390.7,1391.9 393.2,1394.1 395.7,1396.3 398.3,1398.4 400.8,1400.5 403.3,1402.5 405.8,1404.5 408.4,1406.4 410.9,1408.3 413.4,1410.1 415.9,1411.8 418.5,1413.5 421.0,1415.2 423.5,1416.8 426.0,1418.4 428.6,1420.0 431.1,1421.5 433.6,1422.9 436.1,1424.3 438.7,1425.7 441.2,1427.0 443.7,1428.2 446.2,1429.4 448.8,1430.7 451.3,1432.0 453.8,1433.2 456.3,1434.3 458.9,1435.2 461.4,1435.8 463.9,1436.1 466.4,1436.1 468.9,1435.9 471.5,1435.4 474.0,1434.7 476.5,1433.9 479.0,1432.9 481.6,1431.9 484.1,1430.8 486.6,1429.7 489.1,1428.5 491.7,1427.1 494.2,1425.7 496.7,1424.1 499.2,1422.5 501.8,1420.8 504.3,1418.9 506.8,1417.0 509.3,1415.0 511.9,1412.9 514.4,1410.8 516.9,1408.5 519.4,1406.1 522.0,1403.7 524.5,1401.2 527.0,1398.6 529.5,1395.9 532.1,1393.1 534.6,1390.2 537.1,1387.2 539.6,1384.3 542.1,1381.4 544.7,1378.5 547.2,1375.6 549.7,1372.7 552.2,1369.7 554.8,1366.8 557.3,1363.9 559.8,1361.1 562.3,1358.5 564.9,1356.0 567.4,1353.7 569.9,1351.4 572.4,1349.2 575.0,1347.2 577.5,1345.3 580.0,1343.6 582.5,1342.1 585.1,1340.9 587.6,1340.0 590.1,1339.4 592.6,1338.9 595.2,1338.7 597.7,1338.7 600.2,1338.8 602.7,1339.1 605.2,1339.6 607.8,1340.3 610.3,1341.2 612.8,1342.3 615.3,1343.5 617.9,1344.9 620.4,1346.4 622.9,1348.0 625.4,1349.7 628.0,1351.4 630.5,1353.4 633.0,1355.4 635.5,1357.6 638.1,1359.8 640.6,1362.1 643.1,1364.4 645.6,1366.6 648.2,1368.8 650.7,1371.1 653.2,1373.5 655.7,1375.8 658.3,1378.2 660.8,1380.5 663.3,1382.8 665.8,1385.1 668.4,1387.4 670.9,1389.6 673.4,1391.9 675.9,1394.1 678.4,1396.3 681.0,1398.4 683.5,1400.5 686.0,1402.5 688.5,1404.5 691.1,1406.4 693.6,1408.3 696.1,1410.1 698.6,1411.8 701.2,1413.5 703.7,1415.2 706.2,1416.8 708.7,1418.4 711.3,1420.0 713.8,1421.5 716.3,1422.9 718.8,1424.3 721.4,1425.7 723.9,1427.0 726.4,1428.2 728.9,1429.4 731.5,1430.4 734.0,1431.4 736.5,1432.4 739.0,1433.3 741.6,1434.2 744.1,1435.2 746.6,1436.1" fill="none" stroke="#111" stroke-width="3.5" stroke-dasharray="9.6 7 3 7"/>
</g>
<path d="M182.5,1191.7 V1615.9 H748.1" fill="none" stroke="#808080" stroke-width="3"/>
<line x1="182.2" y1="1192.9" x2="191.2" y2="1192.9" stroke="#808080" stroke-width="2.1"/>
<text class="tk" x="166.7" y="1212.7" text-anchor="end">0. 8</text>
<line x1="182.2" y1="1404.4" x2="191.2" y2="1404.4" stroke="#808080" stroke-width="2.1"/>
<text class="tk" x="166.7" y="1424.2" text-anchor="end">0. 0</text>
<line x1="182.2" y1="1615.9" x2="191.2" y2="1615.9" stroke="#808080" stroke-width="2.1"/>
<text class="tk" x="166.7" y="1635.7" text-anchor="end"><tspan textLength="23" lengthAdjust="spacingAndGlyphs">−</tspan>0. 8</text>
<text class="tk" x="183.2" y="1672.7" text-anchor="middle">10. 0</text>
<line x1="322.5" y1="1615.9" x2="322.5" y2="1606.9" stroke="#808080" stroke-width="2.1"/>
<text class="tk" x="324.5" y="1672.7" text-anchor="middle">10. 5</text>
<line x1="463.9" y1="1615.9" x2="463.9" y2="1606.9" stroke="#808080" stroke-width="2.1"/>
<text class="tk" x="465.9" y="1672.7" text-anchor="middle">11. 0</text>
<line x1="605.2" y1="1615.9" x2="605.2" y2="1606.9" stroke="#808080" stroke-width="2.1"/>
<text class="tk" x="607.2" y="1672.7" text-anchor="middle">11. 5</text>
<line x1="746.6" y1="1615.9" x2="746.6" y2="1606.9" stroke="#808080" stroke-width="2.1"/>
<text class="tk" x="748.6" y="1672.7" text-anchor="middle">12. 0</text>
<text class="it" x="464.9" y="1701.9" text-anchor="middle">t/T</text>
<text class="yl" transform="translate(64.2,1496.4) rotate(-90)"><tspan x="-0.5" y="0" font-style="italic" font-weight="bold" font-size="46">u</tspan><tspan x="24" y="3" font-size="64">/</tspan><tspan x="53" y="-4" font-size="52">(</tspan><tspan x="70" y="0" textLength="26.5" lengthAdjust="spacingAndGlyphs">m</tspan><tspan x="92.2" y="0">·</tspan><tspan x="104.5" y="0">s</tspan><tspan x="129" y="-23" font-size="31" textLength="12" lengthAdjust="spacingAndGlyphs">−</tspan><tspan x="144" y="-23" font-size="31">1</tspan><tspan x="163" y="-4" font-size="52">)</tspan></text>
<text class="it" x="592.8" y="1251.7">7c#</text>
<rect x="229.7" y="1443.6" width="163.8" height="160.6" fill="#fff" stroke="#999" stroke-width="1.6"/>
<circle cx="262.2" cy="1461.2" r="8.5" fill="#000"/>
<text class="lg" x="306.7" y="1471.2"><tspan font-style="italic">d</tspan>=0<tspan textLength="13" lengthAdjust="spacingAndGlyphs">m</tspan></text>
<line x1="234.7" y1="1492.7" x2="290.7" y2="1492.7" stroke="#7a7a7a" stroke-width="1.5"/>
<rect x="255.3" y="1485.8" width="13.8" height="13.8" fill="#fff" stroke="#707070" stroke-width="1.5"/>
<text class="lg" x="306.7" y="1502.7"><tspan font-style="italic">d</tspan>=0. 2<tspan textLength="13" lengthAdjust="spacingAndGlyphs">m</tspan></text>
<line x1="234.7" y1="1524.3" x2="290.7" y2="1524.3" stroke="#7a7a7a" stroke-width="1.5"/>
<text class="lg" x="306.7" y="1534.3"><tspan font-style="italic">d</tspan>=0. 4<tspan textLength="13" lengthAdjust="spacingAndGlyphs">m</tspan></text>
<line x1="234.7" y1="1555.8" x2="290.7" y2="1555.8" stroke="#7a7a7a" stroke-width="1.5"/>
<polygon points="262.2,1545.8 253.2,1560.2 271.2,1560.2" fill="#fff" stroke="#707070" stroke-width="1.5"/>
<text class="lg" x="306.7" y="1565.8"><tspan font-style="italic">d</tspan>=0. 6<tspan textLength="13" lengthAdjust="spacingAndGlyphs">m</tspan></text>
<line x1="234.7" y1="1587.4" x2="290.7" y2="1587.4" stroke="#111" stroke-width="3.5" stroke-dasharray="9.6 7 3 7"/>
<text class="lg" x="306.7" y="1597.4"><tspan font-style="italic">d</tspan>=0. 8<tspan textLength="13" lengthAdjust="spacingAndGlyphs">m</tspan></text></g>
<g id="p8c"><clipPath id="clip8c"><rect x="1020.5" y="1182.9" width="566.2" height="433.0"/></clipPath>
<g clip-path="url(#clip8c)">
<circle cx="1020.5" cy="1465.5" r="8.5" fill="#000"/>
<circle cx="1040.7" cy="1472.9" r="8.5" fill="#000"/>
<circle cx="1060.9" cy="1469.4" r="8.5" fill="#000"/>
<circle cx="1081.1" cy="1457.8" r="8.5" fill="#000"/>
<circle cx="1101.3" cy="1439.3" r="8.5" fill="#000"/>
<circle cx="1121.5" cy="1418.1" r="8.5" fill="#000"/>
<circle cx="1141.7" cy="1394.6" r="8.5" fill="#000"/>
<circle cx="1161.8" cy="1371.6" r="8.5" fill="#000"/>
<circle cx="1182.0" cy="1348.1" r="8.5" fill="#000"/>
<circle cx="1202.2" cy="1331.4" r="8.5" fill="#000"/>
<circle cx="1222.4" cy="1338.3" r="8.5" fill="#000"/>
<circle cx="1242.6" cy="1364.7" r="8.5" fill="#000"/>
<circle cx="1262.8" cy="1400.4" r="8.5" fill="#000"/>
<circle cx="1283.0" cy="1439.3" r="8.5" fill="#000"/>
<circle cx="1303.2" cy="1467.6" r="8.5" fill="#000"/>
<circle cx="1323.4" cy="1478.7" r="8.5" fill="#000"/>
<circle cx="1343.6" cy="1475.5" r="8.5" fill="#000"/>
<circle cx="1363.8" cy="1463.6" r="8.5" fill="#000"/>
<circle cx="1384.0" cy="1444.6" r="8.5" fill="#000"/>
<circle cx="1404.2" cy="1420.8" r="8.5" fill="#000"/>
<circle cx="1424.4" cy="1397.3" r="8.5" fill="#000"/>
<circle cx="1444.5" cy="1374.5" r="8.5" fill="#000"/>
<circle cx="1464.7" cy="1351.0" r="8.5" fill="#000"/>
<circle cx="1484.9" cy="1334.1" r="8.5" fill="#000"/>
<circle cx="1505.1" cy="1338.0" r="8.5" fill="#000"/>
<circle cx="1525.3" cy="1364.7" r="8.5" fill="#000"/>
<circle cx="1545.5" cy="1401.0" r="8.5" fill="#000"/>
<circle cx="1565.7" cy="1439.8" r="8.5" fill="#000"/>
<circle cx="1585.9" cy="1472.4" r="8.5" fill="#000"/>
<polyline points="1020.5,1453.3 1040.7,1466.5 1060.9,1465.2 1081.1,1454.1 1101.3,1437.2 1121.5,1415.8 1141.7,1391.4 1161.8,1359.2 1182.0,1329.6 1202.2,1325.6 1222.4,1334.3 1242.6,1366.3 1262.8,1402.8 1283.0,1433.5 1303.2,1457.5 1323.4,1469.2 1343.6,1467.1 1363.8,1455.4 1384.0,1436.9 1404.2,1416.6 1424.4,1391.4 1444.5,1360.0 1464.7,1332.2 1484.9,1327.5 1505.1,1335.7 1525.3,1368.2 1545.5,1405.2 1565.7,1438.0 1585.9,1457.3" fill="none" stroke="#7a7a7a" stroke-width="1.5"/>
<rect x="1013.6" y="1446.4" width="13.8" height="13.8" fill="#fff" stroke="#707070" stroke-width="1.5"/>
<rect x="1033.8" y="1459.6" width="13.8" height="13.8" fill="#fff" stroke="#707070" stroke-width="1.5"/>
<rect x="1054.0" y="1458.3" width="13.8" height="13.8" fill="#fff" stroke="#707070" stroke-width="1.5"/>
<rect x="1074.2" y="1447.2" width="13.8" height="13.8" fill="#fff" stroke="#707070" stroke-width="1.5"/>
<rect x="1094.4" y="1430.3" width="13.8" height="13.8" fill="#fff" stroke="#707070" stroke-width="1.5"/>
<rect x="1114.6" y="1408.9" width="13.8" height="13.8" fill="#fff" stroke="#707070" stroke-width="1.5"/>
<rect x="1134.8" y="1384.5" width="13.8" height="13.8" fill="#fff" stroke="#707070" stroke-width="1.5"/>
<rect x="1154.9" y="1352.3" width="13.8" height="13.8" fill="#fff" stroke="#707070" stroke-width="1.5"/>
<rect x="1175.1" y="1322.7" width="13.8" height="13.8" fill="#fff" stroke="#707070" stroke-width="1.5"/>
<rect x="1195.3" y="1318.7" width="13.8" height="13.8" fill="#fff" stroke="#707070" stroke-width="1.5"/>
<rect x="1215.5" y="1327.4" width="13.8" height="13.8" fill="#fff" stroke="#707070" stroke-width="1.5"/>
<rect x="1235.7" y="1359.4" width="13.8" height="13.8" fill="#fff" stroke="#707070" stroke-width="1.5"/>
<rect x="1255.9" y="1395.9" width="13.8" height="13.8" fill="#fff" stroke="#707070" stroke-width="1.5"/>
<rect x="1276.1" y="1426.6" width="13.8" height="13.8" fill="#fff" stroke="#707070" stroke-width="1.5"/>
<rect x="1296.3" y="1450.6" width="13.8" height="13.8" fill="#fff" stroke="#707070" stroke-width="1.5"/>
<rect x="1316.5" y="1462.3" width="13.8" height="13.8" fill="#fff" stroke="#707070" stroke-width="1.5"/>
<rect x="1336.7" y="1460.2" width="13.8" height="13.8" fill="#fff" stroke="#707070" stroke-width="1.5"/>
<rect x="1356.9" y="1448.5" width="13.8" height="13.8" fill="#fff" stroke="#707070" stroke-width="1.5"/>
<rect x="1377.1" y="1430.0" width="13.8" height="13.8" fill="#fff" stroke="#707070" stroke-width="1.5"/>
<rect x="1397.3" y="1409.7" width="13.8" height="13.8" fill="#fff" stroke="#707070" stroke-width="1.5"/>
<rect x="1417.5" y="1384.5" width="13.8" height="13.8" fill="#fff" stroke="#707070" stroke-width="1.5"/>
<rect x="1437.6" y="1353.1" width="13.8" height="13.8" fill="#fff" stroke="#707070" stroke-width="1.5"/>
<rect x="1457.8" y="1325.3" width="13.8" height="13.8" fill="#fff" stroke="#707070" stroke-width="1.5"/>
<rect x="1478.0" y="1320.6" width="13.8" height="13.8" fill="#fff" stroke="#707070" stroke-width="1.5"/>
<rect x="1498.2" y="1328.8" width="13.8" height="13.8" fill="#fff" stroke="#707070" stroke-width="1.5"/>
<rect x="1518.4" y="1361.3" width="13.8" height="13.8" fill="#fff" stroke="#707070" stroke-width="1.5"/>
<rect x="1538.6" y="1398.3" width="13.8" height="13.8" fill="#fff" stroke="#707070" stroke-width="1.5"/>
<rect x="1558.8" y="1431.1" width="13.8" height="13.8" fill="#fff" stroke="#707070" stroke-width="1.5"/>
<rect x="1579.0" y="1450.4" width="13.8" height="13.8" fill="#fff" stroke="#707070" stroke-width="1.5"/>
<polyline points="1020.5,1441.4 1023.0,1443.3 1025.5,1445.4 1028.1,1447.5 1030.6,1449.5 1033.1,1451.5 1035.6,1453.3 1038.2,1454.8 1040.7,1456.0 1043.2,1456.8 1045.7,1457.5 1048.3,1457.9 1050.8,1458.2 1053.3,1458.2 1055.8,1458.1 1058.4,1457.8 1060.9,1457.3 1063.4,1456.6 1065.9,1455.7 1068.5,1454.5 1071.0,1453.2 1073.5,1451.8 1076.0,1450.2 1078.6,1448.5 1081.1,1446.7 1083.6,1444.8 1086.1,1442.7 1088.7,1440.5 1091.2,1438.1 1093.7,1435.7 1096.2,1433.2 1098.7,1430.7 1101.3,1428.2 1103.8,1425.7 1106.3,1423.2 1108.8,1420.7 1111.4,1418.1 1113.9,1415.5 1116.4,1412.8 1118.9,1410.0 1121.5,1407.0 1124.0,1404.0 1126.5,1400.9 1129.0,1397.6 1131.6,1394.3 1134.1,1390.9 1136.6,1387.5 1139.1,1384.1 1141.7,1380.6 1144.2,1377.1 1146.7,1373.4 1149.2,1369.7 1151.8,1365.9 1154.3,1362.2 1156.8,1358.5 1159.3,1354.9 1161.8,1351.5 1164.4,1348.2 1166.9,1344.8 1169.4,1341.5 1171.9,1338.3 1174.5,1335.3 1177.0,1332.4 1179.5,1329.9 1182.0,1327.7 1184.6,1325.8 1187.1,1324.2 1189.6,1322.8 1192.1,1321.6 1194.7,1320.7 1197.2,1320.1 1199.7,1319.8 1202.2,1319.8 1204.8,1320.1 1207.3,1320.7 1209.8,1321.6 1212.3,1322.8 1214.9,1324.2 1217.4,1326.0 1219.9,1328.0 1222.4,1330.4 1225.0,1333.1 1227.5,1336.2 1230.0,1339.7 1232.5,1343.4 1235.0,1347.3 1237.6,1351.4 1240.1,1355.4 1242.6,1359.5 1245.1,1363.5 1247.7,1367.8 1250.2,1372.2 1252.7,1376.6 1255.2,1381.1 1257.8,1385.5 1260.3,1389.7 1262.8,1393.8 1265.3,1397.8 1267.9,1401.7 1270.4,1405.6 1272.9,1409.4 1275.4,1413.0 1278.0,1416.5 1280.5,1419.8 1283.0,1422.9 1285.5,1425.8 1288.1,1428.4 1290.6,1430.8 1293.1,1433.1 1295.6,1435.2 1298.2,1437.3 1300.7,1439.4 1303.2,1441.4 1305.7,1443.5 1308.2,1445.6 1310.8,1447.7 1313.3,1449.8 1315.8,1451.6 1318.3,1453.3 1320.9,1454.8 1323.4,1456.0 1325.9,1456.8 1328.4,1457.5 1331.0,1457.9 1333.5,1458.2 1336.0,1458.2 1338.5,1458.1 1341.1,1457.8 1343.6,1457.3 1346.1,1456.6 1348.6,1455.7 1351.2,1454.5 1353.7,1453.2 1356.2,1451.8 1358.7,1450.2 1361.3,1448.5 1363.8,1446.7 1366.3,1444.8 1368.8,1442.7 1371.4,1440.5 1373.9,1438.1 1376.4,1435.7 1378.9,1433.2 1381.4,1430.7 1384.0,1428.2 1386.5,1425.7 1389.0,1423.2 1391.5,1420.7 1394.1,1418.1 1396.6,1415.5 1399.1,1412.8 1401.6,1410.0 1404.2,1407.0 1406.7,1404.0 1409.2,1400.9 1411.7,1397.6 1414.3,1394.3 1416.8,1390.9 1419.3,1387.5 1421.8,1384.1 1424.4,1380.6 1426.9,1377.1 1429.4,1373.4 1431.9,1369.7 1434.5,1365.9 1437.0,1362.2 1439.5,1358.5 1442.0,1354.9 1444.5,1351.5 1447.1,1348.2 1449.6,1344.8 1452.1,1341.5 1454.6,1338.3 1457.2,1335.3 1459.7,1332.4 1462.2,1329.9 1464.7,1327.7 1467.3,1325.8 1469.8,1324.2 1472.3,1322.8 1474.8,1321.6 1477.4,1320.7 1479.9,1320.1 1482.4,1319.8 1484.9,1319.8 1487.5,1320.1 1490.0,1320.7 1492.5,1321.6 1495.0,1322.8 1497.6,1324.2 1500.1,1326.0 1502.6,1328.0 1505.1,1330.4 1507.7,1333.1 1510.2,1336.2 1512.7,1339.7 1515.2,1343.4 1517.7,1347.3 1520.3,1351.4 1522.8,1355.4 1525.3,1359.5 1527.8,1363.5 1530.4,1367.8 1532.9,1372.2 1535.4,1376.6 1537.9,1381.1 1540.5,1385.5 1543.0,1389.7 1545.5,1393.8 1548.0,1397.8 1550.6,1401.7 1553.1,1405.6 1555.6,1409.4 1558.1,1413.0 1560.7,1416.5 1563.2,1419.8 1565.7,1422.9 1568.2,1425.7 1570.8,1428.3 1573.3,1430.6 1575.8,1432.8 1578.3,1434.9 1580.9,1437.0 1583.4,1439.2 1585.9,1441.4" fill="none" stroke="#7a7a7a" stroke-width="1.5"/>
<polyline points="1020.5,1430.8 1040.7,1443.3 1060.9,1441.9 1081.1,1430.8 1101.3,1412.3 1121.5,1388.0 1141.7,1359.2 1161.8,1331.4 1182.0,1313.7 1202.2,1313.2 1222.4,1330.9 1242.6,1355.2 1262.8,1382.7 1283.0,1410.5 1303.2,1432.7 1323.4,1442.7 1343.6,1440.6 1363.8,1430.8 1384.0,1413.1 1404.2,1388.8 1424.4,1360.5 1444.5,1332.7 1464.7,1315.0 1484.9,1313.2 1505.1,1330.1 1525.3,1355.2 1545.5,1383.5 1565.7,1410.5 1585.9,1433.5" fill="none" stroke="#7a7a7a" stroke-width="1.5"/>
<polygon points="1020.5,1420.8 1011.5,1435.2 1029.5,1435.2" fill="#fff" stroke="#707070" stroke-width="1.5"/>
<polygon points="1040.7,1433.3 1031.7,1447.7 1049.7,1447.7" fill="#fff" stroke="#707070" stroke-width="1.5"/>
<polygon points="1060.9,1431.9 1051.9,1446.3 1069.9,1446.3" fill="#fff" stroke="#707070" stroke-width="1.5"/>
<polygon points="1081.1,1420.8 1072.1,1435.2 1090.1,1435.2" fill="#fff" stroke="#707070" stroke-width="1.5"/>
<polygon points="1101.3,1402.3 1092.3,1416.7 1110.3,1416.7" fill="#fff" stroke="#707070" stroke-width="1.5"/>
<polygon points="1121.5,1378.0 1112.5,1392.4 1130.5,1392.4" fill="#fff" stroke="#707070" stroke-width="1.5"/>
<polygon points="1141.7,1349.2 1132.7,1363.6 1150.7,1363.6" fill="#fff" stroke="#707070" stroke-width="1.5"/>
<polygon points="1161.8,1321.4 1152.8,1335.8 1170.8,1335.8" fill="#fff" stroke="#707070" stroke-width="1.5"/>
<polygon points="1182.0,1303.7 1173.0,1318.1 1191.0,1318.1" fill="#fff" stroke="#707070" stroke-width="1.5"/>
<polygon points="1202.2,1303.2 1193.2,1317.6 1211.2,1317.6" fill="#fff" stroke="#707070" stroke-width="1.5"/>
<polygon points="1222.4,1320.9 1213.4,1335.3 1231.4,1335.3" fill="#fff" stroke="#707070" stroke-width="1.5"/>
<polygon points="1242.6,1345.2 1233.6,1359.6 1251.6,1359.6" fill="#fff" stroke="#707070" stroke-width="1.5"/>
<polygon points="1262.8,1372.7 1253.8,1387.1 1271.8,1387.1" fill="#fff" stroke="#707070" stroke-width="1.5"/>
<polygon points="1283.0,1400.5 1274.0,1414.9 1292.0,1414.9" fill="#fff" stroke="#707070" stroke-width="1.5"/>
<polygon points="1303.2,1422.7 1294.2,1437.1 1312.2,1437.1" fill="#fff" stroke="#707070" stroke-width="1.5"/>
<polygon points="1323.4,1432.7 1314.4,1447.1 1332.4,1447.1" fill="#fff" stroke="#707070" stroke-width="1.5"/>
<polygon points="1343.6,1430.6 1334.6,1445.0 1352.6,1445.0" fill="#fff" stroke="#707070" stroke-width="1.5"/>
<polygon points="1363.8,1420.8 1354.8,1435.2 1372.8,1435.2" fill="#fff" stroke="#707070" stroke-width="1.5"/>
<polygon points="1384.0,1403.1 1375.0,1417.5 1393.0,1417.5" fill="#fff" stroke="#707070" stroke-width="1.5"/>
<polygon points="1404.2,1378.8 1395.2,1393.2 1413.2,1393.2" fill="#fff" stroke="#707070" stroke-width="1.5"/>
<polygon points="1424.4,1350.5 1415.4,1364.9 1433.4,1364.9" fill="#fff" stroke="#707070" stroke-width="1.5"/>
<polygon points="1444.5,1322.7 1435.5,1337.1 1453.5,1337.1" fill="#fff" stroke="#707070" stroke-width="1.5"/>
<polygon points="1464.7,1305.0 1455.7,1319.4 1473.7,1319.4" fill="#fff" stroke="#707070" stroke-width="1.5"/>
<polygon points="1484.9,1303.2 1475.9,1317.6 1493.9,1317.6" fill="#fff" stroke="#707070" stroke-width="1.5"/>
<polygon points="1505.1,1320.1 1496.1,1334.5 1514.1,1334.5" fill="#fff" stroke="#707070" stroke-width="1.5"/>
<polygon points="1525.3,1345.2 1516.3,1359.6 1534.3,1359.6" fill="#fff" stroke="#707070" stroke-width="1.5"/>
<polygon points="1545.5,1373.5 1536.5,1387.9 1554.5,1387.9" fill="#fff" stroke="#707070" stroke-width="1.5"/>
<polygon points="1565.7,1400.5 1556.7,1414.9 1574.7,1414.9" fill="#fff" stroke="#707070" stroke-width="1.5"/>
<polygon points="1585.9,1423.5 1576.9,1437.9 1594.9,1437.9" fill="#fff" stroke="#707070" stroke-width="1.5"/>
<polyline points="1020.5,1424.2 1023.0,1425.0 1025.5,1425.9 1028.1,1426.8 1030.6,1427.7 1033.1,1428.5 1035.6,1429.2 1038.2,1429.9 1040.7,1430.3 1043.2,1430.6 1045.7,1430.9 1048.3,1431.0 1050.8,1431.0 1053.3,1430.9 1055.8,1430.7 1058.4,1430.5 1060.9,1430.0 1063.4,1429.5 1065.9,1428.9 1068.5,1428.2 1071.0,1427.4 1073.5,1426.4 1076.0,1425.4 1078.6,1424.2 1081.1,1422.9 1083.6,1421.5 1086.1,1419.9 1088.7,1418.2 1091.2,1416.4 1093.7,1414.5 1096.2,1412.5 1098.7,1410.5 1101.3,1408.4 1103.8,1406.2 1106.3,1403.9 1108.8,1401.5 1111.4,1399.0 1113.9,1396.5 1116.4,1393.9 1118.9,1391.3 1121.5,1388.8 1124.0,1386.3 1126.5,1383.8 1129.0,1381.3 1131.6,1378.7 1134.1,1376.1 1136.6,1373.5 1139.1,1370.7 1141.7,1367.9 1144.2,1364.9 1146.7,1361.8 1149.2,1358.5 1151.8,1355.2 1154.3,1351.9 1156.8,1348.7 1159.3,1345.6 1161.8,1342.8 1164.4,1340.1 1166.9,1337.4 1169.4,1334.8 1171.9,1332.3 1174.5,1329.9 1177.0,1327.8 1179.5,1325.9 1182.0,1324.3 1184.6,1322.9 1187.1,1321.7 1189.6,1320.6 1192.1,1319.8 1194.7,1319.2 1197.2,1318.9 1199.7,1318.9 1202.2,1319.3 1204.8,1320.0 1207.3,1321.1 1209.8,1322.5 1212.3,1324.1 1214.9,1326.0 1217.4,1328.1 1219.9,1330.2 1222.4,1332.5 1225.0,1334.9 1227.5,1337.5 1230.0,1340.4 1232.5,1343.3 1235.0,1346.4 1237.6,1349.5 1240.1,1352.5 1242.6,1355.5 1245.1,1358.4 1247.7,1361.4 1250.2,1364.3 1252.7,1367.3 1255.2,1370.3 1257.8,1373.3 1260.3,1376.3 1262.8,1379.3 1265.3,1382.3 1267.9,1385.4 1270.4,1388.6 1272.9,1391.7 1275.4,1394.8 1278.0,1397.9 1280.5,1400.9 1283.0,1403.9 1285.5,1406.8 1288.1,1409.9 1290.6,1413.0 1293.1,1416.0 1295.6,1418.8 1298.2,1421.4 1300.7,1423.7 1303.2,1425.6 1305.7,1427.0 1308.2,1428.0 1310.8,1428.8 1313.3,1429.3 1315.8,1429.6 1318.3,1429.9 1320.9,1430.1 1323.4,1430.3 1325.9,1430.6 1328.4,1430.8 1331.0,1430.9 1333.5,1430.9 1336.0,1430.9 1338.5,1430.7 1341.1,1430.4 1343.6,1430.0 1346.1,1429.5 1348.6,1428.9 1351.2,1428.2 1353.7,1427.4 1356.2,1426.4 1358.7,1425.4 1361.3,1424.2 1363.8,1422.9 1366.3,1421.5 1368.8,1419.9 1371.4,1418.2 1373.9,1416.4 1376.4,1414.5 1378.9,1412.5 1381.4,1410.5 1384.0,1408.4 1386.5,1406.2 1389.0,1403.9 1391.5,1401.5 1394.1,1399.0 1396.6,1396.5 1399.1,1393.9 1401.6,1391.3 1404.2,1388.8 1406.7,1386.3 1409.2,1383.8 1411.7,1381.3 1414.3,1378.7 1416.8,1376.1 1419.3,1373.5 1421.8,1370.7 1424.4,1367.9 1426.9,1364.9 1429.4,1361.8 1431.9,1358.5 1434.5,1355.2 1437.0,1351.9 1439.5,1348.7 1442.0,1345.6 1444.5,1342.8 1447.1,1340.1 1449.6,1337.4 1452.1,1334.8 1454.6,1332.3 1457.2,1329.9 1459.7,1327.8 1462.2,1325.9 1464.7,1324.3 1467.3,1322.9 1469.8,1321.7 1472.3,1320.6 1474.8,1319.8 1477.4,1319.2 1479.9,1318.9 1482.4,1318.9 1484.9,1319.3 1487.5,1320.0 1490.0,1321.1 1492.5,1322.5 1495.0,1324.1 1497.6,1326.0 1500.1,1328.1 1502.6,1330.2 1505.1,1332.5 1507.7,1334.9 1510.2,1337.5 1512.7,1340.4 1515.2,1343.3 1517.7,1346.4 1520.3,1349.5 1522.8,1352.5 1525.3,1355.5 1527.8,1358.4 1530.4,1361.4 1532.9,1364.3 1535.4,1367.3 1537.9,1370.3 1540.5,1373.3 1543.0,1376.3 1545.5,1379.3 1548.0,1382.3 1550.6,1385.4 1553.1,1388.6 1555.6,1391.7 1558.1,1394.8 1560.7,1397.9 1563.2,1400.9 1565.7,1403.9 1568.2,1406.7 1570.8,1409.5 1573.3,1412.2 1575.8,1414.9 1578.3,1417.5 1580.9,1420.2 1583.4,1422.9 1585.9,1425.6" fill="none" stroke="#111" stroke-width="3.5" stroke-dasharray="9.6 7 3 7"/>
</g>
<path d="M1021.8,1191.7 V1615.9 H1587.4" fill="none" stroke="#808080" stroke-width="3"/>
<line x1="1021.5" y1="1192.9" x2="1030.5" y2="1192.9" stroke="#808080" stroke-width="2.1"/>
<text class="tk" x="1006.0" y="1212.7" text-anchor="end">0. 8</text>
<line x1="1021.5" y1="1298.6" x2="1030.5" y2="1298.6" stroke="#808080" stroke-width="2.1"/>
<text class="tk" x="1006.0" y="1318.4" text-anchor="end">0. 4</text>
<line x1="1021.5" y1="1404.4" x2="1030.5" y2="1404.4" stroke="#808080" stroke-width="2.1"/>
<text class="tk" x="1006.0" y="1424.2" text-anchor="end">0. 0</text>
<line x1="1021.5" y1="1510.2" x2="1030.5" y2="1510.2" stroke="#808080" stroke-width="2.1"/>
<text class="tk" x="1006.0" y="1530.0" text-anchor="end"><tspan textLength="23" lengthAdjust="spacingAndGlyphs">−</tspan>0. 4</text>
<line x1="1021.5" y1="1615.9" x2="1030.5" y2="1615.9" stroke="#808080" stroke-width="2.1"/>
<text class="tk" x="1006.0" y="1635.7" text-anchor="end"><tspan textLength="23" lengthAdjust="spacingAndGlyphs">−</tspan>0. 8</text>
<text class="tk" x="1022.5" y="1672.7" text-anchor="middle">10. 0</text>
<line x1="1161.8" y1="1615.9" x2="1161.8" y2="1606.9" stroke="#808080" stroke-width="2.1"/>
<text class="tk" x="1163.8" y="1672.7" text-anchor="middle">10. 5</text>
<line x1="1303.2" y1="1615.9" x2="1303.2" y2="1606.9" stroke="#808080" stroke-width="2.1"/>
<text class="tk" x="1305.2" y="1672.7" text-anchor="middle">11. 0</text>
<line x1="1444.5" y1="1615.9" x2="1444.5" y2="1606.9" stroke="#808080" stroke-width="2.1"/>
<text class="tk" x="1446.5" y="1672.7" text-anchor="middle">11. 5</text>
<line x1="1585.9" y1="1615.9" x2="1585.9" y2="1606.9" stroke="#808080" stroke-width="2.1"/>
<text class="tk" x="1587.9" y="1672.7" text-anchor="middle">12. 0</text>
<text class="it" x="1304.2" y="1701.9" text-anchor="middle">t/T</text>
<text class="yl" transform="translate(903.5,1496.4) rotate(-90)"><tspan x="-0.5" y="0" font-style="italic" font-weight="bold" font-size="46">u</tspan><tspan x="24" y="3" font-size="64">/</tspan><tspan x="53" y="-4" font-size="52">(</tspan><tspan x="70" y="0" textLength="26.5" lengthAdjust="spacingAndGlyphs">m</tspan><tspan x="92.2" y="0">·</tspan><tspan x="104.5" y="0">s</tspan><tspan x="129" y="-23" font-size="31" textLength="12" lengthAdjust="spacingAndGlyphs">−</tspan><tspan x="144" y="-23" font-size="31">1</tspan><tspan x="163" y="-4" font-size="52">)</tspan></text>
<text class="it" x="1456.0" y="1237.5">8c#</text>
<rect x="1102.8" y="1443.3" width="163.1" height="160.2" fill="#fff" stroke="#999" stroke-width="1.6"/>
<circle cx="1135.3" cy="1460.9" r="8.5" fill="#000"/>
<text class="lg" x="1179.8" y="1470.9"><tspan font-style="italic">d</tspan>=0<tspan textLength="13" lengthAdjust="spacingAndGlyphs">m</tspan></text>
<line x1="1107.8" y1="1492.3" x2="1163.8" y2="1492.3" stroke="#7a7a7a" stroke-width="1.5"/>
<rect x="1128.4" y="1485.4" width="13.8" height="13.8" fill="#fff" stroke="#707070" stroke-width="1.5"/>
<text class="lg" x="1179.8" y="1502.3"><tspan font-style="italic">d</tspan>=0. 2<tspan textLength="13" lengthAdjust="spacingAndGlyphs">m</tspan></text>
<line x1="1107.8" y1="1523.8" x2="1163.8" y2="1523.8" stroke="#7a7a7a" stroke-width="1.5"/>
<text class="lg" x="1179.8" y="1533.8"><tspan font-style="italic">d</tspan>=0. 4<tspan textLength="13" lengthAdjust="spacingAndGlyphs">m</tspan></text>
<line x1="1107.8" y1="1555.2" x2="1163.8" y2="1555.2" stroke="#7a7a7a" stroke-width="1.5"/>
<polygon points="1135.3,1545.2 1126.3,1559.7 1144.3,1559.7" fill="#fff" stroke="#707070" stroke-width="1.5"/>
<text class="lg" x="1179.8" y="1565.2"><tspan font-style="italic">d</tspan>=0. 6<tspan textLength="13" lengthAdjust="spacingAndGlyphs">m</tspan></text>
<line x1="1107.8" y1="1586.7" x2="1163.8" y2="1586.7" stroke="#111" stroke-width="3.5" stroke-dasharray="9.6 7 3 7"/>
<text class="lg" x="1179.8" y="1596.7"><tspan font-style="italic">d</tspan>=0. 8<tspan textLength="13" lengthAdjust="spacingAndGlyphs">m</tspan></text></g>
<g id="p9c"><clipPath id="clip9c"><rect x="1859.8" y="1182.9" width="566.2" height="433.0"/></clipPath>
<g clip-path="url(#clip9c)">
<circle cx="1859.8" cy="1442.2" r="8.5" fill="#000"/>
<circle cx="1880.0" cy="1458.3" r="8.5" fill="#000"/>
<circle cx="1900.2" cy="1464.2" r="8.5" fill="#000"/>
<circle cx="1920.4" cy="1459.1" r="8.5" fill="#000"/>
<circle cx="1940.6" cy="1446.4" r="8.5" fill="#000"/>
<circle cx="1960.8" cy="1427.4" r="8.5" fill="#000"/>
<circle cx="1981.0" cy="1404.4" r="8.5" fill="#000"/>
<circle cx="2001.1" cy="1383.2" r="8.5" fill="#000"/>
<circle cx="2021.3" cy="1362.4" r="8.5" fill="#000"/>
<circle cx="2041.5" cy="1342.5" r="8.5" fill="#000"/>
<circle cx="2061.7" cy="1332.0" r="8.5" fill="#000"/>
<circle cx="2081.9" cy="1339.1" r="8.5" fill="#000"/>
<circle cx="2102.1" cy="1370.0" r="8.5" fill="#000"/>
<circle cx="2122.3" cy="1408.4" r="8.5" fill="#000"/>
<circle cx="2142.5" cy="1441.4" r="8.5" fill="#000"/>
<circle cx="2162.7" cy="1460.5" r="8.5" fill="#000"/>
<circle cx="2182.9" cy="1466.3" r="8.5" fill="#000"/>
<circle cx="2203.1" cy="1461.5" r="8.5" fill="#000"/>
<circle cx="2223.3" cy="1448.6" r="8.5" fill="#000"/>
<circle cx="2243.5" cy="1428.2" r="8.5" fill="#000"/>
<circle cx="2263.7" cy="1405.7" r="8.5" fill="#000"/>
<circle cx="2283.8" cy="1383.2" r="8.5" fill="#000"/>
<circle cx="2304.0" cy="1362.4" r="8.5" fill="#000"/>
<circle cx="2324.2" cy="1343.3" r="8.5" fill="#000"/>
<circle cx="2344.4" cy="1334.6" r="8.5" fill="#000"/>
<circle cx="2364.6" cy="1340.2" r="8.5" fill="#000"/>
<circle cx="2384.8" cy="1370.8" r="8.5" fill="#000"/>
<circle cx="2405.0" cy="1409.7" r="8.5" fill="#000"/>
<circle cx="2425.2" cy="1443.5" r="8.5" fill="#000"/>
<polyline points="1859.8,1427.1 1880.0,1450.1 1900.2,1454.9 1920.4,1449.9 1940.6,1438.2 1960.8,1424.8 1981.0,1406.3 2001.1,1381.9 2021.3,1352.3 2041.5,1330.6 2061.7,1328.3 2081.9,1343.9 2102.1,1373.5 2122.3,1402.8 2142.5,1426.6 2162.7,1449.3 2182.9,1453.3 2203.1,1447.8 2223.3,1437.2 2243.5,1421.9 2263.7,1404.4 2283.8,1379.5 2304.0,1351.5 2324.2,1330.6 2344.4,1328.3 2364.6,1345.4 2384.8,1375.8 2405.0,1406.0 2425.2,1428.2" fill="none" stroke="#7a7a7a" stroke-width="1.5"/>
<rect x="1852.9" y="1420.2" width="13.8" height="13.8" fill="#fff" stroke="#707070" stroke-width="1.5"/>
<rect x="1873.1" y="1443.2" width="13.8" height="13.8" fill="#fff" stroke="#707070" stroke-width="1.5"/>
<rect x="1893.3" y="1448.0" width="13.8" height="13.8" fill="#fff" stroke="#707070" stroke-width="1.5"/>
<rect x="1913.5" y="1443.0" width="13.8" height="13.8" fill="#fff" stroke="#707070" stroke-width="1.5"/>
<rect x="1933.7" y="1431.3" width="13.8" height="13.8" fill="#fff" stroke="#707070" stroke-width="1.5"/>
<rect x="1953.9" y="1417.9" width="13.8" height="13.8" fill="#fff" stroke="#707070" stroke-width="1.5"/>
<rect x="1974.1" y="1399.4" width="13.8" height="13.8" fill="#fff" stroke="#707070" stroke-width="1.5"/>
<rect x="1994.2" y="1375.0" width="13.8" height="13.8" fill="#fff" stroke="#707070" stroke-width="1.5"/>
<rect x="2014.4" y="1345.4" width="13.8" height="13.8" fill="#fff" stroke="#707070" stroke-width="1.5"/>
<rect x="2034.6" y="1323.7" width="13.8" height="13.8" fill="#fff" stroke="#707070" stroke-width="1.5"/>
<rect x="2054.8" y="1321.4" width="13.8" height="13.8" fill="#fff" stroke="#707070" stroke-width="1.5"/>
<rect x="2075.0" y="1337.0" width="13.8" height="13.8" fill="#fff" stroke="#707070" stroke-width="1.5"/>
<rect x="2095.2" y="1366.6" width="13.8" height="13.8" fill="#fff" stroke="#707070" stroke-width="1.5"/>
<rect x="2115.4" y="1395.9" width="13.8" height="13.8" fill="#fff" stroke="#707070" stroke-width="1.5"/>
<rect x="2135.6" y="1419.7" width="13.8" height="13.8" fill="#fff" stroke="#707070" stroke-width="1.5"/>
<rect x="2155.8" y="1442.4" width="13.8" height="13.8" fill="#fff" stroke="#707070" stroke-width="1.5"/>
<rect x="2176.0" y="1446.4" width="13.8" height="13.8" fill="#fff" stroke="#707070" stroke-width="1.5"/>
<rect x="2196.2" y="1440.9" width="13.8" height="13.8" fill="#fff" stroke="#707070" stroke-width="1.5"/>
<rect x="2216.4" y="1430.3" width="13.8" height="13.8" fill="#fff" stroke="#707070" stroke-width="1.5"/>
<rect x="2236.6" y="1415.0" width="13.8" height="13.8" fill="#fff" stroke="#707070" stroke-width="1.5"/>
<rect x="2256.8" y="1397.5" width="13.8" height="13.8" fill="#fff" stroke="#707070" stroke-width="1.5"/>
<rect x="2276.9" y="1372.6" width="13.8" height="13.8" fill="#fff" stroke="#707070" stroke-width="1.5"/>
<rect x="2297.1" y="1344.6" width="13.8" height="13.8" fill="#fff" stroke="#707070" stroke-width="1.5"/>
<rect x="2317.3" y="1323.7" width="13.8" height="13.8" fill="#fff" stroke="#707070" stroke-width="1.5"/>
<rect x="2337.5" y="1321.4" width="13.8" height="13.8" fill="#fff" stroke="#707070" stroke-width="1.5"/>
<rect x="2357.7" y="1338.5" width="13.8" height="13.8" fill="#fff" stroke="#707070" stroke-width="1.5"/>
<rect x="2377.9" y="1368.9" width="13.8" height="13.8" fill="#fff" stroke="#707070" stroke-width="1.5"/>
<rect x="2398.1" y="1399.1" width="13.8" height="13.8" fill="#fff" stroke="#707070" stroke-width="1.5"/>
<rect x="2418.3" y="1421.3" width="13.8" height="13.8" fill="#fff" stroke="#707070" stroke-width="1.5"/>
<polyline points="1859.8,1422.9 1862.3,1425.0 1864.8,1427.1 1867.4,1429.3 1869.9,1431.4 1872.4,1433.5 1874.9,1435.5 1877.5,1437.2 1880.0,1438.8 1882.5,1440.1 1885.0,1441.3 1887.6,1442.4 1890.1,1443.3 1892.6,1444.1 1895.1,1444.7 1897.7,1445.1 1900.2,1445.4 1902.7,1445.5 1905.2,1445.4 1907.8,1445.1 1910.3,1444.6 1912.8,1444.0 1915.3,1443.3 1917.9,1442.4 1920.4,1441.4 1922.9,1440.2 1925.4,1438.9 1928.0,1437.4 1930.5,1435.7 1933.0,1433.9 1935.5,1432.1 1938.0,1430.2 1940.6,1428.2 1943.1,1426.2 1945.6,1424.1 1948.1,1421.9 1950.7,1419.6 1953.2,1417.2 1955.7,1414.8 1958.2,1412.3 1960.8,1409.7 1963.3,1407.0 1965.8,1404.2 1968.3,1401.3 1970.9,1398.3 1973.4,1395.2 1975.9,1392.2 1978.4,1389.0 1981.0,1385.9 1983.5,1382.7 1986.0,1379.4 1988.5,1376.1 1991.1,1372.7 1993.6,1369.3 1996.1,1365.9 1998.6,1362.6 2001.1,1359.5 2003.7,1356.3 2006.2,1353.1 2008.7,1349.9 2011.2,1346.8 2013.8,1343.8 2016.3,1340.9 2018.8,1338.2 2021.3,1335.7 2023.9,1333.3 2026.4,1331.0 2028.9,1328.8 2031.4,1326.8 2034.0,1325.0 2036.5,1323.4 2039.0,1322.1 2041.5,1321.1 2044.1,1320.4 2046.6,1320.1 2049.1,1319.9 2051.6,1320.0 2054.2,1320.4 2056.7,1320.9 2059.2,1321.6 2061.7,1322.4 2064.3,1323.4 2066.8,1324.6 2069.3,1325.9 2071.8,1327.5 2074.3,1329.2 2076.9,1331.1 2079.4,1333.3 2081.9,1335.7 2084.4,1338.3 2087.0,1341.3 2089.5,1344.5 2092.0,1347.9 2094.5,1351.4 2097.1,1355.0 2099.6,1358.6 2102.1,1362.1 2104.6,1365.6 2107.2,1369.2 2109.7,1372.8 2112.2,1376.5 2114.7,1380.2 2117.3,1383.8 2119.8,1387.5 2122.3,1391.2 2124.8,1394.9 2127.4,1398.7 2129.9,1402.6 2132.4,1406.4 2134.9,1410.1 2137.5,1413.7 2140.0,1417.1 2142.5,1420.3 2145.0,1423.2 2147.5,1425.9 2150.1,1428.5 2152.6,1430.9 2155.1,1433.2 2157.6,1435.2 2160.2,1437.1 2162.7,1438.8 2165.2,1440.2 2167.7,1441.5 2170.3,1442.6 2172.8,1443.5 2175.3,1444.2 2177.8,1444.8 2180.4,1445.1 2182.9,1445.4 2185.4,1445.5 2187.9,1445.4 2190.5,1445.1 2193.0,1444.6 2195.5,1444.0 2198.0,1443.3 2200.6,1442.4 2203.1,1441.4 2205.6,1440.2 2208.1,1438.9 2210.7,1437.4 2213.2,1435.7 2215.7,1433.9 2218.2,1432.1 2220.7,1430.2 2223.3,1428.2 2225.8,1426.2 2228.3,1424.1 2230.8,1421.9 2233.4,1419.6 2235.9,1417.2 2238.4,1414.8 2240.9,1412.3 2243.5,1409.7 2246.0,1407.0 2248.5,1404.2 2251.0,1401.3 2253.6,1398.3 2256.1,1395.2 2258.6,1392.2 2261.1,1389.0 2263.7,1385.9 2266.2,1382.7 2268.7,1379.4 2271.2,1376.1 2273.8,1372.7 2276.3,1369.3 2278.8,1365.9 2281.3,1362.6 2283.8,1359.5 2286.4,1356.3 2288.9,1353.1 2291.4,1349.9 2293.9,1346.8 2296.5,1343.8 2299.0,1340.9 2301.5,1338.2 2304.0,1335.7 2306.6,1333.3 2309.1,1331.0 2311.6,1328.8 2314.1,1326.8 2316.7,1325.0 2319.2,1323.4 2321.7,1322.1 2324.2,1321.1 2326.8,1320.4 2329.3,1320.1 2331.8,1319.9 2334.3,1320.0 2336.9,1320.4 2339.4,1320.9 2341.9,1321.6 2344.4,1322.4 2347.0,1323.4 2349.5,1324.6 2352.0,1325.9 2354.5,1327.5 2357.0,1329.2 2359.6,1331.1 2362.1,1333.3 2364.6,1335.7 2367.1,1338.3 2369.7,1341.3 2372.2,1344.5 2374.7,1347.9 2377.2,1351.4 2379.8,1355.0 2382.3,1358.6 2384.8,1362.1 2387.3,1365.6 2389.9,1369.2 2392.4,1372.8 2394.9,1376.5 2397.4,1380.2 2400.0,1383.8 2402.5,1387.5 2405.0,1391.2 2407.5,1394.8 2410.1,1398.5 2412.6,1402.1 2415.1,1405.7 2417.6,1409.4 2420.2,1413.0 2422.7,1416.6 2425.2,1420.3" fill="none" stroke="#7a7a7a" stroke-width="1.5"/>
<polyline points="1859.8,1409.7 1880.0,1426.1 1900.2,1433.0 1920.4,1430.3 1940.6,1421.6 1960.8,1402.5 1981.0,1376.9 2001.1,1348.6 2021.3,1325.1 2041.5,1313.2 2061.7,1313.7 2081.9,1326.9 2102.1,1347.3 2122.3,1376.9 2142.5,1408.1 2162.7,1426.3 2182.9,1431.6 2203.1,1429.5 2223.3,1420.3 2243.5,1402.0 2263.7,1378.2 2283.8,1349.1 2304.0,1326.1 2324.2,1314.5 2344.4,1315.0 2364.6,1328.3 2384.8,1348.6 2405.0,1379.5 2425.2,1409.7" fill="none" stroke="#7a7a7a" stroke-width="1.5"/>
<polygon points="1859.8,1399.7 1850.8,1414.1 1868.8,1414.1" fill="#fff" stroke="#707070" stroke-width="1.5"/>
<polygon points="1880.0,1416.1 1871.0,1430.5 1889.0,1430.5" fill="#fff" stroke="#707070" stroke-width="1.5"/>
<polygon points="1900.2,1423.0 1891.2,1437.4 1909.2,1437.4" fill="#fff" stroke="#707070" stroke-width="1.5"/>
<polygon points="1920.4,1420.3 1911.4,1434.7 1929.4,1434.7" fill="#fff" stroke="#707070" stroke-width="1.5"/>
<polygon points="1940.6,1411.6 1931.6,1426.0 1949.6,1426.0" fill="#fff" stroke="#707070" stroke-width="1.5"/>
<polygon points="1960.8,1392.5 1951.8,1406.9 1969.8,1406.9" fill="#fff" stroke="#707070" stroke-width="1.5"/>
<polygon points="1981.0,1366.9 1972.0,1381.3 1990.0,1381.3" fill="#fff" stroke="#707070" stroke-width="1.5"/>
<polygon points="2001.1,1338.6 1992.1,1353.0 2010.1,1353.0" fill="#fff" stroke="#707070" stroke-width="1.5"/>
<polygon points="2021.3,1315.1 2012.3,1329.5 2030.3,1329.5" fill="#fff" stroke="#707070" stroke-width="1.5"/>
<polygon points="2041.5,1303.2 2032.5,1317.6 2050.5,1317.6" fill="#fff" stroke="#707070" stroke-width="1.5"/>
<polygon points="2061.7,1303.7 2052.7,1318.1 2070.7,1318.1" fill="#fff" stroke="#707070" stroke-width="1.5"/>
<polygon points="2081.9,1316.9 2072.9,1331.3 2090.9,1331.3" fill="#fff" stroke="#707070" stroke-width="1.5"/>
<polygon points="2102.1,1337.3 2093.1,1351.7 2111.1,1351.7" fill="#fff" stroke="#707070" stroke-width="1.5"/>
<polygon points="2122.3,1366.9 2113.3,1381.3 2131.3,1381.3" fill="#fff" stroke="#707070" stroke-width="1.5"/>
<polygon points="2142.5,1398.1 2133.5,1412.5 2151.5,1412.5" fill="#fff" stroke="#707070" stroke-width="1.5"/>
<polygon points="2162.7,1416.3 2153.7,1430.7 2171.7,1430.7" fill="#fff" stroke="#707070" stroke-width="1.5"/>
<polygon points="2182.9,1421.6 2173.9,1436.0 2191.9,1436.0" fill="#fff" stroke="#707070" stroke-width="1.5"/>
<polygon points="2203.1,1419.5 2194.1,1433.9 2212.1,1433.9" fill="#fff" stroke="#707070" stroke-width="1.5"/>
<polygon points="2223.3,1410.3 2214.3,1424.7 2232.3,1424.7" fill="#fff" stroke="#707070" stroke-width="1.5"/>
<polygon points="2243.5,1392.0 2234.5,1406.4 2252.5,1406.4" fill="#fff" stroke="#707070" stroke-width="1.5"/>
<polygon points="2263.7,1368.2 2254.7,1382.6 2272.7,1382.6" fill="#fff" stroke="#707070" stroke-width="1.5"/>
<polygon points="2283.8,1339.1 2274.8,1353.5 2292.8,1353.5" fill="#fff" stroke="#707070" stroke-width="1.5"/>
<polygon points="2304.0,1316.1 2295.0,1330.5 2313.0,1330.5" fill="#fff" stroke="#707070" stroke-width="1.5"/>
<polygon points="2324.2,1304.5 2315.2,1318.9 2333.2,1318.9" fill="#fff" stroke="#707070" stroke-width="1.5"/>
<polygon points="2344.4,1305.0 2335.4,1319.4 2353.4,1319.4" fill="#fff" stroke="#707070" stroke-width="1.5"/>
<polygon points="2364.6,1318.3 2355.6,1332.7 2373.6,1332.7" fill="#fff" stroke="#707070" stroke-width="1.5"/>
<polygon points="2384.8,1338.6 2375.8,1353.0 2393.8,1353.0" fill="#fff" stroke="#707070" stroke-width="1.5"/>
<polygon points="2405.0,1369.5 2396.0,1383.9 2414.0,1383.9" fill="#fff" stroke="#707070" stroke-width="1.5"/>
<polygon points="2425.2,1399.7 2416.2,1414.1 2434.2,1414.1" fill="#fff" stroke="#707070" stroke-width="1.5"/>
<polyline points="1859.8,1395.4 1862.3,1397.4 1864.8,1399.5 1867.4,1401.6 1869.9,1403.7 1872.4,1405.8 1874.9,1407.7 1877.5,1409.5 1880.0,1411.0 1882.5,1412.4 1885.0,1413.5 1887.6,1414.6 1890.1,1415.5 1892.6,1416.3 1895.1,1417.0 1897.7,1417.6 1900.2,1418.1 1902.7,1418.6 1905.2,1419.0 1907.8,1419.2 1910.3,1419.4 1912.8,1419.5 1915.3,1419.4 1917.9,1419.2 1920.4,1418.9 1922.9,1418.5 1925.4,1418.0 1928.0,1417.4 1930.5,1416.7 1933.0,1415.9 1935.5,1414.8 1938.0,1413.7 1940.6,1412.3 1943.1,1410.8 1945.6,1409.1 1948.1,1407.2 1950.7,1405.2 1953.2,1403.0 1955.7,1400.8 1958.2,1398.4 1960.8,1395.9 1963.3,1393.4 1965.8,1390.6 1968.3,1387.7 1970.9,1384.7 1973.4,1381.7 1975.9,1378.6 1978.4,1375.6 1981.0,1372.7 1983.5,1369.8 1986.0,1366.8 1988.5,1363.9 1991.1,1360.9 1993.6,1358.0 1996.1,1355.2 1998.6,1352.4 2001.1,1349.7 2003.7,1347.0 2006.2,1344.3 2008.7,1341.7 2011.2,1339.1 2013.8,1336.7 2016.3,1334.4 2018.8,1332.2 2021.3,1330.4 2023.9,1328.7 2026.4,1327.2 2028.9,1325.9 2031.4,1324.7 2034.0,1323.8 2036.5,1322.9 2039.0,1322.2 2041.5,1321.6 2044.1,1321.2 2046.6,1321.0 2049.1,1320.9 2051.6,1321.0 2054.2,1321.2 2056.7,1321.5 2059.2,1321.9 2061.7,1322.4 2064.3,1323.0 2066.8,1323.6 2069.3,1324.4 2071.8,1325.2 2074.3,1326.2 2076.9,1327.4 2079.4,1328.8 2081.9,1330.4 2084.4,1332.2 2087.0,1334.4 2089.5,1336.7 2092.0,1339.2 2094.5,1341.9 2097.1,1344.6 2099.6,1347.4 2102.1,1350.2 2104.6,1353.1 2107.2,1356.1 2109.7,1359.3 2112.2,1362.5 2114.7,1365.8 2117.3,1369.0 2119.8,1372.2 2122.3,1375.3 2124.8,1378.4 2127.4,1381.4 2129.9,1384.4 2132.4,1387.4 2134.9,1390.4 2137.5,1393.3 2140.0,1396.2 2142.5,1399.1 2145.0,1402.0 2147.5,1405.0 2150.1,1408.0 2152.6,1411.0 2155.1,1413.8 2157.6,1416.5 2160.2,1418.8 2162.7,1420.8 2165.2,1422.4 2167.7,1423.7 2170.3,1424.8 2172.8,1425.6 2175.3,1426.3 2177.8,1426.8 2180.4,1427.3 2182.9,1427.7 2185.4,1428.0 2187.9,1428.3 2190.5,1428.5 2193.0,1428.5 2195.5,1428.4 2198.0,1428.2 2200.6,1427.9 2203.1,1427.4 2205.6,1426.8 2208.1,1426.1 2210.7,1425.2 2213.2,1424.2 2215.7,1423.1 2218.2,1421.8 2220.7,1420.4 2223.3,1418.9 2225.8,1417.3 2228.3,1415.6 2230.8,1413.7 2233.4,1411.7 2235.9,1409.5 2238.4,1407.3 2240.9,1404.9 2243.5,1402.3 2246.0,1399.5 2248.5,1396.4 2251.0,1393.2 2253.6,1389.8 2256.1,1386.4 2258.6,1383.0 2261.1,1379.8 2263.7,1376.6 2266.2,1373.7 2268.7,1370.7 2271.2,1367.8 2273.8,1365.0 2276.3,1362.2 2278.8,1359.5 2281.3,1356.8 2283.8,1354.2 2286.4,1351.5 2288.9,1348.9 2291.4,1346.3 2293.9,1343.8 2296.5,1341.4 2299.0,1339.1 2301.5,1337.0 2304.0,1335.1 2306.6,1333.5 2309.1,1332.0 2311.6,1330.8 2314.1,1329.6 2316.7,1328.6 2319.2,1327.8 2321.7,1327.0 2324.2,1326.4 2326.8,1325.9 2329.3,1325.5 2331.8,1325.2 2334.3,1325.0 2336.9,1325.0 2339.4,1325.0 2341.9,1325.3 2344.4,1325.6 2347.0,1326.1 2349.5,1326.7 2352.0,1327.4 2354.5,1328.2 2357.0,1329.2 2359.6,1330.3 2362.1,1331.6 2364.6,1333.0 2367.1,1334.6 2369.7,1336.4 2372.2,1338.4 2374.7,1340.5 2377.2,1342.7 2379.8,1345.1 2382.3,1347.6 2384.8,1350.2 2387.3,1352.9 2389.9,1355.9 2392.4,1358.9 2394.9,1362.1 2397.4,1365.4 2400.0,1368.7 2402.5,1372.0 2405.0,1375.3 2407.5,1378.7 2410.1,1382.1 2412.6,1385.5 2415.1,1389.0 2417.6,1392.6 2420.2,1396.1 2422.7,1399.6 2425.2,1403.1" fill="none" stroke="#111" stroke-width="3.5" stroke-dasharray="9.6 7 3 7"/>
</g>
<path d="M1861.1,1191.7 V1615.9 H2426.7" fill="none" stroke="#808080" stroke-width="3"/>
<line x1="1860.8" y1="1192.9" x2="1869.8" y2="1192.9" stroke="#808080" stroke-width="2.1"/>
<text class="tk" x="1845.3" y="1212.7" text-anchor="end">0. 8</text>
<line x1="1860.8" y1="1298.6" x2="1869.8" y2="1298.6" stroke="#808080" stroke-width="2.1"/>
<text class="tk" x="1845.3" y="1318.4" text-anchor="end">0. 4</text>
<line x1="1860.8" y1="1404.4" x2="1869.8" y2="1404.4" stroke="#808080" stroke-width="2.1"/>
<text class="tk" x="1845.3" y="1424.2" text-anchor="end">0. 0</text>
<line x1="1860.8" y1="1510.2" x2="1869.8" y2="1510.2" stroke="#808080" stroke-width="2.1"/>
<text class="tk" x="1845.3" y="1530.0" text-anchor="end"><tspan textLength="23" lengthAdjust="spacingAndGlyphs">−</tspan>0. 4</text>
<line x1="1860.8" y1="1615.9" x2="1869.8" y2="1615.9" stroke="#808080" stroke-width="2.1"/>
<text class="tk" x="1845.3" y="1635.7" text-anchor="end"><tspan textLength="23" lengthAdjust="spacingAndGlyphs">−</tspan>0. 8</text>
<text class="tk" x="1861.8" y="1672.7" text-anchor="middle">10. 0</text>
<line x1="2001.1" y1="1615.9" x2="2001.1" y2="1606.9" stroke="#808080" stroke-width="2.1"/>
<text class="tk" x="2003.1" y="1672.7" text-anchor="middle">10. 5</text>
<line x1="2142.5" y1="1615.9" x2="2142.5" y2="1606.9" stroke="#808080" stroke-width="2.1"/>
<text class="tk" x="2144.5" y="1672.7" text-anchor="middle">11. 0</text>
<line x1="2283.8" y1="1615.9" x2="2283.8" y2="1606.9" stroke="#808080" stroke-width="2.1"/>
<text class="tk" x="2285.8" y="1672.7" text-anchor="middle">11. 5</text>
<line x1="2425.2" y1="1615.9" x2="2425.2" y2="1606.9" stroke="#808080" stroke-width="2.1"/>
<text class="tk" x="2427.2" y="1672.7" text-anchor="middle">12. 0</text>
<text class="it" x="2143.5" y="1701.9" text-anchor="middle">t/T</text>
<text class="yl" transform="translate(1742.8,1496.4) rotate(-90)"><tspan x="-0.5" y="0" font-style="italic" font-weight="bold" font-size="46">u</tspan><tspan x="24" y="3" font-size="64">/</tspan><tspan x="53" y="-4" font-size="52">(</tspan><tspan x="70" y="0" textLength="26.5" lengthAdjust="spacingAndGlyphs">m</tspan><tspan x="92.2" y="0">·</tspan><tspan x="104.5" y="0">s</tspan><tspan x="129" y="-23" font-size="31" textLength="12" lengthAdjust="spacingAndGlyphs">−</tspan><tspan x="144" y="-23" font-size="31">1</tspan><tspan x="163" y="-4" font-size="52">)</tspan></text>
<text class="it" x="2276.0" y="1237.5">9c#</text>
<rect x="1963.0" y="1442.8" width="163.2" height="160.6" fill="#fff" stroke="#999" stroke-width="1.6"/>
<circle cx="1995.5" cy="1460.4" r="8.5" fill="#000"/>
<text class="lg" x="2040.0" y="1470.4"><tspan font-style="italic">d</tspan>=0<tspan textLength="13" lengthAdjust="spacingAndGlyphs">m</tspan></text>
<line x1="1968.0" y1="1491.9" x2="2024.0" y2="1491.9" stroke="#7a7a7a" stroke-width="1.5"/>
<rect x="1988.6" y="1485.0" width="13.8" height="13.8" fill="#fff" stroke="#707070" stroke-width="1.5"/>
<text class="lg" x="2040.0" y="1501.9"><tspan font-style="italic">d</tspan>=0. 2<tspan textLength="13" lengthAdjust="spacingAndGlyphs">m</tspan></text>
<line x1="1968.0" y1="1523.5" x2="2024.0" y2="1523.5" stroke="#7a7a7a" stroke-width="1.5"/>
<text class="lg" x="2040.0" y="1533.5"><tspan font-style="italic">d</tspan>=0. 4<tspan textLength="13" lengthAdjust="spacingAndGlyphs">m</tspan></text>
<line x1="1968.0" y1="1555.0" x2="2024.0" y2="1555.0" stroke="#7a7a7a" stroke-width="1.5"/>
<polygon points="1995.5,1545.0 1986.5,1559.5 2004.5,1559.5" fill="#fff" stroke="#707070" stroke-width="1.5"/>
<text class="lg" x="2040.0" y="1565.0"><tspan font-style="italic">d</tspan>=0. 6<tspan textLength="13" lengthAdjust="spacingAndGlyphs">m</tspan></text>
<line x1="1968.0" y1="1586.6" x2="2024.0" y2="1586.6" stroke="#111" stroke-width="3.5" stroke-dasharray="9.6 7 3 7"/>
<text class="lg" x="2040.0" y="1596.6"><tspan font-style="italic">d</tspan>=0. 8<tspan textLength="13" lengthAdjust="spacingAndGlyphs">m</tspan></text></g>
</g>
</svg></body></html>
